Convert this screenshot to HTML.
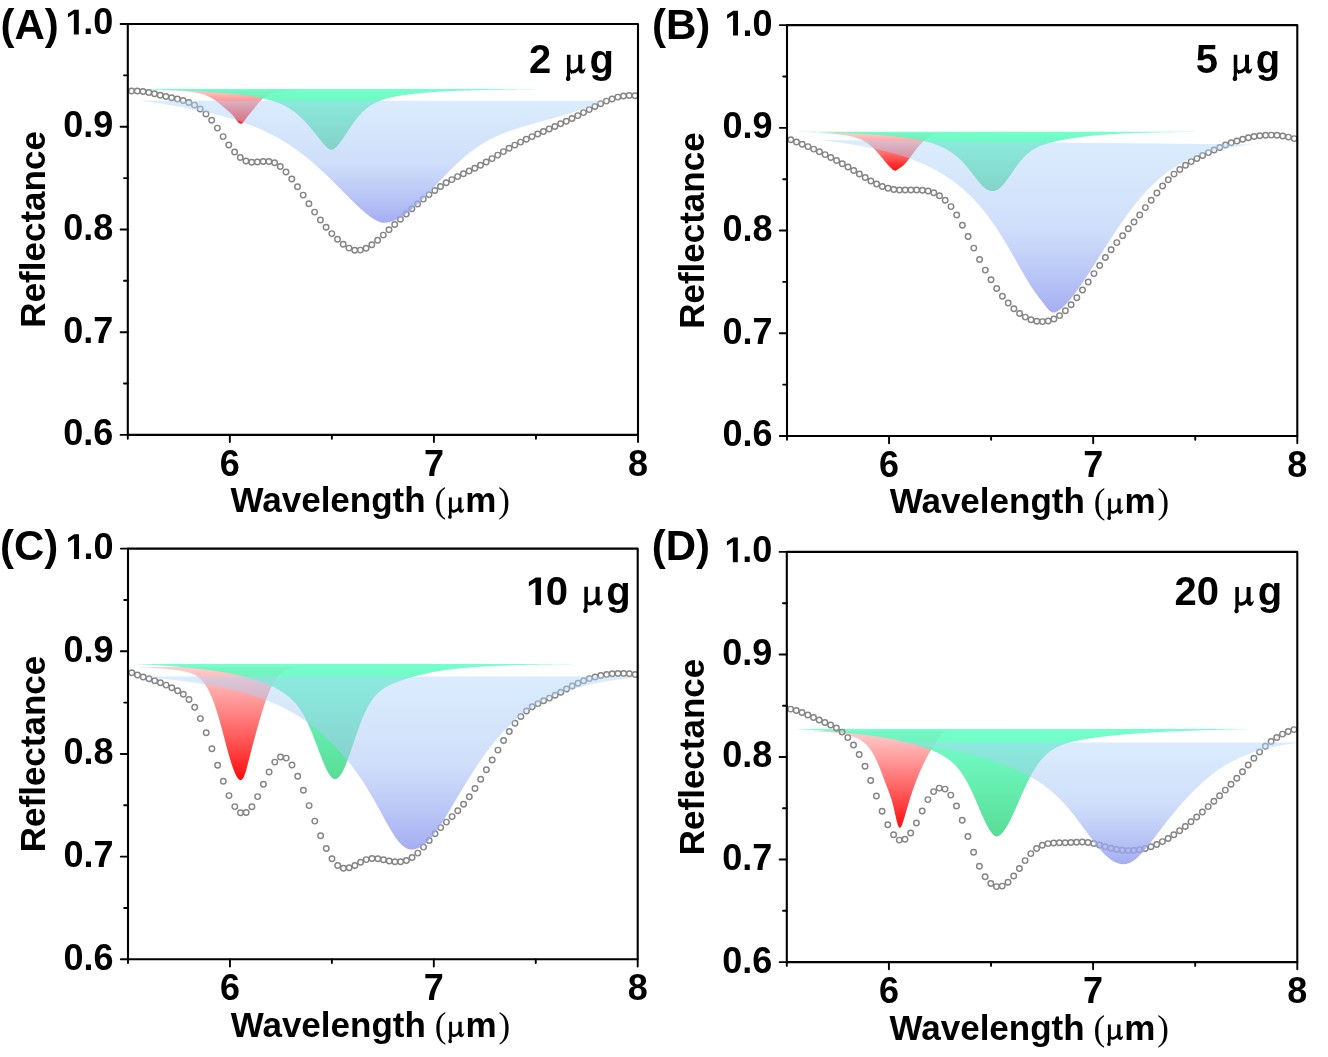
<!DOCTYPE html>
<html><head><meta charset="utf-8"><style>
html,body{margin:0;padding:0;background:#fff;width:1328px;height:1057px;overflow:hidden}
svg{display:block;filter:blur(0.45px)}
text{font-family:"Liberation Sans",sans-serif;font-weight:bold;fill:#000}
.tk{font-size:36px}
.let{font-size:42px}
.conc{font-size:40px}
.mu{font-family:"Liberation Serif",serif;font-weight:normal;font-size:43px}
.ax{font-size:35px}
.rg{font-weight:normal}
.ser{font-family:"Liberation Serif",serif;font-weight:normal}
</style></head><body>
<svg width="1328" height="1057" viewBox="0 0 1328 1057">
<rect width="1328" height="1057" fill="#fff"/>
<clipPath id="clipA"><rect x="127.8" y="24.0" width="510.2" height="410.9"/></clipPath>
<linearGradient id="gAred" gradientUnits="userSpaceOnUse" x1="0" y1="90.0" x2="0" y2="124.0"><stop offset="0" stop-color="#ffc4c4" stop-opacity="0.85"/><stop offset="1" stop-color="#ff0a0a" stop-opacity="1.00"/></linearGradient>
<linearGradient id="gAgreen" gradientUnits="userSpaceOnUse" x1="0" y1="89.0" x2="0" y2="150.0"><stop offset="0" stop-color="#5cffc4" stop-opacity="0.85"/><stop offset="1" stop-color="#46d98a" stop-opacity="0.90"/></linearGradient>
<linearGradient id="gAblue" gradientUnits="userSpaceOnUse" x1="0" y1="100.8" x2="0" y2="222.8"><stop offset="0" stop-color="#add5f9" stop-opacity="0.45"/><stop offset="0.5" stop-color="#a8c4f6" stop-opacity="0.55"/><stop offset="1" stop-color="#959fef" stop-opacity="0.85"/></linearGradient>
<g clip-path="url(#clipA)">
<path d="M150.0,90.00 L150.0,90.01 L150.5,90.01 L151.0,90.02 L151.5,90.02 L152.0,90.03 L152.5,90.04 L153.0,90.04 L153.5,90.05 L154.0,90.06 L154.5,90.07 L155.0,90.08 L155.5,90.09 L156.0,90.09 L156.5,90.10 L157.0,90.11 L157.5,90.12 L158.0,90.13 L158.5,90.14 L159.0,90.15 L159.5,90.16 L160.0,90.17 L160.5,90.18 L161.0,90.20 L161.5,90.21 L162.0,90.22 L162.5,90.23 L163.0,90.24 L163.5,90.26 L164.0,90.27 L164.5,90.28 L165.0,90.29 L165.5,90.31 L166.0,90.32 L166.5,90.34 L167.0,90.35 L167.5,90.37 L168.0,90.38 L168.5,90.40 L169.0,90.42 L169.5,90.43 L170.0,90.45 L170.5,90.47 L171.0,90.49 L171.5,90.51 L172.0,90.53 L172.5,90.55 L173.0,90.57 L173.5,90.59 L174.0,90.61 L174.5,90.63 L175.0,90.66 L175.5,90.68 L176.0,90.71 L176.5,90.73 L177.0,90.76 L177.5,90.78 L178.0,90.81 L178.5,90.84 L179.0,90.87 L179.5,90.90 L180.0,90.93 L180.5,90.96 L181.0,90.99 L181.5,91.03 L182.0,91.06 L182.5,91.10 L183.0,91.14 L183.5,91.17 L184.0,91.21 L184.5,91.26 L185.0,91.30 L185.5,91.34 L186.0,91.39 L186.5,91.43 L187.0,91.48 L187.5,91.53 L188.0,91.58 L188.5,91.63 L189.0,91.69 L189.5,91.75 L190.0,91.81 L190.5,91.87 L191.0,91.93 L191.5,91.99 L192.0,92.06 L192.5,92.13 L193.0,92.20 L193.5,92.28 L194.0,92.35 L194.5,92.43 L195.0,92.52 L195.5,92.60 L196.0,92.69 L196.5,92.79 L197.0,92.88 L197.5,92.98 L198.0,93.08 L198.5,93.19 L199.0,93.30 L199.5,93.42 L200.0,93.54 L200.5,93.66 L201.0,93.79 L201.5,93.92 L202.0,94.06 L202.5,94.21 L203.0,94.36 L203.5,94.51 L204.0,94.67 L204.5,94.84 L205.0,95.01 L205.5,95.19 L206.0,95.38 L206.5,95.57 L207.0,95.77 L207.5,95.98 L208.0,96.20 L208.5,96.42 L209.0,96.66 L209.5,96.90 L210.0,97.15 L210.5,97.40 L211.0,97.67 L211.5,97.95 L212.0,98.23 L212.5,98.53 L213.0,98.83 L213.5,99.15 L214.0,99.47 L214.5,99.80 L215.0,100.15 L215.5,100.50 L216.0,100.86 L216.5,101.23 L217.0,101.61 L217.5,102.00 L218.0,102.39 L218.5,102.79 L219.0,103.20 L219.5,103.62 L220.0,104.04 L220.5,104.47 L221.0,104.90 L221.5,105.33 L222.0,105.77 L222.5,106.20 L223.0,106.64 L223.5,107.08 L224.0,107.51 L224.5,107.94 L225.0,108.37 L225.5,108.80 L226.0,109.22 L226.5,109.64 L227.0,110.06 L227.5,110.48 L228.0,110.89 L228.5,111.31 L229.0,111.74 L229.5,112.17 L230.0,112.61 L230.5,113.06 L231.0,113.54 L231.5,114.03 L232.0,114.55 L232.5,115.09 L233.0,115.66 L233.5,116.25 L234.0,116.87 L234.5,117.52 L235.0,118.17 L235.5,118.84 L236.0,119.51 L236.5,120.17 L237.0,120.81 L237.5,121.41 L238.0,121.97 L238.5,122.46 L239.0,122.89 L239.5,123.23 L240.0,123.47 L240.5,123.61 L241.0,123.64 L241.5,123.55 L242.0,123.33 L242.5,123.00 L243.0,122.57 L243.5,122.04 L244.0,121.43 L244.5,120.77 L245.0,120.08 L245.5,119.36 L246.0,118.65 L246.5,117.94 L247.0,117.24 L247.5,116.57 L248.0,115.92 L248.5,115.28 L249.0,114.67 L249.5,114.07 L250.0,113.47 L250.5,112.88 L251.0,112.29 L251.5,111.70 L252.0,111.10 L252.5,110.49 L253.0,109.88 L253.5,109.26 L254.0,108.63 L254.5,108.00 L255.0,107.37 L255.5,106.74 L256.0,106.12 L256.5,105.50 L257.0,104.88 L257.5,104.28 L258.0,103.69 L258.5,103.12 L259.0,102.56 L259.5,102.01 L260.0,101.48 L260.5,100.97 L261.0,100.48 L261.5,100.01 L262.0,99.55 L262.5,99.12 L263.0,98.70 L263.5,98.30 L264.0,97.91 L264.5,97.55 L265.0,97.20 L265.5,96.86 L266.0,96.55 L266.5,96.24 L267.0,95.96 L267.5,95.68 L268.0,95.42 L268.5,95.17 L269.0,94.94 L269.5,94.71 L270.0,94.50 L270.5,94.29 L271.0,94.10 L271.5,93.92 L272.0,93.74 L272.5,93.57 L273.0,93.41 L273.5,93.26 L274.0,93.12 L274.5,92.98 L275.0,92.85 L275.5,92.73 L276.0,92.61 L276.5,92.49 L277.0,92.39 L277.5,92.28 L278.0,92.19 L278.5,92.09 L279.0,92.00 L279.5,91.92 L280.0,91.83 L280.5,91.76 L281.0,91.68 L281.5,91.61 L282.0,91.54 L282.5,91.47 L283.0,91.41 L283.5,91.35 L284.0,91.29 L284.5,91.24 L285.0,91.18 L285.5,91.13 L286.0,91.08 L286.5,91.04 L287.0,90.99 L287.5,90.95 L288.0,90.91 L288.5,90.87 L289.0,90.83 L289.5,90.79 L290.0,90.76 L290.5,90.72 L291.0,90.69 L291.5,90.66 L292.0,90.63 L292.5,90.60 L293.0,90.57 L293.5,90.54 L294.0,90.51 L294.5,90.49 L295.0,90.46 L295.5,90.44 L296.0,90.42 L296.5,90.39 L297.0,90.37 L297.5,90.35 L298.0,90.33 L298.5,90.31 L299.0,90.29 L299.5,90.28 L300.0,90.26 L300.5,90.24 L301.0,90.22 L301.5,90.21 L302.0,90.19 L302.5,90.18 L303.0,90.16 L303.5,90.15 L304.0,90.14 L304.5,90.12 L305.0,90.11 L305.5,90.10 L306.0,90.09 L306.5,90.07 L307.0,90.06 L307.5,90.05 L308.0,90.04 L308.5,90.03 L309.0,90.02 L309.5,90.02 L310.0,90.01 L310.0,90.00 Z" fill="url(#gAred)"/>
<path d="M130.0,89.00 L130.0,89.01 L130.5,89.02 L131.0,89.02 L131.5,89.03 L132.0,89.04 L132.5,89.05 L133.0,89.06 L133.5,89.08 L134.0,89.09 L134.5,89.10 L135.0,89.11 L135.5,89.12 L136.0,89.13 L136.5,89.14 L137.0,89.15 L137.5,89.17 L138.0,89.18 L138.5,89.19 L139.0,89.20 L139.5,89.21 L140.0,89.23 L140.5,89.24 L141.0,89.25 L141.5,89.26 L142.0,89.27 L142.5,89.29 L143.0,89.30 L143.5,89.31 L144.0,89.32 L144.5,89.34 L145.0,89.35 L145.5,89.36 L146.0,89.37 L146.5,89.39 L147.0,89.40 L147.5,89.41 L148.0,89.43 L148.5,89.44 L149.0,89.45 L149.5,89.47 L150.0,89.48 L150.5,89.49 L151.0,89.51 L151.5,89.52 L152.0,89.53 L152.5,89.55 L153.0,89.56 L153.5,89.58 L154.0,89.59 L154.5,89.60 L155.0,89.62 L155.5,89.63 L156.0,89.65 L156.5,89.66 L157.0,89.68 L157.5,89.69 L158.0,89.71 L158.5,89.72 L159.0,89.74 L159.5,89.75 L160.0,89.77 L160.5,89.78 L161.0,89.80 L161.5,89.81 L162.0,89.83 L162.5,89.85 L163.0,89.86 L163.5,89.88 L164.0,89.89 L164.5,89.91 L165.0,89.93 L165.5,89.94 L166.0,89.96 L166.5,89.98 L167.0,89.99 L167.5,90.01 L168.0,90.03 L168.5,90.04 L169.0,90.06 L169.5,90.08 L170.0,90.10 L170.5,90.11 L171.0,90.13 L171.5,90.15 L172.0,90.17 L172.5,90.19 L173.0,90.20 L173.5,90.22 L174.0,90.24 L174.5,90.26 L175.0,90.28 L175.5,90.30 L176.0,90.32 L176.5,90.34 L177.0,90.36 L177.5,90.38 L178.0,90.40 L178.5,90.42 L179.0,90.44 L179.5,90.46 L180.0,90.48 L180.5,90.50 L181.0,90.52 L181.5,90.54 L182.0,90.56 L182.5,90.58 L183.0,90.60 L183.5,90.62 L184.0,90.64 L184.5,90.67 L185.0,90.69 L185.5,90.71 L186.0,90.73 L186.5,90.75 L187.0,90.78 L187.5,90.80 L188.0,90.82 L188.5,90.85 L189.0,90.87 L189.5,90.89 L190.0,90.92 L190.5,90.94 L191.0,90.96 L191.5,90.99 L192.0,91.01 L192.5,91.04 L193.0,91.06 L193.5,91.09 L194.0,91.11 L194.5,91.14 L195.0,91.16 L195.5,91.19 L196.0,91.22 L196.5,91.24 L197.0,91.27 L197.5,91.29 L198.0,91.32 L198.5,91.35 L199.0,91.38 L199.5,91.40 L200.0,91.43 L200.5,91.46 L201.0,91.49 L201.5,91.52 L202.0,91.55 L202.5,91.57 L203.0,91.60 L203.5,91.63 L204.0,91.66 L204.5,91.69 L205.0,91.72 L205.5,91.75 L206.0,91.78 L206.5,91.82 L207.0,91.85 L207.5,91.88 L208.0,91.91 L208.5,91.94 L209.0,91.97 L209.5,92.01 L210.0,92.04 L210.5,92.07 L211.0,92.11 L211.5,92.14 L212.0,92.18 L212.5,92.21 L213.0,92.24 L213.5,92.28 L214.0,92.32 L214.5,92.35 L215.0,92.39 L215.5,92.42 L216.0,92.46 L216.5,92.50 L217.0,92.54 L217.5,92.57 L218.0,92.61 L218.5,92.65 L219.0,92.69 L219.5,92.73 L220.0,92.77 L220.5,92.81 L221.0,92.85 L221.5,92.89 L222.0,92.93 L222.5,92.97 L223.0,93.01 L223.5,93.06 L224.0,93.10 L224.5,93.14 L225.0,93.19 L225.5,93.23 L226.0,93.28 L226.5,93.32 L227.0,93.37 L227.5,93.41 L228.0,93.46 L228.5,93.51 L229.0,93.55 L229.5,93.60 L230.0,93.65 L230.5,93.70 L231.0,93.75 L231.5,93.80 L232.0,93.85 L232.5,93.90 L233.0,93.95 L233.5,94.00 L234.0,94.05 L234.5,94.11 L235.0,94.16 L235.5,94.21 L236.0,94.27 L236.5,94.32 L237.0,94.38 L237.5,94.44 L238.0,94.49 L238.5,94.55 L239.0,94.61 L239.5,94.67 L240.0,94.73 L240.5,94.79 L241.0,94.85 L241.5,94.91 L242.0,94.98 L242.5,95.04 L243.0,95.10 L243.5,95.17 L244.0,95.23 L244.5,95.30 L245.0,95.37 L245.5,95.44 L246.0,95.50 L246.5,95.57 L247.0,95.64 L247.5,95.72 L248.0,95.79 L248.5,95.86 L249.0,95.93 L249.5,96.01 L250.0,96.09 L250.5,96.16 L251.0,96.24 L251.5,96.32 L252.0,96.40 L252.5,96.48 L253.0,96.56 L253.5,96.65 L254.0,96.73 L254.5,96.82 L255.0,96.90 L255.5,96.99 L256.0,97.08 L256.5,97.17 L257.0,97.26 L257.5,97.35 L258.0,97.45 L258.5,97.54 L259.0,97.64 L259.5,97.74 L260.0,97.84 L260.5,97.94 L261.0,98.04 L261.5,98.15 L262.0,98.26 L262.5,98.36 L263.0,98.47 L263.5,98.58 L264.0,98.70 L264.5,98.81 L265.0,98.93 L265.5,99.05 L266.0,99.17 L266.5,99.30 L267.0,99.42 L267.5,99.55 L268.0,99.68 L268.5,99.81 L269.0,99.95 L269.5,100.08 L270.0,100.22 L270.5,100.37 L271.0,100.51 L271.5,100.66 L272.0,100.81 L272.5,100.96 L273.0,101.12 L273.5,101.28 L274.0,101.44 L274.5,101.61 L275.0,101.78 L275.5,101.95 L276.0,102.13 L276.5,102.31 L277.0,102.49 L277.5,102.68 L278.0,102.87 L278.5,103.06 L279.0,103.26 L279.5,103.46 L280.0,103.67 L280.5,103.88 L281.0,104.10 L281.5,104.32 L282.0,104.54 L282.5,104.77 L283.0,105.01 L283.5,105.25 L284.0,105.49 L284.5,105.74 L285.0,106.00 L285.5,106.26 L286.0,106.52 L286.5,106.80 L287.0,107.07 L287.5,107.36 L288.0,107.64 L288.5,107.94 L289.0,108.24 L289.5,108.55 L290.0,108.86 L290.5,109.18 L291.0,109.50 L291.5,109.84 L292.0,110.18 L292.5,110.52 L293.0,110.87 L293.5,111.23 L294.0,111.60 L294.5,111.97 L295.0,112.35 L295.5,112.74 L296.0,113.13 L296.5,113.54 L297.0,113.94 L297.5,114.36 L298.0,114.78 L298.5,115.21 L299.0,115.65 L299.5,116.10 L300.0,116.55 L300.5,117.01 L301.0,117.48 L301.5,117.95 L302.0,118.43 L302.5,118.92 L303.0,119.42 L303.5,119.92 L304.0,120.43 L304.5,120.95 L305.0,121.48 L305.5,122.01 L306.0,122.55 L306.5,123.09 L307.0,123.64 L307.5,124.20 L308.0,124.77 L308.5,125.34 L309.0,125.92 L309.5,126.50 L310.0,127.09 L310.5,127.68 L311.0,128.28 L311.5,128.88 L312.0,129.49 L312.5,130.10 L313.0,130.72 L313.5,131.34 L314.0,131.97 L314.5,132.59 L315.0,133.22 L315.5,133.86 L316.0,134.49 L316.5,135.13 L317.0,135.76 L317.5,136.40 L318.0,137.04 L318.5,137.67 L319.0,138.30 L319.5,138.94 L320.0,139.56 L320.5,140.19 L321.0,140.81 L321.5,141.42 L322.0,142.03 L322.5,142.63 L323.0,143.22 L323.5,143.80 L324.0,144.37 L324.5,144.93 L325.0,145.47 L325.5,145.99 L326.0,146.50 L326.5,146.98 L327.0,147.45 L327.5,147.88 L328.0,148.29 L328.5,148.66 L329.0,148.99 L329.5,149.27 L330.0,149.49 L330.5,149.65 L331.0,149.72 L331.5,149.73 L332.0,149.66 L332.5,149.52 L333.0,149.32 L333.5,149.07 L334.0,148.77 L334.5,148.44 L335.0,148.06 L335.5,147.65 L336.0,147.20 L336.5,146.72 L337.0,146.21 L337.5,145.68 L338.0,145.11 L338.5,144.53 L339.0,143.92 L339.5,143.29 L340.0,142.64 L340.5,141.97 L341.0,141.29 L341.5,140.60 L342.0,139.89 L342.5,139.17 L343.0,138.44 L343.5,137.70 L344.0,136.96 L344.5,136.21 L345.0,135.45 L345.5,134.69 L346.0,133.93 L346.5,133.17 L347.0,132.41 L347.5,131.65 L348.0,130.89 L348.5,130.13 L349.0,129.37 L349.5,128.62 L350.0,127.87 L350.5,127.13 L351.0,126.40 L351.5,125.67 L352.0,124.95 L352.5,124.24 L353.0,123.53 L353.5,122.84 L354.0,122.15 L354.5,121.47 L355.0,120.80 L355.5,120.15 L356.0,119.50 L356.5,118.86 L357.0,118.24 L357.5,117.62 L358.0,117.02 L358.5,116.43 L359.0,115.85 L359.5,115.28 L360.0,114.72 L360.5,114.17 L361.0,113.64 L361.5,113.12 L362.0,112.61 L362.5,112.11 L363.0,111.62 L363.5,111.14 L364.0,110.68 L364.5,110.22 L365.0,109.78 L365.5,109.35 L366.0,108.93 L366.5,108.52 L367.0,108.12 L367.5,107.73 L368.0,107.35 L368.5,106.98 L369.0,106.62 L369.5,106.27 L370.0,105.93 L370.5,105.60 L371.0,105.28 L371.5,104.96 L372.0,104.66 L372.5,104.36 L373.0,104.07 L373.5,103.79 L374.0,103.52 L374.5,103.25 L375.0,102.99 L375.5,102.74 L376.0,102.49 L376.5,102.26 L377.0,102.02 L377.5,101.80 L378.0,101.58 L378.5,101.36 L379.0,101.16 L379.5,100.95 L380.0,100.76 L380.5,100.56 L381.0,100.38 L381.5,100.19 L382.0,100.01 L382.5,99.84 L383.0,99.67 L383.5,99.51 L384.0,99.34 L384.5,99.19 L385.0,99.03 L385.5,98.88 L386.0,98.74 L386.5,98.59 L387.0,98.45 L387.5,98.32 L388.0,98.18 L388.5,98.05 L389.0,97.92 L389.5,97.80 L390.0,97.68 L390.5,97.55 L391.0,97.44 L391.5,97.32 L392.0,97.21 L392.5,97.10 L393.0,96.99 L393.5,96.88 L394.0,96.78 L394.5,96.68 L395.0,96.58 L395.5,96.48 L396.0,96.38 L396.5,96.28 L397.0,96.19 L397.5,96.10 L398.0,96.01 L398.5,95.92 L399.0,95.83 L399.5,95.75 L400.0,95.66 L400.5,95.58 L401.0,95.50 L401.5,95.42 L402.0,95.34 L402.5,95.26 L403.0,95.18 L403.5,95.11 L404.0,95.04 L404.5,94.96 L405.0,94.89 L405.5,94.82 L406.0,94.75 L406.5,94.68 L407.0,94.61 L407.5,94.55 L408.0,94.48 L408.5,94.42 L409.0,94.35 L409.5,94.29 L410.0,94.23 L410.5,94.17 L411.0,94.11 L411.5,94.05 L412.0,93.99 L412.5,93.93 L413.0,93.88 L413.5,93.82 L414.0,93.76 L414.5,93.71 L415.0,93.66 L415.5,93.60 L416.0,93.55 L416.5,93.50 L417.0,93.45 L417.5,93.40 L418.0,93.35 L418.5,93.30 L419.0,93.25 L419.5,93.20 L420.0,93.16 L420.5,93.11 L421.0,93.06 L421.5,93.02 L422.0,92.97 L422.5,92.93 L423.0,92.89 L423.5,92.84 L424.0,92.80 L424.5,92.76 L425.0,92.72 L425.5,92.68 L426.0,92.64 L426.5,92.60 L427.0,92.56 L427.5,92.52 L428.0,92.48 L428.5,92.44 L429.0,92.40 L429.5,92.37 L430.0,92.33 L430.5,92.29 L431.0,92.26 L431.5,92.22 L432.0,92.19 L432.5,92.15 L433.0,92.12 L433.5,92.09 L434.0,92.05 L434.5,92.02 L435.0,91.99 L435.5,91.95 L436.0,91.92 L436.5,91.89 L437.0,91.86 L437.5,91.83 L438.0,91.80 L438.5,91.77 L439.0,91.74 L439.5,91.71 L440.0,91.68 L440.5,91.65 L441.0,91.62 L441.5,91.60 L442.0,91.57 L442.5,91.54 L443.0,91.51 L443.5,91.49 L444.0,91.46 L444.5,91.43 L445.0,91.41 L445.5,91.38 L446.0,91.36 L446.5,91.33 L447.0,91.31 L447.5,91.28 L448.0,91.26 L448.5,91.23 L449.0,91.21 L449.5,91.18 L450.0,91.16 L450.5,91.14 L451.0,91.12 L451.5,91.09 L452.0,91.07 L452.5,91.05 L453.0,91.03 L453.5,91.00 L454.0,90.98 L454.5,90.96 L455.0,90.94 L455.5,90.92 L456.0,90.90 L456.5,90.88 L457.0,90.86 L457.5,90.84 L458.0,90.82 L458.5,90.80 L459.0,90.78 L459.5,90.76 L460.0,90.74 L460.5,90.72 L461.0,90.70 L461.5,90.68 L462.0,90.66 L462.5,90.65 L463.0,90.63 L463.5,90.61 L464.0,90.59 L464.5,90.58 L465.0,90.56 L465.5,90.54 L466.0,90.52 L466.5,90.51 L467.0,90.49 L467.5,90.47 L468.0,90.46 L468.5,90.44 L469.0,90.42 L469.5,90.41 L470.0,90.39 L470.5,90.38 L471.0,90.36 L471.5,90.35 L472.0,90.33 L472.5,90.32 L473.0,90.30 L473.5,90.29 L474.0,90.27 L474.5,90.26 L475.0,90.24 L475.5,90.23 L476.0,90.21 L476.5,90.20 L477.0,90.18 L477.5,90.17 L478.0,90.16 L478.5,90.14 L479.0,90.13 L479.5,90.12 L480.0,90.10 L480.5,90.09 L481.0,90.08 L481.5,90.06 L482.0,90.05 L482.5,90.04 L483.0,90.03 L483.5,90.01 L484.0,90.00 L484.5,89.99 L485.0,89.98 L485.5,89.96 L486.0,89.95 L486.5,89.94 L487.0,89.93 L487.5,89.92 L488.0,89.90 L488.5,89.89 L489.0,89.88 L489.5,89.87 L490.0,89.86 L490.5,89.85 L491.0,89.84 L491.5,89.83 L492.0,89.81 L492.5,89.80 L493.0,89.79 L493.5,89.78 L494.0,89.77 L494.5,89.76 L495.0,89.75 L495.5,89.74 L496.0,89.73 L496.5,89.72 L497.0,89.71 L497.5,89.70 L498.0,89.69 L498.5,89.68 L499.0,89.67 L499.5,89.66 L500.0,89.65 L500.5,89.64 L501.0,89.63 L501.5,89.62 L502.0,89.61 L502.5,89.60 L503.0,89.60 L503.5,89.59 L504.0,89.58 L504.5,89.57 L505.0,89.56 L505.5,89.55 L506.0,89.54 L506.5,89.53 L507.0,89.52 L507.5,89.52 L508.0,89.51 L508.5,89.50 L509.0,89.49 L509.5,89.48 L510.0,89.47 L510.5,89.47 L511.0,89.46 L511.5,89.45 L512.0,89.44 L512.5,89.43 L513.0,89.42 L513.5,89.42 L514.0,89.41 L514.5,89.40 L515.0,89.39 L515.5,89.39 L516.0,89.38 L516.5,89.37 L517.0,89.36 L517.5,89.36 L518.0,89.35 L518.5,89.34 L519.0,89.33 L519.5,89.33 L520.0,89.32 L520.5,89.31 L521.0,89.31 L521.5,89.30 L522.0,89.29 L522.5,89.28 L523.0,89.28 L523.5,89.27 L524.0,89.26 L524.5,89.26 L525.0,89.25 L525.5,89.24 L526.0,89.24 L526.5,89.23 L527.0,89.22 L527.5,89.22 L528.0,89.21 L528.5,89.20 L529.0,89.20 L529.5,89.19 L530.0,89.19 L530.5,89.18 L531.0,89.17 L531.5,89.17 L532.0,89.16 L532.5,89.15 L533.0,89.15 L533.5,89.14 L534.0,89.14 L534.5,89.13 L535.0,89.12 L535.5,89.12 L536.0,89.11 L536.5,89.11 L537.0,89.10 L537.5,89.10 L538.0,89.09 L538.5,89.08 L539.0,89.08 L539.5,89.07 L540.0,89.07 L540.5,89.06 L541.0,89.06 L541.5,89.05 L542.0,89.05 L542.5,89.04 L543.0,89.04 L543.5,89.03 L544.0,89.03 L544.5,89.02 L545.0,89.02 L545.5,89.01 L546.0,89.01 L546.0,89.00 Z" fill="url(#gAgreen)"/>
<g fill="none" stroke="#858585" stroke-width="1.45"><circle cx="131.6" cy="90.9" r="2.75"/><circle cx="137.3" cy="90.9" r="2.75"/><circle cx="143.0" cy="91.5" r="2.75"/><circle cx="148.8" cy="92.5" r="2.75"/><circle cx="154.5" cy="93.8" r="2.75"/><circle cx="160.2" cy="95.2" r="2.75"/><circle cx="165.9" cy="96.5" r="2.75"/><circle cx="171.6" cy="97.7" r="2.75"/><circle cx="177.4" cy="98.9" r="2.75"/><circle cx="183.1" cy="100.4" r="2.75"/><circle cx="188.8" cy="102.4" r="2.75"/><circle cx="194.5" cy="105.1" r="2.75"/><circle cx="200.2" cy="108.9" r="2.75"/><circle cx="206.0" cy="113.9" r="2.75"/><circle cx="211.7" cy="120.3" r="2.75"/><circle cx="217.4" cy="128.1" r="2.75"/><circle cx="223.1" cy="136.6" r="2.75"/><circle cx="228.8" cy="144.9" r="2.75"/><circle cx="234.6" cy="152.0" r="2.75"/><circle cx="240.3" cy="157.5" r="2.75"/><circle cx="246.0" cy="161.0" r="2.75"/><circle cx="251.7" cy="162.2" r="2.75"/><circle cx="257.4" cy="162.0" r="2.75"/><circle cx="263.2" cy="161.4" r="2.75"/><circle cx="268.9" cy="161.4" r="2.75"/><circle cx="274.6" cy="162.8" r="2.75"/><circle cx="280.3" cy="166.4" r="2.75"/><circle cx="286.0" cy="171.9" r="2.75"/><circle cx="291.8" cy="178.9" r="2.75"/><circle cx="297.5" cy="186.7" r="2.75"/><circle cx="303.2" cy="195.1" r="2.75"/><circle cx="308.9" cy="203.7" r="2.75"/><circle cx="314.6" cy="212.1" r="2.75"/><circle cx="320.4" cy="220.0" r="2.75"/><circle cx="326.1" cy="227.2" r="2.75"/><circle cx="331.8" cy="233.6" r="2.75"/><circle cx="337.5" cy="239.3" r="2.75"/><circle cx="343.2" cy="244.2" r="2.75"/><circle cx="349.0" cy="248.1" r="2.75"/><circle cx="354.7" cy="250.2" r="2.75"/><circle cx="360.4" cy="250.1" r="2.75"/><circle cx="366.1" cy="248.2" r="2.75"/><circle cx="371.8" cy="244.7" r="2.75"/><circle cx="377.6" cy="240.2" r="2.75"/><circle cx="383.3" cy="235.1" r="2.75"/><circle cx="389.0" cy="229.8" r="2.75"/><circle cx="394.7" cy="224.5" r="2.75"/><circle cx="400.4" cy="219.2" r="2.75"/><circle cx="406.2" cy="213.9" r="2.75"/><circle cx="411.9" cy="208.8" r="2.75"/><circle cx="417.6" cy="203.9" r="2.75"/><circle cx="423.3" cy="199.1" r="2.75"/><circle cx="429.0" cy="194.6" r="2.75"/><circle cx="434.8" cy="190.4" r="2.75"/><circle cx="440.5" cy="186.4" r="2.75"/><circle cx="446.2" cy="182.8" r="2.75"/><circle cx="451.9" cy="179.6" r="2.75"/><circle cx="457.6" cy="176.6" r="2.75"/><circle cx="463.4" cy="173.8" r="2.75"/><circle cx="469.1" cy="171.0" r="2.75"/><circle cx="474.8" cy="168.2" r="2.75"/><circle cx="480.5" cy="165.2" r="2.75"/><circle cx="486.2" cy="162.0" r="2.75"/><circle cx="492.0" cy="158.6" r="2.75"/><circle cx="497.7" cy="155.1" r="2.75"/><circle cx="503.4" cy="151.6" r="2.75"/><circle cx="509.1" cy="148.3" r="2.75"/><circle cx="514.8" cy="145.1" r="2.75"/><circle cx="520.6" cy="142.1" r="2.75"/><circle cx="526.3" cy="139.3" r="2.75"/><circle cx="532.0" cy="136.6" r="2.75"/><circle cx="537.7" cy="134.0" r="2.75"/><circle cx="543.4" cy="131.4" r="2.75"/><circle cx="549.2" cy="128.9" r="2.75"/><circle cx="554.9" cy="126.4" r="2.75"/><circle cx="560.6" cy="123.8" r="2.75"/><circle cx="566.3" cy="121.2" r="2.75"/><circle cx="572.0" cy="118.5" r="2.75"/><circle cx="577.8" cy="115.6" r="2.75"/><circle cx="583.5" cy="112.6" r="2.75"/><circle cx="589.2" cy="109.6" r="2.75"/><circle cx="594.9" cy="106.5" r="2.75"/><circle cx="600.6" cy="103.7" r="2.75"/><circle cx="606.4" cy="101.1" r="2.75"/><circle cx="612.1" cy="98.9" r="2.75"/><circle cx="617.8" cy="97.1" r="2.75"/><circle cx="623.5" cy="96.0" r="2.75"/><circle cx="629.2" cy="95.5" r="2.75"/><circle cx="635.0" cy="95.8" r="2.75"/></g>
<path d="M140.0,100.80 L140.0,100.86 L140.5,100.90 L141.0,100.95 L141.5,101.00 L142.0,101.06 L142.5,101.12 L143.0,101.19 L143.5,101.25 L144.0,101.32 L144.5,101.38 L145.0,101.45 L145.5,101.52 L146.0,101.58 L146.5,101.65 L147.0,101.72 L147.5,101.79 L148.0,101.85 L148.5,101.92 L149.0,101.99 L149.5,102.06 L150.0,102.13 L150.5,102.20 L151.0,102.27 L151.5,102.34 L152.0,102.41 L152.5,102.48 L153.0,102.55 L153.5,102.62 L154.0,102.69 L154.5,102.76 L155.0,102.83 L155.5,102.90 L156.0,102.97 L156.5,103.05 L157.0,103.12 L157.5,103.19 L158.0,103.27 L158.5,103.34 L159.0,103.41 L159.5,103.49 L160.0,103.56 L160.5,103.64 L161.0,103.71 L161.5,103.79 L162.0,103.87 L162.5,103.94 L163.0,104.02 L163.5,104.09 L164.0,104.17 L164.5,104.25 L165.0,104.33 L165.5,104.41 L166.0,104.48 L166.5,104.56 L167.0,104.64 L167.5,104.72 L168.0,104.80 L168.5,104.88 L169.0,104.96 L169.5,105.04 L170.0,105.12 L170.5,105.21 L171.0,105.29 L171.5,105.37 L172.0,105.45 L172.5,105.53 L173.0,105.62 L173.5,105.70 L174.0,105.79 L174.5,105.87 L175.0,105.95 L175.5,106.04 L176.0,106.13 L176.5,106.21 L177.0,106.30 L177.5,106.38 L178.0,106.47 L178.5,106.56 L179.0,106.65 L179.5,106.73 L180.0,106.82 L180.5,106.91 L181.0,107.00 L181.5,107.09 L182.0,107.18 L182.5,107.27 L183.0,107.36 L183.5,107.45 L184.0,107.55 L184.5,107.64 L185.0,107.73 L185.5,107.82 L186.0,107.92 L186.5,108.01 L187.0,108.10 L187.5,108.20 L188.0,108.29 L188.5,108.39 L189.0,108.49 L189.5,108.58 L190.0,108.68 L190.5,108.78 L191.0,108.87 L191.5,108.97 L192.0,109.07 L192.5,109.17 L193.0,109.27 L193.5,109.37 L194.0,109.47 L194.5,109.57 L195.0,109.67 L195.5,109.78 L196.0,109.88 L196.5,109.98 L197.0,110.08 L197.5,110.19 L198.0,110.29 L198.5,110.40 L199.0,110.50 L199.5,110.61 L200.0,110.72 L200.5,110.82 L201.0,110.93 L201.5,111.04 L202.0,111.15 L202.5,111.26 L203.0,111.37 L203.5,111.48 L204.0,111.59 L204.5,111.70 L205.0,111.81 L205.5,111.92 L206.0,112.04 L206.5,112.15 L207.0,112.26 L207.5,112.38 L208.0,112.49 L208.5,112.61 L209.0,112.73 L209.5,112.84 L210.0,112.96 L210.5,113.08 L211.0,113.20 L211.5,113.32 L212.0,113.44 L212.5,113.56 L213.0,113.68 L213.5,113.80 L214.0,113.93 L214.5,114.05 L215.0,114.17 L215.5,114.30 L216.0,114.42 L216.5,114.55 L217.0,114.68 L217.5,114.81 L218.0,114.93 L218.5,115.06 L219.0,115.19 L219.5,115.32 L220.0,115.45 L220.5,115.59 L221.0,115.72 L221.5,115.85 L222.0,115.99 L222.5,116.12 L223.0,116.26 L223.5,116.39 L224.0,116.53 L224.5,116.67 L225.0,116.81 L225.5,116.95 L226.0,117.09 L226.5,117.23 L227.0,117.37 L227.5,117.51 L228.0,117.65 L228.5,117.80 L229.0,117.94 L229.5,118.09 L230.0,118.24 L230.5,118.39 L231.0,118.53 L231.5,118.68 L232.0,118.83 L232.5,118.99 L233.0,119.14 L233.5,119.29 L234.0,119.45 L234.5,119.60 L235.0,119.76 L235.5,119.91 L236.0,120.07 L236.5,120.23 L237.0,120.39 L237.5,120.55 L238.0,120.72 L238.5,120.88 L239.0,121.04 L239.5,121.21 L240.0,121.37 L240.5,121.54 L241.0,121.71 L241.5,121.88 L242.0,122.05 L242.5,122.22 L243.0,122.39 L243.5,122.57 L244.0,122.74 L244.5,122.92 L245.0,123.10 L245.5,123.27 L246.0,123.45 L246.5,123.63 L247.0,123.82 L247.5,124.00 L248.0,124.18 L248.5,124.37 L249.0,124.56 L249.5,124.74 L250.0,124.93 L250.5,125.12 L251.0,125.32 L251.5,125.51 L252.0,125.70 L252.5,125.90 L253.0,126.10 L253.5,126.30 L254.0,126.50 L254.5,126.70 L255.0,126.90 L255.5,127.10 L256.0,127.31 L256.5,127.52 L257.0,127.72 L257.5,127.93 L258.0,128.15 L258.5,128.36 L259.0,128.57 L259.5,128.79 L260.0,129.00 L260.5,129.22 L261.0,129.44 L261.5,129.67 L262.0,129.89 L262.5,130.11 L263.0,130.34 L263.5,130.57 L264.0,130.80 L264.5,131.03 L265.0,131.26 L265.5,131.50 L266.0,131.73 L266.5,131.97 L267.0,132.21 L267.5,132.45 L268.0,132.69 L268.5,132.94 L269.0,133.18 L269.5,133.43 L270.0,133.68 L270.5,133.93 L271.0,134.19 L271.5,134.44 L272.0,134.70 L272.5,134.96 L273.0,135.22 L273.5,135.48 L274.0,135.75 L274.5,136.01 L275.0,136.28 L275.5,136.55 L276.0,136.82 L276.5,137.10 L277.0,137.37 L277.5,137.65 L278.0,137.93 L278.5,138.21 L279.0,138.49 L279.5,138.78 L280.0,139.07 L280.5,139.36 L281.0,139.65 L281.5,139.94 L282.0,140.24 L282.5,140.53 L283.0,140.83 L283.5,141.14 L284.0,141.44 L284.5,141.75 L285.0,142.05 L285.5,142.36 L286.0,142.68 L286.5,142.99 L287.0,143.31 L287.5,143.63 L288.0,143.95 L288.5,144.27 L289.0,144.59 L289.5,144.92 L290.0,145.25 L290.5,145.58 L291.0,145.92 L291.5,146.25 L292.0,146.59 L292.5,146.93 L293.0,147.27 L293.5,147.62 L294.0,147.96 L294.5,148.31 L295.0,148.66 L295.5,149.02 L296.0,149.37 L296.5,149.73 L297.0,150.09 L297.5,150.45 L298.0,150.82 L298.5,151.19 L299.0,151.55 L299.5,151.93 L300.0,152.30 L300.5,152.68 L301.0,153.05 L301.5,153.43 L302.0,153.82 L302.5,154.20 L303.0,154.59 L303.5,154.98 L304.0,155.37 L304.5,155.76 L305.0,156.16 L305.5,156.56 L306.0,156.96 L306.5,157.36 L307.0,157.76 L307.5,158.17 L308.0,158.58 L308.5,158.99 L309.0,159.41 L309.5,159.82 L310.0,160.24 L310.5,160.66 L311.0,161.08 L311.5,161.50 L312.0,161.93 L312.5,162.36 L313.0,162.79 L313.5,163.22 L314.0,163.66 L314.5,164.09 L315.0,164.53 L315.5,164.97 L316.0,165.42 L316.5,165.86 L317.0,166.31 L317.5,166.75 L318.0,167.20 L318.5,167.66 L319.0,168.11 L319.5,168.57 L320.0,169.03 L320.5,169.48 L321.0,169.95 L321.5,170.41 L322.0,170.87 L322.5,171.34 L323.0,171.81 L323.5,172.28 L324.0,172.75 L324.5,173.22 L325.0,173.70 L325.5,174.18 L326.0,174.65 L326.5,175.13 L327.0,175.61 L327.5,176.10 L328.0,176.58 L328.5,177.06 L329.0,177.55 L329.5,178.04 L330.0,178.53 L330.5,179.02 L331.0,179.51 L331.5,180.00 L332.0,180.50 L332.5,180.99 L333.0,181.49 L333.5,181.98 L334.0,182.48 L334.5,182.98 L335.0,183.48 L335.5,183.98 L336.0,184.48 L336.5,184.98 L337.0,185.48 L337.5,185.99 L338.0,186.49 L338.5,186.99 L339.0,187.50 L339.5,188.00 L340.0,188.51 L340.5,189.01 L341.0,189.52 L341.5,190.02 L342.0,190.53 L342.5,191.03 L343.0,191.54 L343.5,192.05 L344.0,192.55 L344.5,193.06 L345.0,193.56 L345.5,194.07 L346.0,194.57 L346.5,195.07 L347.0,195.58 L347.5,196.08 L348.0,196.58 L348.5,197.08 L349.0,197.58 L349.5,198.08 L350.0,198.58 L350.5,199.08 L351.0,199.57 L351.5,200.07 L352.0,200.56 L352.5,201.05 L353.0,201.54 L353.5,202.03 L354.0,202.52 L354.5,203.00 L355.0,203.49 L355.5,203.97 L356.0,204.45 L356.5,204.92 L357.0,205.40 L357.5,205.87 L358.0,206.34 L358.5,206.80 L359.0,207.27 L359.5,207.73 L360.0,208.19 L360.5,208.64 L361.0,209.09 L361.5,209.54 L362.0,209.99 L362.5,210.43 L363.0,210.87 L363.5,211.30 L364.0,211.73 L364.5,212.15 L365.0,212.57 L365.5,212.99 L366.0,213.40 L366.5,213.81 L367.0,214.21 L367.5,214.61 L368.0,215.00 L368.5,215.38 L369.0,215.76 L369.5,216.14 L370.0,216.50 L370.5,216.87 L371.0,217.22 L371.5,217.57 L372.0,217.91 L372.5,218.24 L373.0,218.57 L373.5,218.89 L374.0,219.20 L374.5,219.50 L375.0,219.79 L375.5,220.07 L376.0,220.35 L376.5,220.61 L377.0,220.86 L377.5,221.10 L378.0,221.33 L378.5,221.55 L379.0,221.76 L379.5,221.95 L380.0,222.12 L380.5,222.28 L381.0,222.42 L381.5,222.53 L382.0,222.62 L382.5,222.69 L383.0,222.73 L383.5,222.74 L384.0,222.74 L384.5,222.72 L385.0,222.69 L385.5,222.65 L386.0,222.60 L386.5,222.54 L387.0,222.48 L387.5,222.40 L388.0,222.32 L388.5,222.23 L389.0,222.13 L389.5,222.02 L390.0,221.90 L390.5,221.77 L391.0,221.64 L391.5,221.50 L392.0,221.35 L392.5,221.19 L393.0,221.03 L393.5,220.85 L394.0,220.67 L394.5,220.48 L395.0,220.28 L395.5,220.08 L396.0,219.86 L396.5,219.64 L397.0,219.41 L397.5,219.17 L398.0,218.93 L398.5,218.68 L399.0,218.42 L399.5,218.15 L400.0,217.88 L400.5,217.60 L401.0,217.31 L401.5,217.02 L402.0,216.71 L402.5,216.41 L403.0,216.09 L403.5,215.77 L404.0,215.44 L404.5,215.10 L405.0,214.76 L405.5,214.41 L406.0,214.06 L406.5,213.70 L407.0,213.33 L407.5,212.96 L408.0,212.58 L408.5,212.19 L409.0,211.80 L409.5,211.41 L410.0,211.00 L410.5,210.60 L411.0,210.18 L411.5,209.77 L412.0,209.34 L412.5,208.92 L413.0,208.48 L413.5,208.05 L414.0,207.60 L414.5,207.16 L415.0,206.71 L415.5,206.25 L416.0,205.79 L416.5,205.33 L417.0,204.86 L417.5,204.38 L418.0,203.91 L418.5,203.43 L419.0,202.95 L419.5,202.46 L420.0,201.97 L420.5,201.48 L421.0,200.98 L421.5,200.48 L422.0,199.98 L422.5,199.47 L423.0,198.96 L423.5,198.45 L424.0,197.94 L424.5,197.42 L425.0,196.90 L425.5,196.38 L426.0,195.86 L426.5,195.34 L427.0,194.81 L427.5,194.28 L428.0,193.76 L428.5,193.22 L429.0,192.69 L429.5,192.16 L430.0,191.62 L430.5,191.09 L431.0,190.55 L431.5,190.01 L432.0,189.48 L432.5,188.94 L433.0,188.40 L433.5,187.86 L434.0,187.32 L434.5,186.78 L435.0,186.23 L435.5,185.69 L436.0,185.15 L436.5,184.61 L437.0,184.07 L437.5,183.53 L438.0,182.99 L438.5,182.45 L439.0,181.91 L439.5,181.37 L440.0,180.84 L440.5,180.30 L441.0,179.76 L441.5,179.23 L442.0,178.69 L442.5,178.16 L443.0,177.63 L443.5,177.10 L444.0,176.57 L444.5,176.04 L445.0,175.52 L445.5,174.99 L446.0,174.47 L446.5,173.95 L447.0,173.43 L447.5,172.91 L448.0,172.40 L448.5,171.89 L449.0,171.38 L449.5,170.87 L450.0,170.36 L450.5,169.86 L451.0,169.35 L451.5,168.85 L452.0,168.36 L452.5,167.86 L453.0,167.37 L453.5,166.88 L454.0,166.39 L454.5,165.91 L455.0,165.42 L455.5,164.94 L456.0,164.47 L456.5,163.99 L457.0,163.52 L457.5,163.06 L458.0,162.59 L458.5,162.13 L459.0,161.67 L459.5,161.21 L460.0,160.76 L460.5,160.31 L461.0,159.86 L461.5,159.42 L462.0,158.98 L462.5,158.54 L463.0,158.11 L463.5,157.68 L464.0,157.25 L464.5,156.82 L465.0,156.40 L465.5,155.98 L466.0,155.57 L466.5,155.16 L467.0,154.75 L467.5,154.34 L468.0,153.94 L468.5,153.55 L469.0,153.15 L469.5,152.76 L470.0,152.37 L470.5,151.99 L471.0,151.60 L471.5,151.23 L472.0,150.85 L472.5,150.48 L473.0,150.11 L473.5,149.75 L474.0,149.39 L474.5,149.03 L475.0,148.67 L475.5,148.32 L476.0,147.97 L476.5,147.63 L477.0,147.29 L477.5,146.95 L478.0,146.61 L478.5,146.28 L479.0,145.95 L479.5,145.63 L480.0,145.30 L480.5,144.99 L481.0,144.67 L481.5,144.36 L482.0,144.05 L482.5,143.74 L483.0,143.44 L483.5,143.14 L484.0,142.84 L484.5,142.54 L485.0,142.25 L485.5,141.96 L486.0,141.68 L486.5,141.40 L487.0,141.12 L487.5,140.84 L488.0,140.57 L488.5,140.29 L489.0,140.03 L489.5,139.76 L490.0,139.50 L490.5,139.24 L491.0,138.98 L491.5,138.73 L492.0,138.47 L492.5,138.22 L493.0,137.98 L493.5,137.73 L494.0,137.49 L494.5,137.25 L495.0,137.01 L495.5,136.78 L496.0,136.55 L496.5,136.32 L497.0,136.09 L497.5,135.86 L498.0,135.64 L498.5,135.42 L499.0,135.20 L499.5,134.98 L500.0,134.77 L500.5,134.55 L501.0,134.34 L501.5,134.14 L502.0,133.93 L502.5,133.73 L503.0,133.52 L503.5,133.32 L504.0,133.12 L504.5,132.93 L505.0,132.73 L505.5,132.54 L506.0,132.35 L506.5,132.16 L507.0,131.97 L507.5,131.78 L508.0,131.60 L508.5,131.41 L509.0,131.23 L509.5,131.05 L510.0,130.87 L510.5,130.69 L511.0,130.52 L511.5,130.34 L512.0,130.17 L512.5,130.00 L513.0,129.83 L513.5,129.66 L514.0,129.49 L514.5,129.32 L515.0,129.16 L515.5,128.99 L516.0,128.83 L516.5,128.66 L517.0,128.50 L517.5,128.34 L518.0,128.18 L518.5,128.02 L519.0,127.87 L519.5,127.71 L520.0,127.55 L520.5,127.40 L521.0,127.25 L521.5,127.09 L522.0,126.94 L522.5,126.79 L523.0,126.64 L523.5,126.49 L524.0,126.34 L524.5,126.19 L525.0,126.04 L525.5,125.89 L526.0,125.75 L526.5,125.60 L527.0,125.45 L527.5,125.31 L528.0,125.16 L528.5,125.02 L529.0,124.88 L529.5,124.73 L530.0,124.59 L530.5,124.45 L531.0,124.30 L531.5,124.16 L532.0,124.02 L532.5,123.88 L533.0,123.74 L533.5,123.60 L534.0,123.46 L534.5,123.32 L535.0,123.18 L535.5,123.04 L536.0,122.90 L536.5,122.76 L537.0,122.62 L537.5,122.48 L538.0,122.34 L538.5,122.20 L539.0,122.06 L539.5,121.93 L540.0,121.79 L540.5,121.65 L541.0,121.51 L541.5,121.37 L542.0,121.23 L542.5,121.09 L543.0,120.96 L543.5,120.82 L544.0,120.68 L544.5,120.54 L545.0,120.40 L545.5,120.26 L546.0,120.12 L546.5,119.98 L547.0,119.84 L547.5,119.71 L548.0,119.57 L548.5,119.43 L549.0,119.29 L549.5,119.15 L550.0,119.01 L550.5,118.87 L551.0,118.72 L551.5,118.58 L552.0,118.44 L552.5,118.30 L553.0,118.16 L553.5,118.02 L554.0,117.88 L554.5,117.73 L555.0,117.59 L555.5,117.45 L556.0,117.30 L556.5,117.16 L557.0,117.02 L557.5,116.87 L558.0,116.73 L558.5,116.58 L559.0,116.44 L559.5,116.29 L560.0,116.15 L560.5,116.00 L561.0,115.85 L561.5,115.71 L562.0,115.56 L562.5,115.41 L563.0,115.26 L563.5,115.11 L564.0,114.97 L564.5,114.82 L565.0,114.67 L565.5,114.52 L566.0,114.37 L566.5,114.21 L567.0,114.06 L567.5,113.91 L568.0,113.76 L568.5,113.61 L569.0,113.45 L569.5,113.30 L570.0,113.14 L570.5,112.99 L571.0,112.84 L571.5,112.68 L572.0,112.52 L572.5,112.37 L573.0,112.21 L573.5,112.05 L574.0,111.90 L574.5,111.74 L575.0,111.58 L575.5,111.42 L576.0,111.26 L576.5,111.10 L577.0,110.94 L577.5,110.78 L578.0,110.62 L578.5,110.46 L579.0,110.29 L579.5,110.13 L580.0,109.97 L580.5,109.80 L581.0,109.64 L581.5,109.47 L582.0,109.31 L582.5,109.14 L583.0,108.98 L583.5,108.81 L584.0,108.64 L584.5,108.47 L585.0,108.31 L585.5,108.14 L586.0,107.97 L586.5,107.80 L587.0,107.63 L587.5,107.46 L588.0,107.29 L588.5,107.11 L589.0,106.94 L589.5,106.77 L590.0,106.60 L590.5,106.42 L591.0,106.25 L591.5,106.07 L592.0,105.90 L592.5,105.72 L593.0,105.55 L593.5,105.37 L594.0,105.19 L594.5,105.02 L595.0,104.84 L595.5,104.66 L596.0,104.48 L596.5,104.30 L597.0,104.12 L597.5,103.94 L598.0,103.76 L598.5,103.58 L599.0,103.40 L599.5,103.21 L600.0,103.03 L600.5,102.85 L601.0,102.66 L601.5,102.48 L602.0,102.29 L602.5,102.11 L603.0,101.92 L603.5,101.74 L604.0,101.56 L604.5,101.38 L605.0,101.22 L605.5,101.09 L606.0,100.98 L606.0,100.80 Z" fill="url(#gAblue)"/>
</g>
<rect x="127.8" y="24.0" width="510.2" height="410.9" fill="none" stroke="#000" stroke-width="2.1" stroke-linejoin="round"/>
<path d="M120.6,434.90H127.8 M124.0,383.54H127.8 M120.6,332.18H127.8 M124.0,280.81H127.8 M120.6,229.45H127.8 M124.0,178.09H127.8 M120.6,126.73H127.8 M124.0,75.36H127.8 M120.6,24.00H127.8 M127.80,434.9V438.7 M229.84,434.9V442.1 M331.88,434.9V438.7 M433.92,434.9V442.1 M535.96,434.9V438.7 M638.00,434.9V442.1" stroke="#000" stroke-width="1.9" stroke-linecap="round" fill="none"/>
<text x="113.3" y="445.3" text-anchor="end" class="tk">0.6</text>
<text x="113.3" y="342.6" text-anchor="end" class="tk">0.7</text>
<text x="113.3" y="239.8" text-anchor="end" class="tk">0.8</text>
<text x="113.3" y="137.1" text-anchor="end" class="tk">0.9</text>
<text x="113.3" y="34.4" text-anchor="end" class="tk">.0</text>
<path transform="translate(65.46,34.40) scale(0.01758,-0.01758)" d="M478,0 L759,0 L759,1409 L493,1409 L140,1180 L140,959 L478,1170 Z" fill="#000"/>
<text x="229.8" y="475.9" text-anchor="middle" class="tk">6</text>
<text x="433.9" y="475.9" text-anchor="middle" class="tk">7</text>
<text x="638.0" y="475.9" text-anchor="middle" class="tk">8</text>
<text x="0.5" y="39.0" class="let">(A)</text>
<text x="551.2" y="73.0" text-anchor="end" class="conc">2</text>
<path transform="translate(565.40,73.00) scale(1.000)" d="M1.5,-18.2 L5.1,-18.2 L5.1,-5.5 C5.1,-3.0 6.5,-2.6 8.3,-3.0 C10.5,-3.5 12.8,-5.5 12.8,-8 L12.8,-18.2 L16.8,-18.2 L16.8,-5.0 C16.8,-3.2 17.4,-2.8 18.3,-3.4 L20.2,-5.0 C19.6,-1.5 18.6,0.6 16.8,0.6 C14.5,0.6 13.6,-1.0 13.0,-2.6 C11.5,-0.6 9.5,0.4 7.5,0.4 C6.2,0.4 5.3,0 4.9,-0.8 L4.5,3.6 C4.9,4.4 5.0,5.0 5.0,5.8 C5.0,7.2 3.9,8.0 2.8,8.0 C1.6,8.0 0.5,7.2 0.5,5.9 C0.5,4.8 1.2,3.9 1.6,2.6 Z" fill="#000"/>
<text x="613.9" y="73.0" text-anchor="end" class="conc">g</text>
<text x="230.5" y="512.3" class="ax">Wavelength</text>
<text x="434.5" y="512.3" class="ax ser">(</text>
<path transform="translate(447.69,512.30) scale(0.820)" d="M1.5,-18.2 L5.1,-18.2 L5.1,-5.5 C5.1,-3.0 6.5,-2.6 8.3,-3.0 C10.5,-3.5 12.8,-5.5 12.8,-8 L12.8,-18.2 L16.8,-18.2 L16.8,-5.0 C16.8,-3.2 17.4,-2.8 18.3,-3.4 L20.2,-5.0 C19.6,-1.5 18.6,0.6 16.8,0.6 C14.5,0.6 13.6,-1.0 13.0,-2.6 C11.5,-0.6 9.5,0.4 7.5,0.4 C6.2,0.4 5.3,0 4.9,-0.8 L4.5,3.6 C4.9,4.4 5.0,5.0 5.0,5.8 C5.0,7.2 3.9,8.0 2.8,8.0 C1.6,8.0 0.5,7.2 0.5,5.9 C0.5,4.8 1.2,3.9 1.6,2.6 Z" fill="#000"/>
<text x="465.3" y="512.3" class="ax">m</text>
<text x="498.2" y="512.3" class="ax ser">)</text>
<text transform="translate(44.7,229.4) rotate(-90)" text-anchor="middle" class="ax">Reflectance</text>
<clipPath id="clipB"><rect x="787.0" y="25.1" width="510.3" height="410.9"/></clipPath>
<linearGradient id="gBred" gradientUnits="userSpaceOnUse" x1="0" y1="133.0" x2="0" y2="171.2"><stop offset="0" stop-color="#ffc4c4" stop-opacity="0.85"/><stop offset="1" stop-color="#ff0a0a" stop-opacity="1.00"/></linearGradient>
<linearGradient id="gBgreen" gradientUnits="userSpaceOnUse" x1="0" y1="131.8" x2="0" y2="191.2"><stop offset="0" stop-color="#5cffc4" stop-opacity="0.85"/><stop offset="1" stop-color="#46d98a" stop-opacity="0.90"/></linearGradient>
<linearGradient id="gBblue" gradientUnits="userSpaceOnUse" x1="0" y1="142.5" x2="0" y2="312.8"><stop offset="0" stop-color="#add5f9" stop-opacity="0.45"/><stop offset="0.5" stop-color="#a8c4f6" stop-opacity="0.55"/><stop offset="1" stop-color="#959fef" stop-opacity="0.85"/></linearGradient>
<g clip-path="url(#clipB)">
<path d="M820.0,133.00 L820.0,133.03 L820.5,133.05 L821.0,133.07 L821.5,133.09 L822.0,133.12 L822.5,133.15 L823.0,133.18 L823.5,133.22 L824.0,133.25 L824.5,133.28 L825.0,133.31 L825.5,133.35 L826.0,133.38 L826.5,133.42 L827.0,133.45 L827.5,133.49 L828.0,133.53 L828.5,133.56 L829.0,133.60 L829.5,133.64 L830.0,133.68 L830.5,133.72 L831.0,133.76 L831.5,133.80 L832.0,133.84 L832.5,133.89 L833.0,133.93 L833.5,133.97 L834.0,134.02 L834.5,134.06 L835.0,134.11 L835.5,134.16 L836.0,134.21 L836.5,134.26 L837.0,134.31 L837.5,134.36 L838.0,134.41 L838.5,134.46 L839.0,134.52 L839.5,134.57 L840.0,134.63 L840.5,134.69 L841.0,134.75 L841.5,134.81 L842.0,134.87 L842.5,134.94 L843.0,135.01 L843.5,135.07 L844.0,135.14 L844.5,135.21 L845.0,135.29 L845.5,135.36 L846.0,135.44 L846.5,135.52 L847.0,135.60 L847.5,135.69 L848.0,135.78 L848.5,135.87 L849.0,135.96 L849.5,136.06 L850.0,136.16 L850.5,136.26 L851.0,136.37 L851.5,136.48 L852.0,136.59 L852.5,136.71 L853.0,136.84 L853.5,136.96 L854.0,137.09 L854.5,137.23 L855.0,137.37 L855.5,137.52 L856.0,137.67 L856.5,137.83 L857.0,138.00 L857.5,138.17 L858.0,138.35 L858.5,138.53 L859.0,138.72 L859.5,138.92 L860.0,139.12 L860.5,139.34 L861.0,139.56 L861.5,139.79 L862.0,140.03 L862.5,140.27 L863.0,140.53 L863.5,140.79 L864.0,141.07 L864.5,141.35 L865.0,141.65 L865.5,141.95 L866.0,142.26 L866.5,142.59 L867.0,142.92 L867.5,143.27 L868.0,143.63 L868.5,143.99 L869.0,144.37 L869.5,144.76 L870.0,145.16 L870.5,145.57 L871.0,146.00 L871.5,146.43 L872.0,146.87 L872.5,147.33 L873.0,147.80 L873.5,148.27 L874.0,148.76 L874.5,149.26 L875.0,149.77 L875.5,150.29 L876.0,150.81 L876.5,151.35 L877.0,151.90 L877.5,152.45 L878.0,153.01 L878.5,153.58 L879.0,154.16 L879.5,154.74 L880.0,155.33 L880.5,155.93 L881.0,156.53 L881.5,157.13 L882.0,157.74 L882.5,158.35 L883.0,158.96 L883.5,159.57 L884.0,160.18 L884.5,160.79 L885.0,161.40 L885.5,162.00 L886.0,162.60 L886.5,163.20 L887.0,163.79 L887.5,164.37 L888.0,164.94 L888.5,165.51 L889.0,166.05 L889.5,166.59 L890.0,167.11 L890.5,167.61 L891.0,168.09 L891.5,168.55 L892.0,168.98 L892.5,169.39 L893.0,169.76 L893.5,170.08 L894.0,170.36 L894.5,170.56 L895.0,170.66 L895.5,170.64 L896.0,170.49 L896.5,170.22 L897.0,169.87 L897.5,169.48 L898.0,169.11 L898.5,168.76 L899.0,168.44 L899.5,168.14 L900.0,167.85 L900.5,167.54 L901.0,167.21 L901.5,166.85 L902.0,166.47 L902.5,166.07 L903.0,165.64 L903.5,165.19 L904.0,164.71 L904.5,164.21 L905.0,163.69 L905.5,163.15 L906.0,162.60 L906.5,162.02 L907.0,161.43 L907.5,160.83 L908.0,160.21 L908.5,159.58 L909.0,158.94 L909.5,158.29 L910.0,157.63 L910.5,156.97 L911.0,156.30 L911.5,155.62 L912.0,154.95 L912.5,154.27 L913.0,153.60 L913.5,152.93 L914.0,152.25 L914.5,151.59 L915.0,150.92 L915.5,150.27 L916.0,149.62 L916.5,148.97 L917.0,148.34 L917.5,147.72 L918.0,147.10 L918.5,146.50 L919.0,145.90 L919.5,145.32 L920.0,144.76 L920.5,144.20 L921.0,143.66 L921.5,143.13 L922.0,142.62 L922.5,142.12 L923.0,141.63 L923.5,141.16 L924.0,140.71 L924.5,140.27 L925.0,139.84 L925.5,139.43 L926.0,139.04 L926.5,138.66 L927.0,138.29 L927.5,137.94 L928.0,137.60 L928.5,137.28 L929.0,136.97 L929.5,136.67 L930.0,136.39 L930.5,136.12 L931.0,135.87 L931.5,135.62 L932.0,135.39 L932.5,135.17 L933.0,134.96 L933.5,134.76 L934.0,134.57 L934.5,134.40 L935.0,134.23 L935.5,134.07 L936.0,133.92 L936.5,133.78 L937.0,133.65 L937.5,133.53 L938.0,133.42 L938.5,133.31 L939.0,133.22 L939.5,133.15 L940.0,133.09 L940.0,133.00 Z" fill="url(#gBred)"/>
<path d="M795.0,131.80 L795.0,131.81 L795.5,131.82 L796.0,131.82 L796.5,131.83 L797.0,131.84 L797.5,131.85 L798.0,131.86 L798.5,131.87 L799.0,131.88 L799.5,131.89 L800.0,131.90 L800.5,131.91 L801.0,131.92 L801.5,131.94 L802.0,131.95 L802.5,131.96 L803.0,131.97 L803.5,131.98 L804.0,131.99 L804.5,132.00 L805.0,132.01 L805.5,132.02 L806.0,132.04 L806.5,132.05 L807.0,132.06 L807.5,132.07 L808.0,132.08 L808.5,132.10 L809.0,132.11 L809.5,132.12 L810.0,132.13 L810.5,132.14 L811.0,132.16 L811.5,132.17 L812.0,132.18 L812.5,132.19 L813.0,132.21 L813.5,132.22 L814.0,132.23 L814.5,132.25 L815.0,132.26 L815.5,132.27 L816.0,132.28 L816.5,132.30 L817.0,132.31 L817.5,132.33 L818.0,132.34 L818.5,132.35 L819.0,132.37 L819.5,132.38 L820.0,132.39 L820.5,132.41 L821.0,132.42 L821.5,132.44 L822.0,132.45 L822.5,132.47 L823.0,132.48 L823.5,132.50 L824.0,132.51 L824.5,132.52 L825.0,132.54 L825.5,132.56 L826.0,132.57 L826.5,132.59 L827.0,132.60 L827.5,132.62 L828.0,132.63 L828.5,132.65 L829.0,132.66 L829.5,132.68 L830.0,132.70 L830.5,132.71 L831.0,132.73 L831.5,132.75 L832.0,132.76 L832.5,132.78 L833.0,132.80 L833.5,132.81 L834.0,132.83 L834.5,132.85 L835.0,132.86 L835.5,132.88 L836.0,132.90 L836.5,132.92 L837.0,132.94 L837.5,132.95 L838.0,132.97 L838.5,132.99 L839.0,133.01 L839.5,133.03 L840.0,133.05 L840.5,133.06 L841.0,133.08 L841.5,133.10 L842.0,133.12 L842.5,133.14 L843.0,133.16 L843.5,133.18 L844.0,133.20 L844.5,133.22 L845.0,133.24 L845.5,133.26 L846.0,133.28 L846.5,133.30 L847.0,133.32 L847.5,133.34 L848.0,133.36 L848.5,133.39 L849.0,133.41 L849.5,133.43 L850.0,133.45 L850.5,133.47 L851.0,133.49 L851.5,133.52 L852.0,133.54 L852.5,133.56 L853.0,133.58 L853.5,133.61 L854.0,133.63 L854.5,133.65 L855.0,133.68 L855.5,133.70 L856.0,133.72 L856.5,133.75 L857.0,133.77 L857.5,133.80 L858.0,133.82 L858.5,133.85 L859.0,133.87 L859.5,133.90 L860.0,133.92 L860.5,133.95 L861.0,133.98 L861.5,134.00 L862.0,134.03 L862.5,134.05 L863.0,134.08 L863.5,134.11 L864.0,134.14 L864.5,134.16 L865.0,134.19 L865.5,134.22 L866.0,134.25 L866.5,134.28 L867.0,134.31 L867.5,134.33 L868.0,134.36 L868.5,134.39 L869.0,134.42 L869.5,134.45 L870.0,134.48 L870.5,134.51 L871.0,134.55 L871.5,134.58 L872.0,134.61 L872.5,134.64 L873.0,134.67 L873.5,134.70 L874.0,134.74 L874.5,134.77 L875.0,134.80 L875.5,134.84 L876.0,134.87 L876.5,134.91 L877.0,134.94 L877.5,134.98 L878.0,135.01 L878.5,135.05 L879.0,135.08 L879.5,135.12 L880.0,135.16 L880.5,135.19 L881.0,135.23 L881.5,135.27 L882.0,135.31 L882.5,135.35 L883.0,135.39 L883.5,135.43 L884.0,135.47 L884.5,135.51 L885.0,135.55 L885.5,135.59 L886.0,135.63 L886.5,135.67 L887.0,135.72 L887.5,135.76 L888.0,135.80 L888.5,135.85 L889.0,135.89 L889.5,135.94 L890.0,135.98 L890.5,136.03 L891.0,136.08 L891.5,136.12 L892.0,136.17 L892.5,136.22 L893.0,136.27 L893.5,136.32 L894.0,136.37 L894.5,136.42 L895.0,136.47 L895.5,136.52 L896.0,136.57 L896.5,136.63 L897.0,136.68 L897.5,136.74 L898.0,136.79 L898.5,136.85 L899.0,136.90 L899.5,136.96 L900.0,137.02 L900.5,137.08 L901.0,137.14 L901.5,137.20 L902.0,137.26 L902.5,137.32 L903.0,137.38 L903.5,137.45 L904.0,137.51 L904.5,137.58 L905.0,137.64 L905.5,137.71 L906.0,137.78 L906.5,137.85 L907.0,137.92 L907.5,137.99 L908.0,138.06 L908.5,138.13 L909.0,138.21 L909.5,138.28 L910.0,138.36 L910.5,138.44 L911.0,138.52 L911.5,138.60 L912.0,138.68 L912.5,138.76 L913.0,138.84 L913.5,138.93 L914.0,139.01 L914.5,139.10 L915.0,139.19 L915.5,139.28 L916.0,139.37 L916.5,139.46 L917.0,139.55 L917.5,139.65 L918.0,139.75 L918.5,139.85 L919.0,139.95 L919.5,140.05 L920.0,140.15 L920.5,140.26 L921.0,140.36 L921.5,140.47 L922.0,140.58 L922.5,140.70 L923.0,140.81 L923.5,140.93 L924.0,141.04 L924.5,141.16 L925.0,141.29 L925.5,141.41 L926.0,141.54 L926.5,141.67 L927.0,141.80 L927.5,141.93 L928.0,142.07 L928.5,142.21 L929.0,142.35 L929.5,142.49 L930.0,142.64 L930.5,142.78 L931.0,142.94 L931.5,143.09 L932.0,143.25 L932.5,143.41 L933.0,143.57 L933.5,143.73 L934.0,143.90 L934.5,144.08 L935.0,144.25 L935.5,144.43 L936.0,144.61 L936.5,144.80 L937.0,144.99 L937.5,145.18 L938.0,145.38 L938.5,145.58 L939.0,145.78 L939.5,145.99 L940.0,146.21 L940.5,146.42 L941.0,146.64 L941.5,146.87 L942.0,147.10 L942.5,147.34 L943.0,147.58 L943.5,147.82 L944.0,148.07 L944.5,148.33 L945.0,148.59 L945.5,148.85 L946.0,149.12 L946.5,149.40 L947.0,149.68 L947.5,149.97 L948.0,150.26 L948.5,150.56 L949.0,150.87 L949.5,151.18 L950.0,151.50 L950.5,151.82 L951.0,152.15 L951.5,152.49 L952.0,152.84 L952.5,153.19 L953.0,153.55 L953.5,153.91 L954.0,154.29 L954.5,154.67 L955.0,155.06 L955.5,155.46 L956.0,155.86 L956.5,156.27 L957.0,156.69 L957.5,157.12 L958.0,157.56 L958.5,158.01 L959.0,158.46 L959.5,158.92 L960.0,159.39 L960.5,159.87 L961.0,160.36 L961.5,160.86 L962.0,161.36 L962.5,161.87 L963.0,162.40 L963.5,162.93 L964.0,163.47 L964.5,164.01 L965.0,164.57 L965.5,165.13 L966.0,165.71 L966.5,166.28 L967.0,166.87 L967.5,167.47 L968.0,168.07 L968.5,168.68 L969.0,169.29 L969.5,169.91 L970.0,170.54 L970.5,171.17 L971.0,171.80 L971.5,172.44 L972.0,173.08 L972.5,173.73 L973.0,174.38 L973.5,175.03 L974.0,175.68 L974.5,176.33 L975.0,176.97 L975.5,177.62 L976.0,178.26 L976.5,178.90 L977.0,179.54 L977.5,180.17 L978.0,180.79 L978.5,181.41 L979.0,182.01 L979.5,182.61 L980.0,183.19 L980.5,183.76 L981.0,184.32 L981.5,184.86 L982.0,185.38 L982.5,185.89 L983.0,186.38 L983.5,186.85 L984.0,187.30 L984.5,187.73 L985.0,188.13 L985.5,188.51 L986.0,188.87 L986.5,189.20 L987.0,189.51 L987.5,189.79 L988.0,190.04 L988.5,190.27 L989.0,190.47 L989.5,190.64 L990.0,190.79 L990.5,190.91 L991.0,191.00 L991.5,191.07 L992.0,191.11 L992.5,191.12 L993.0,191.11 L993.5,191.07 L994.0,191.00 L994.5,190.91 L995.0,190.78 L995.5,190.62 L996.0,190.43 L996.5,190.20 L997.0,189.95 L997.5,189.67 L998.0,189.37 L998.5,189.03 L999.0,188.66 L999.5,188.27 L1000.0,187.86 L1000.5,187.42 L1001.0,186.95 L1001.5,186.46 L1002.0,185.95 L1002.5,185.42 L1003.0,184.86 L1003.5,184.29 L1004.0,183.70 L1004.5,183.09 L1005.0,182.47 L1005.5,181.83 L1006.0,181.18 L1006.5,180.52 L1007.0,179.84 L1007.5,179.15 L1008.0,178.46 L1008.5,177.76 L1009.0,177.05 L1009.5,176.33 L1010.0,175.62 L1010.5,174.89 L1011.0,174.17 L1011.5,173.44 L1012.0,172.72 L1012.5,171.99 L1013.0,171.27 L1013.5,170.54 L1014.0,169.83 L1014.5,169.11 L1015.0,168.40 L1015.5,167.70 L1016.0,167.00 L1016.5,166.31 L1017.0,165.63 L1017.5,164.96 L1018.0,164.29 L1018.5,163.64 L1019.0,162.99 L1019.5,162.36 L1020.0,161.73 L1020.5,161.12 L1021.0,160.52 L1021.5,159.93 L1022.0,159.35 L1022.5,158.79 L1023.0,158.23 L1023.5,157.69 L1024.0,157.16 L1024.5,156.65 L1025.0,156.14 L1025.5,155.65 L1026.0,155.17 L1026.5,154.71 L1027.0,154.25 L1027.5,153.81 L1028.0,153.38 L1028.5,152.97 L1029.0,152.56 L1029.5,152.17 L1030.0,151.78 L1030.5,151.41 L1031.0,151.05 L1031.5,150.70 L1032.0,150.36 L1032.5,150.03 L1033.0,149.71 L1033.5,149.40 L1034.0,149.10 L1034.5,148.81 L1035.0,148.53 L1035.5,148.25 L1036.0,147.99 L1036.5,147.73 L1037.0,147.48 L1037.5,147.24 L1038.0,147.00 L1038.5,146.77 L1039.0,146.55 L1039.5,146.33 L1040.0,146.12 L1040.5,145.92 L1041.0,145.72 L1041.5,145.52 L1042.0,145.33 L1042.5,145.15 L1043.0,144.97 L1043.5,144.79 L1044.0,144.62 L1044.5,144.46 L1045.0,144.29 L1045.5,144.13 L1046.0,143.98 L1046.5,143.82 L1047.0,143.67 L1047.5,143.53 L1048.0,143.38 L1048.5,143.24 L1049.0,143.10 L1049.5,142.97 L1050.0,142.83 L1050.5,142.70 L1051.0,142.57 L1051.5,142.44 L1052.0,142.32 L1052.5,142.19 L1053.0,142.07 L1053.5,141.95 L1054.0,141.83 L1054.5,141.72 L1055.0,141.60 L1055.5,141.49 L1056.0,141.37 L1056.5,141.26 L1057.0,141.15 L1057.5,141.04 L1058.0,140.93 L1058.5,140.83 L1059.0,140.72 L1059.5,140.62 L1060.0,140.51 L1060.5,140.41 L1061.0,140.31 L1061.5,140.21 L1062.0,140.11 L1062.5,140.01 L1063.0,139.92 L1063.5,139.82 L1064.0,139.73 L1064.5,139.63 L1065.0,139.54 L1065.5,139.45 L1066.0,139.36 L1066.5,139.26 L1067.0,139.18 L1067.5,139.09 L1068.0,139.00 L1068.5,138.91 L1069.0,138.83 L1069.5,138.74 L1070.0,138.66 L1070.5,138.57 L1071.0,138.49 L1071.5,138.41 L1072.0,138.33 L1072.5,138.25 L1073.0,138.17 L1073.5,138.09 L1074.0,138.01 L1074.5,137.94 L1075.0,137.86 L1075.5,137.78 L1076.0,137.71 L1076.5,137.64 L1077.0,137.56 L1077.5,137.49 L1078.0,137.42 L1078.5,137.35 L1079.0,137.28 L1079.5,137.21 L1080.0,137.15 L1080.5,137.08 L1081.0,137.01 L1081.5,136.95 L1082.0,136.88 L1082.5,136.82 L1083.0,136.75 L1083.5,136.69 L1084.0,136.63 L1084.5,136.57 L1085.0,136.51 L1085.5,136.45 L1086.0,136.39 L1086.5,136.33 L1087.0,136.27 L1087.5,136.22 L1088.0,136.16 L1088.5,136.10 L1089.0,136.05 L1089.5,135.99 L1090.0,135.94 L1090.5,135.89 L1091.0,135.84 L1091.5,135.78 L1092.0,135.73 L1092.5,135.68 L1093.0,135.63 L1093.5,135.58 L1094.0,135.53 L1094.5,135.49 L1095.0,135.44 L1095.5,135.39 L1096.0,135.35 L1096.5,135.30 L1097.0,135.26 L1097.5,135.21 L1098.0,135.17 L1098.5,135.12 L1099.0,135.08 L1099.5,135.04 L1100.0,135.00 L1100.5,134.96 L1101.0,134.91 L1101.5,134.87 L1102.0,134.83 L1102.5,134.79 L1103.0,134.76 L1103.5,134.72 L1104.0,134.68 L1104.5,134.64 L1105.0,134.61 L1105.5,134.57 L1106.0,134.53 L1106.5,134.50 L1107.0,134.46 L1107.5,134.43 L1108.0,134.39 L1108.5,134.36 L1109.0,134.33 L1109.5,134.29 L1110.0,134.26 L1110.5,134.23 L1111.0,134.20 L1111.5,134.17 L1112.0,134.13 L1112.5,134.10 L1113.0,134.07 L1113.5,134.04 L1114.0,134.01 L1114.5,133.99 L1115.0,133.96 L1115.5,133.93 L1116.0,133.90 L1116.5,133.87 L1117.0,133.85 L1117.5,133.82 L1118.0,133.79 L1118.5,133.77 L1119.0,133.74 L1119.5,133.71 L1120.0,133.69 L1120.5,133.66 L1121.0,133.64 L1121.5,133.61 L1122.0,133.59 L1122.5,133.57 L1123.0,133.54 L1123.5,133.52 L1124.0,133.50 L1124.5,133.47 L1125.0,133.45 L1125.5,133.43 L1126.0,133.41 L1126.5,133.38 L1127.0,133.36 L1127.5,133.34 L1128.0,133.32 L1128.5,133.30 L1129.0,133.28 L1129.5,133.26 L1130.0,133.24 L1130.5,133.22 L1131.0,133.20 L1131.5,133.18 L1132.0,133.16 L1132.5,133.14 L1133.0,133.13 L1133.5,133.11 L1134.0,133.09 L1134.5,133.07 L1135.0,133.05 L1135.5,133.04 L1136.0,133.02 L1136.5,133.00 L1137.0,132.98 L1137.5,132.97 L1138.0,132.95 L1138.5,132.93 L1139.0,132.92 L1139.5,132.90 L1140.0,132.89 L1140.5,132.87 L1141.0,132.86 L1141.5,132.84 L1142.0,132.83 L1142.5,132.81 L1143.0,132.80 L1143.5,132.78 L1144.0,132.77 L1144.5,132.75 L1145.0,132.74 L1145.5,132.73 L1146.0,132.71 L1146.5,132.70 L1147.0,132.68 L1147.5,132.67 L1148.0,132.66 L1148.5,132.65 L1149.0,132.63 L1149.5,132.62 L1150.0,132.61 L1150.5,132.59 L1151.0,132.58 L1151.5,132.57 L1152.0,132.56 L1152.5,132.55 L1153.0,132.53 L1153.5,132.52 L1154.0,132.51 L1154.5,132.50 L1155.0,132.49 L1155.5,132.48 L1156.0,132.47 L1156.5,132.46 L1157.0,132.44 L1157.5,132.43 L1158.0,132.42 L1158.5,132.41 L1159.0,132.40 L1159.5,132.39 L1160.0,132.38 L1160.5,132.37 L1161.0,132.36 L1161.5,132.35 L1162.0,132.34 L1162.5,132.33 L1163.0,132.32 L1163.5,132.31 L1164.0,132.31 L1164.5,132.30 L1165.0,132.29 L1165.5,132.28 L1166.0,132.27 L1166.5,132.26 L1167.0,132.25 L1167.5,132.24 L1168.0,132.23 L1168.5,132.23 L1169.0,132.22 L1169.5,132.21 L1170.0,132.20 L1170.5,132.19 L1171.0,132.18 L1171.5,132.18 L1172.0,132.17 L1172.5,132.16 L1173.0,132.15 L1173.5,132.15 L1174.0,132.14 L1174.5,132.13 L1175.0,132.12 L1175.5,132.12 L1176.0,132.11 L1176.5,132.10 L1177.0,132.09 L1177.5,132.09 L1178.0,132.08 L1178.5,132.07 L1179.0,132.07 L1179.5,132.06 L1180.0,132.05 L1180.5,132.05 L1181.0,132.04 L1181.5,132.03 L1182.0,132.03 L1182.5,132.02 L1183.0,132.01 L1183.5,132.01 L1184.0,132.00 L1184.5,132.00 L1185.0,131.99 L1185.5,131.98 L1186.0,131.98 L1186.5,131.97 L1187.0,131.97 L1187.5,131.96 L1188.0,131.95 L1188.5,131.95 L1189.0,131.94 L1189.5,131.94 L1190.0,131.93 L1190.5,131.93 L1191.0,131.92 L1191.5,131.92 L1192.0,131.91 L1192.5,131.90 L1193.0,131.90 L1193.5,131.89 L1194.0,131.89 L1194.5,131.88 L1195.0,131.88 L1195.5,131.87 L1196.0,131.87 L1196.5,131.86 L1197.0,131.86 L1197.5,131.85 L1198.0,131.85 L1198.5,131.85 L1199.0,131.84 L1199.5,131.84 L1200.0,131.83 L1200.5,131.83 L1201.0,131.82 L1201.5,131.82 L1202.0,131.81 L1202.5,131.81 L1203.0,131.81 L1203.5,131.80 L1203.5,131.80 Z" fill="url(#gBgreen)"/>
<g fill="none" stroke="#858585" stroke-width="1.45"><circle cx="790.8" cy="139.8" r="2.75"/><circle cx="796.5" cy="141.9" r="2.75"/><circle cx="802.2" cy="144.2" r="2.75"/><circle cx="808.0" cy="146.6" r="2.75"/><circle cx="813.7" cy="149.1" r="2.75"/><circle cx="819.4" cy="151.8" r="2.75"/><circle cx="825.1" cy="154.6" r="2.75"/><circle cx="830.8" cy="157.5" r="2.75"/><circle cx="836.6" cy="160.5" r="2.75"/><circle cx="842.3" cy="163.7" r="2.75"/><circle cx="848.0" cy="167.0" r="2.75"/><circle cx="853.7" cy="170.4" r="2.75"/><circle cx="859.4" cy="174.0" r="2.75"/><circle cx="865.2" cy="177.5" r="2.75"/><circle cx="870.9" cy="180.9" r="2.75"/><circle cx="876.6" cy="183.9" r="2.75"/><circle cx="882.3" cy="186.4" r="2.75"/><circle cx="888.0" cy="188.3" r="2.75"/><circle cx="893.8" cy="189.4" r="2.75"/><circle cx="899.5" cy="189.9" r="2.75"/><circle cx="905.2" cy="190.0" r="2.75"/><circle cx="910.9" cy="190.0" r="2.75"/><circle cx="916.6" cy="189.9" r="2.75"/><circle cx="922.4" cy="190.2" r="2.75"/><circle cx="928.1" cy="191.0" r="2.75"/><circle cx="933.8" cy="192.7" r="2.75"/><circle cx="939.5" cy="195.7" r="2.75"/><circle cx="945.2" cy="200.2" r="2.75"/><circle cx="951.0" cy="206.6" r="2.75"/><circle cx="956.7" cy="215.0" r="2.75"/><circle cx="962.4" cy="225.2" r="2.75"/><circle cx="968.1" cy="236.4" r="2.75"/><circle cx="973.8" cy="248.1" r="2.75"/><circle cx="979.6" cy="259.5" r="2.75"/><circle cx="985.3" cy="270.1" r="2.75"/><circle cx="991.0" cy="279.8" r="2.75"/><circle cx="996.7" cy="288.5" r="2.75"/><circle cx="1002.4" cy="296.2" r="2.75"/><circle cx="1008.2" cy="303.0" r="2.75"/><circle cx="1013.9" cy="308.7" r="2.75"/><circle cx="1019.6" cy="313.4" r="2.75"/><circle cx="1025.3" cy="317.1" r="2.75"/><circle cx="1031.0" cy="319.7" r="2.75"/><circle cx="1036.8" cy="321.2" r="2.75"/><circle cx="1042.5" cy="321.6" r="2.75"/><circle cx="1048.2" cy="320.9" r="2.75"/><circle cx="1053.9" cy="318.9" r="2.75"/><circle cx="1059.6" cy="315.6" r="2.75"/><circle cx="1065.4" cy="310.8" r="2.75"/><circle cx="1071.1" cy="304.7" r="2.75"/><circle cx="1076.8" cy="297.7" r="2.75"/><circle cx="1082.5" cy="290.0" r="2.75"/><circle cx="1088.2" cy="281.9" r="2.75"/><circle cx="1094.0" cy="273.6" r="2.75"/><circle cx="1099.7" cy="265.4" r="2.75"/><circle cx="1105.4" cy="257.4" r="2.75"/><circle cx="1111.1" cy="249.8" r="2.75"/><circle cx="1116.8" cy="242.6" r="2.75"/><circle cx="1122.6" cy="235.7" r="2.75"/><circle cx="1128.3" cy="228.8" r="2.75"/><circle cx="1134.0" cy="221.9" r="2.75"/><circle cx="1139.7" cy="214.9" r="2.75"/><circle cx="1145.4" cy="207.6" r="2.75"/><circle cx="1151.2" cy="200.2" r="2.75"/><circle cx="1156.9" cy="193.0" r="2.75"/><circle cx="1162.6" cy="186.0" r="2.75"/><circle cx="1168.3" cy="179.7" r="2.75"/><circle cx="1174.0" cy="174.1" r="2.75"/><circle cx="1179.8" cy="169.4" r="2.75"/><circle cx="1185.5" cy="165.2" r="2.75"/><circle cx="1191.2" cy="161.6" r="2.75"/><circle cx="1196.9" cy="158.4" r="2.75"/><circle cx="1202.6" cy="155.5" r="2.75"/><circle cx="1208.4" cy="152.6" r="2.75"/><circle cx="1214.1" cy="149.9" r="2.75"/><circle cx="1219.8" cy="147.4" r="2.75"/><circle cx="1225.5" cy="145.0" r="2.75"/><circle cx="1231.2" cy="142.8" r="2.75"/><circle cx="1237.0" cy="140.9" r="2.75"/><circle cx="1242.7" cy="139.2" r="2.75"/><circle cx="1248.4" cy="137.7" r="2.75"/><circle cx="1254.1" cy="136.5" r="2.75"/><circle cx="1259.8" cy="135.7" r="2.75"/><circle cx="1265.6" cy="135.2" r="2.75"/><circle cx="1271.3" cy="135.1" r="2.75"/><circle cx="1277.0" cy="135.3" r="2.75"/><circle cx="1282.7" cy="136.0" r="2.75"/><circle cx="1288.4" cy="137.1" r="2.75"/><circle cx="1294.2" cy="138.6" r="2.75"/></g>
<path d="M820.0,140.08 L820.0,140.13 L820.5,140.17 L821.0,140.21 L821.5,140.26 L822.0,140.32 L822.5,140.37 L823.0,140.43 L823.5,140.49 L824.0,140.55 L824.5,140.61 L825.0,140.67 L825.5,140.73 L826.0,140.79 L826.5,140.86 L827.0,140.92 L827.5,140.98 L828.0,141.04 L828.5,141.11 L829.0,141.17 L829.5,141.23 L830.0,141.30 L830.5,141.36 L831.0,141.42 L831.5,141.49 L832.0,141.55 L832.5,141.62 L833.0,141.69 L833.5,141.75 L834.0,141.82 L834.5,141.89 L835.0,141.95 L835.5,142.02 L836.0,142.09 L836.5,142.16 L837.0,142.23 L837.5,142.30 L838.0,142.36 L838.5,142.43 L839.0,142.51 L839.5,142.58 L840.0,142.65 L840.5,142.72 L841.0,142.79 L841.5,142.86 L842.0,142.94 L842.5,143.01 L843.0,143.08 L843.5,143.16 L844.0,143.23 L844.5,143.31 L845.0,143.38 L845.5,143.46 L846.0,143.53 L846.5,143.61 L847.0,143.69 L847.5,143.77 L848.0,143.84 L848.5,143.92 L849.0,144.00 L849.5,144.08 L850.0,144.16 L850.5,144.24 L851.0,144.32 L851.5,144.40 L852.0,144.48 L852.5,144.57 L853.0,144.65 L853.5,144.73 L854.0,144.82 L854.5,144.90 L855.0,144.99 L855.5,145.07 L856.0,145.16 L856.5,145.24 L857.0,145.33 L857.5,145.42 L858.0,145.51 L858.5,145.59 L859.0,145.68 L859.5,145.77 L860.0,145.86 L860.5,145.95 L861.0,146.04 L861.5,146.14 L862.0,146.23 L862.5,146.32 L863.0,146.42 L863.5,146.51 L864.0,146.60 L864.5,146.70 L865.0,146.80 L865.5,146.89 L866.0,146.99 L866.5,147.09 L867.0,147.18 L867.5,147.28 L868.0,147.38 L868.5,147.48 L869.0,147.58 L869.5,147.69 L870.0,147.79 L870.5,147.89 L871.0,147.99 L871.5,148.10 L872.0,148.20 L872.5,148.31 L873.0,148.42 L873.5,148.52 L874.0,148.63 L874.5,148.74 L875.0,148.85 L875.5,148.96 L876.0,149.07 L876.5,149.18 L877.0,149.29 L877.5,149.40 L878.0,149.52 L878.5,149.63 L879.0,149.75 L879.5,149.86 L880.0,149.98 L880.5,150.10 L881.0,150.21 L881.5,150.33 L882.0,150.45 L882.5,150.57 L883.0,150.69 L883.5,150.82 L884.0,150.94 L884.5,151.06 L885.0,151.19 L885.5,151.31 L886.0,151.44 L886.5,151.57 L887.0,151.70 L887.5,151.83 L888.0,151.96 L888.5,152.09 L889.0,152.22 L889.5,152.35 L890.0,152.48 L890.5,152.62 L891.0,152.75 L891.5,152.89 L892.0,153.03 L892.5,153.17 L893.0,153.31 L893.5,153.45 L894.0,153.59 L894.5,153.73 L895.0,153.88 L895.5,154.02 L896.0,154.17 L896.5,154.31 L897.0,154.46 L897.5,154.61 L898.0,154.76 L898.5,154.91 L899.0,155.06 L899.5,155.21 L900.0,155.37 L900.5,155.52 L901.0,155.68 L901.5,155.84 L902.0,156.00 L902.5,156.16 L903.0,156.32 L903.5,156.48 L904.0,156.65 L904.5,156.81 L905.0,156.98 L905.5,157.14 L906.0,157.31 L906.5,157.48 L907.0,157.65 L907.5,157.83 L908.0,158.00 L908.5,158.18 L909.0,158.35 L909.5,158.53 L910.0,158.71 L910.5,158.89 L911.0,159.07 L911.5,159.26 L912.0,159.44 L912.5,159.63 L913.0,159.81 L913.5,160.00 L914.0,160.19 L914.5,160.39 L915.0,160.58 L915.5,160.78 L916.0,160.97 L916.5,161.17 L917.0,161.37 L917.5,161.57 L918.0,161.77 L918.5,161.98 L919.0,162.19 L919.5,162.39 L920.0,162.60 L920.5,162.81 L921.0,163.03 L921.5,163.24 L922.0,163.46 L922.5,163.68 L923.0,163.90 L923.5,164.12 L924.0,164.34 L924.5,164.57 L925.0,164.79 L925.5,165.02 L926.0,165.25 L926.5,165.48 L927.0,165.72 L927.5,165.96 L928.0,166.19 L928.5,166.43 L929.0,166.68 L929.5,166.92 L930.0,167.17 L930.5,167.42 L931.0,167.67 L931.5,167.92 L932.0,168.17 L932.5,168.43 L933.0,168.69 L933.5,168.95 L934.0,169.21 L934.5,169.48 L935.0,169.75 L935.5,170.01 L936.0,170.29 L936.5,170.56 L937.0,170.84 L937.5,171.12 L938.0,171.40 L938.5,171.68 L939.0,171.97 L939.5,172.26 L940.0,172.55 L940.5,172.84 L941.0,173.14 L941.5,173.44 L942.0,173.74 L942.5,174.04 L943.0,174.35 L943.5,174.66 L944.0,174.97 L944.5,175.28 L945.0,175.60 L945.5,175.92 L946.0,176.24 L946.5,176.57 L947.0,176.90 L947.5,177.23 L948.0,177.56 L948.5,177.90 L949.0,178.24 L949.5,178.58 L950.0,178.93 L950.5,179.28 L951.0,179.63 L951.5,179.98 L952.0,180.34 L952.5,180.70 L953.0,181.07 L953.5,181.43 L954.0,181.80 L954.5,182.18 L955.0,182.55 L955.5,182.94 L956.0,183.32 L956.5,183.71 L957.0,184.10 L957.5,184.49 L958.0,184.89 L958.5,185.29 L959.0,185.69 L959.5,186.10 L960.0,186.51 L960.5,186.93 L961.0,187.35 L961.5,187.77 L962.0,188.20 L962.5,188.63 L963.0,189.06 L963.5,189.50 L964.0,189.94 L964.5,190.39 L965.0,190.84 L965.5,191.29 L966.0,191.75 L966.5,192.21 L967.0,192.68 L967.5,193.15 L968.0,193.62 L968.5,194.10 L969.0,194.58 L969.5,195.07 L970.0,195.56 L970.5,196.05 L971.0,196.55 L971.5,197.05 L972.0,197.56 L972.5,198.07 L973.0,198.59 L973.5,199.11 L974.0,199.64 L974.5,200.17 L975.0,200.70 L975.5,201.24 L976.0,201.79 L976.5,202.33 L977.0,202.89 L977.5,203.45 L978.0,204.01 L978.5,204.58 L979.0,205.15 L979.5,205.73 L980.0,206.31 L980.5,206.89 L981.0,207.49 L981.5,208.08 L982.0,208.68 L982.5,209.29 L983.0,209.90 L983.5,210.52 L984.0,211.14 L984.5,211.77 L985.0,212.40 L985.5,213.03 L986.0,213.68 L986.5,214.32 L987.0,214.97 L987.5,215.63 L988.0,216.29 L988.5,216.96 L989.0,217.63 L989.5,218.31 L990.0,218.99 L990.5,219.68 L991.0,220.37 L991.5,221.07 L992.0,221.77 L992.5,222.48 L993.0,223.19 L993.5,223.91 L994.0,224.63 L994.5,225.36 L995.0,226.10 L995.5,226.83 L996.0,227.58 L996.5,228.33 L997.0,229.08 L997.5,229.84 L998.0,230.60 L998.5,231.37 L999.0,232.14 L999.5,232.92 L1000.0,233.70 L1000.5,234.49 L1001.0,235.28 L1001.5,236.07 L1002.0,236.87 L1002.5,237.68 L1003.0,238.49 L1003.5,239.30 L1004.0,240.12 L1004.5,240.94 L1005.0,241.77 L1005.5,242.59 L1006.0,243.43 L1006.5,244.26 L1007.0,245.10 L1007.5,245.95 L1008.0,246.80 L1008.5,247.65 L1009.0,248.50 L1009.5,249.36 L1010.0,250.22 L1010.5,251.08 L1011.0,251.94 L1011.5,252.81 L1012.0,253.68 L1012.5,254.55 L1013.0,255.42 L1013.5,256.30 L1014.0,257.18 L1014.5,258.05 L1015.0,258.93 L1015.5,259.81 L1016.0,260.70 L1016.5,261.58 L1017.0,262.46 L1017.5,263.34 L1018.0,264.22 L1018.5,265.10 L1019.0,265.98 L1019.5,266.86 L1020.0,267.74 L1020.5,268.62 L1021.0,269.50 L1021.5,270.37 L1022.0,271.24 L1022.5,272.11 L1023.0,272.98 L1023.5,273.84 L1024.0,274.70 L1024.5,275.56 L1025.0,276.41 L1025.5,277.26 L1026.0,278.10 L1026.5,278.94 L1027.0,279.77 L1027.5,280.59 L1028.0,281.41 L1028.5,282.23 L1029.0,283.04 L1029.5,283.84 L1030.0,284.63 L1030.5,285.41 L1031.0,286.19 L1031.5,286.96 L1032.0,287.72 L1032.5,288.47 L1033.0,289.22 L1033.5,289.95 L1034.0,290.67 L1034.5,291.39 L1035.0,292.10 L1035.5,292.80 L1036.0,293.49 L1036.5,294.17 L1037.0,294.84 L1037.5,295.51 L1038.0,296.17 L1038.5,296.83 L1039.0,297.48 L1039.5,298.13 L1040.0,298.78 L1040.5,299.43 L1041.0,300.07 L1041.5,300.72 L1042.0,301.37 L1042.5,302.02 L1043.0,302.67 L1043.5,303.33 L1044.0,303.98 L1044.5,304.64 L1045.0,305.30 L1045.5,305.96 L1046.0,306.60 L1046.5,307.24 L1047.0,307.87 L1047.5,308.48 L1048.0,309.07 L1048.5,309.63 L1049.0,310.16 L1049.5,310.65 L1050.0,311.10 L1050.5,311.49 L1051.0,311.84 L1051.5,312.12 L1052.0,312.34 L1052.5,312.49 L1053.0,312.58 L1053.5,312.60 L1054.0,312.56 L1054.5,312.47 L1055.0,312.34 L1055.5,312.17 L1056.0,311.96 L1056.5,311.74 L1057.0,311.49 L1057.5,311.21 L1058.0,310.92 L1058.5,310.61 L1059.0,310.28 L1059.5,309.93 L1060.0,309.57 L1060.5,309.19 L1061.0,308.80 L1061.5,308.39 L1062.0,307.97 L1062.5,307.53 L1063.0,307.08 L1063.5,306.62 L1064.0,306.15 L1064.5,305.66 L1065.0,305.17 L1065.5,304.66 L1066.0,304.14 L1066.5,303.61 L1067.0,303.07 L1067.5,302.53 L1068.0,301.97 L1068.5,301.40 L1069.0,300.83 L1069.5,300.24 L1070.0,299.65 L1070.5,299.05 L1071.0,298.44 L1071.5,297.83 L1072.0,297.20 L1072.5,296.57 L1073.0,295.94 L1073.5,295.29 L1074.0,294.64 L1074.5,293.98 L1075.0,293.32 L1075.5,292.65 L1076.0,291.98 L1076.5,291.30 L1077.0,290.61 L1077.5,289.92 L1078.0,289.22 L1078.5,288.52 L1079.0,287.82 L1079.5,287.11 L1080.0,286.39 L1080.5,285.67 L1081.0,284.95 L1081.5,284.22 L1082.0,283.49 L1082.5,282.76 L1083.0,282.02 L1083.5,281.28 L1084.0,280.53 L1084.5,279.78 L1085.0,279.03 L1085.5,278.28 L1086.0,277.52 L1086.5,276.76 L1087.0,276.00 L1087.5,275.24 L1088.0,274.47 L1088.5,273.70 L1089.0,272.93 L1089.5,272.16 L1090.0,271.38 L1090.5,270.60 L1091.0,269.83 L1091.5,269.05 L1092.0,268.27 L1092.5,267.48 L1093.0,266.70 L1093.5,265.91 L1094.0,265.13 L1094.5,264.34 L1095.0,263.55 L1095.5,262.77 L1096.0,261.98 L1096.5,261.19 L1097.0,260.40 L1097.5,259.61 L1098.0,258.82 L1098.5,258.02 L1099.0,257.23 L1099.5,256.44 L1100.0,255.65 L1100.5,254.86 L1101.0,254.07 L1101.5,253.28 L1102.0,252.49 L1102.5,251.70 L1103.0,250.91 L1103.5,250.12 L1104.0,249.33 L1104.5,248.55 L1105.0,247.76 L1105.5,246.97 L1106.0,246.19 L1106.5,245.41 L1107.0,244.62 L1107.5,243.84 L1108.0,243.06 L1108.5,242.29 L1109.0,241.51 L1109.5,240.73 L1110.0,239.96 L1110.5,239.19 L1111.0,238.42 L1111.5,237.65 L1112.0,236.88 L1112.5,236.12 L1113.0,235.35 L1113.5,234.59 L1114.0,233.83 L1114.5,233.08 L1115.0,232.32 L1115.5,231.57 L1116.0,230.82 L1116.5,230.07 L1117.0,229.32 L1117.5,228.58 L1118.0,227.84 L1118.5,227.10 L1119.0,226.37 L1119.5,225.63 L1120.0,224.90 L1120.5,224.17 L1121.0,223.45 L1121.5,222.73 L1122.0,222.01 L1122.5,221.29 L1123.0,220.58 L1123.5,219.87 L1124.0,219.16 L1124.5,218.46 L1125.0,217.76 L1125.5,217.06 L1126.0,216.37 L1126.5,215.67 L1127.0,214.99 L1127.5,214.30 L1128.0,213.62 L1128.5,212.94 L1129.0,212.27 L1129.5,211.60 L1130.0,210.93 L1130.5,210.27 L1131.0,209.61 L1131.5,208.95 L1132.0,208.30 L1132.5,207.65 L1133.0,207.00 L1133.5,206.36 L1134.0,205.72 L1134.5,205.09 L1135.0,204.46 L1135.5,203.83 L1136.0,203.21 L1136.5,202.59 L1137.0,201.97 L1137.5,201.36 L1138.0,200.75 L1138.5,200.15 L1139.0,199.55 L1139.5,198.96 L1140.0,198.36 L1140.5,197.78 L1141.0,197.19 L1141.5,196.61 L1142.0,196.04 L1142.5,195.47 L1143.0,194.90 L1143.5,194.33 L1144.0,193.77 L1144.5,193.22 L1145.0,192.67 L1145.5,192.12 L1146.0,191.58 L1146.5,191.04 L1147.0,190.50 L1147.5,189.97 L1148.0,189.45 L1148.5,188.92 L1149.0,188.41 L1149.5,187.89 L1150.0,187.38 L1150.5,186.87 L1151.0,186.37 L1151.5,185.87 L1152.0,185.38 L1152.5,184.89 L1153.0,184.41 L1153.5,183.92 L1154.0,183.45 L1154.5,182.97 L1155.0,182.50 L1155.5,182.04 L1156.0,181.58 L1156.5,181.12 L1157.0,180.67 L1157.5,180.22 L1158.0,179.77 L1158.5,179.33 L1159.0,178.90 L1159.5,178.46 L1160.0,178.04 L1160.5,177.61 L1161.0,177.19 L1161.5,176.77 L1162.0,176.36 L1162.5,175.95 L1163.0,175.55 L1163.5,175.14 L1164.0,174.75 L1164.5,174.35 L1165.0,173.96 L1165.5,173.58 L1166.0,173.20 L1166.5,172.82 L1167.0,172.44 L1167.5,172.07 L1168.0,171.71 L1168.5,171.34 L1169.0,170.98 L1169.5,170.63 L1170.0,170.28 L1170.5,169.93 L1171.0,169.58 L1171.5,169.24 L1172.0,168.90 L1172.5,168.57 L1173.0,168.24 L1173.5,167.91 L1174.0,167.59 L1174.5,167.27 L1175.0,166.95 L1175.5,166.64 L1176.0,166.33 L1176.5,166.02 L1177.0,165.72 L1177.5,165.42 L1178.0,165.12 L1178.5,164.83 L1179.0,164.54 L1179.5,164.25 L1180.0,163.97 L1180.5,163.69 L1181.0,163.41 L1181.5,163.14 L1182.0,162.87 L1182.5,162.60 L1183.0,162.33 L1183.5,162.07 L1184.0,161.81 L1184.5,161.56 L1185.0,161.30 L1185.5,161.05 L1186.0,160.81 L1186.5,160.56 L1187.0,160.32 L1187.5,160.08 L1188.0,159.85 L1188.5,159.61 L1189.0,159.38 L1189.5,159.16 L1190.0,158.93 L1190.5,158.71 L1191.0,158.49 L1191.5,158.27 L1192.0,158.06 L1192.5,157.85 L1193.0,157.64 L1193.5,157.43 L1194.0,157.23 L1194.5,157.02 L1195.0,156.82 L1195.5,156.63 L1196.0,156.43 L1196.5,156.24 L1197.0,156.05 L1197.5,155.86 L1198.0,155.68 L1198.5,155.50 L1199.0,155.31 L1199.5,155.14 L1200.0,154.96 L1200.5,154.79 L1201.0,154.61 L1201.5,154.44 L1202.0,154.28 L1202.5,154.11 L1203.0,153.95 L1203.5,153.78 L1204.0,153.62 L1204.5,153.47 L1205.0,153.31 L1205.5,153.16 L1206.0,153.00 L1206.5,152.85 L1207.0,152.71 L1207.5,152.56 L1208.0,152.41 L1208.5,152.27 L1209.0,152.13 L1209.5,151.99 L1210.0,151.85 L1210.5,151.72 L1211.0,151.58 L1211.5,151.45 L1212.0,151.32 L1212.5,151.19 L1213.0,151.06 L1213.5,150.94 L1214.0,150.81 L1214.5,150.69 L1215.0,150.57 L1215.5,150.45 L1216.0,150.33 L1216.5,150.21 L1217.0,150.09 L1217.5,149.98 L1218.0,149.87 L1218.5,149.75 L1219.0,149.64 L1219.5,149.53 L1220.0,149.43 L1220.5,149.32 L1221.0,149.21 L1221.5,149.11 L1222.0,149.01 L1222.5,148.91 L1223.0,148.81 L1223.5,148.71 L1224.0,148.61 L1224.5,148.51 L1225.0,148.42 L1225.5,148.32 L1226.0,148.23 L1226.5,148.14 L1227.0,148.05 L1227.5,147.95 L1228.0,147.87 L1228.5,147.78 L1229.0,147.69 L1229.5,147.60 L1230.0,147.52 L1230.5,147.44 L1231.0,147.35 L1231.5,147.27 L1232.0,147.19 L1232.5,147.11 L1233.0,147.03 L1233.5,146.95 L1234.0,146.87 L1234.5,146.80 L1235.0,146.72 L1235.5,146.64 L1236.0,146.57 L1236.5,146.50 L1237.0,146.42 L1237.5,146.35 L1238.0,146.28 L1238.5,146.21 L1239.0,146.14 L1239.5,146.07 L1240.0,146.00 L1240.5,145.94 L1241.0,145.87 L1241.5,145.80 L1242.0,145.74 L1242.5,145.67 L1243.0,145.61 L1243.5,145.55 L1244.0,145.48 L1244.5,145.42 L1245.0,145.36 L1245.5,145.30 L1246.0,145.24 L1246.5,145.18 L1247.0,145.12 L1247.5,145.06 L1248.0,145.00 L1248.5,144.95 L1249.0,144.89 L1249.5,144.84 L1250.0,144.78 L1250.5,144.73 L1251.0,144.68 L1251.5,144.65 L1252.0,144.62 L1252.0,144.56 Z" fill="url(#gBblue)"/>
</g>
<rect x="787.0" y="25.1" width="510.3" height="410.9" fill="none" stroke="#000" stroke-width="2.1" stroke-linejoin="round"/>
<path d="M779.8,436.00H787.0 M783.2,384.64H787.0 M779.8,333.28H787.0 M783.2,281.91H787.0 M779.8,230.55H787.0 M783.2,179.19H787.0 M779.8,127.83H787.0 M783.2,76.46H787.0 M779.8,25.10H787.0 M787.00,436.0V439.8 M889.06,436.0V443.2 M991.12,436.0V439.8 M1093.18,436.0V443.2 M1195.24,436.0V439.8 M1297.30,436.0V443.2" stroke="#000" stroke-width="1.9" stroke-linecap="round" fill="none"/>
<text x="772.5" y="446.4" text-anchor="end" class="tk">0.6</text>
<text x="772.5" y="343.7" text-anchor="end" class="tk">0.7</text>
<text x="772.5" y="240.9" text-anchor="end" class="tk">0.8</text>
<text x="772.5" y="138.2" text-anchor="end" class="tk">0.9</text>
<text x="772.5" y="35.5" text-anchor="end" class="tk">.0</text>
<path transform="translate(724.66,35.50) scale(0.01758,-0.01758)" d="M478,0 L759,0 L759,1409 L493,1409 L140,1180 L140,959 L478,1170 Z" fill="#000"/>
<text x="889.1" y="477.0" text-anchor="middle" class="tk">6</text>
<text x="1093.2" y="477.0" text-anchor="middle" class="tk">7</text>
<text x="1297.3" y="477.0" text-anchor="middle" class="tk">8</text>
<text x="651.9" y="38.5" class="let">(B)</text>
<text x="1218.1" y="73.0" text-anchor="end" class="conc">5</text>
<path transform="translate(1232.20,73.00) scale(1.000)" d="M1.5,-18.2 L5.1,-18.2 L5.1,-5.5 C5.1,-3.0 6.5,-2.6 8.3,-3.0 C10.5,-3.5 12.8,-5.5 12.8,-8 L12.8,-18.2 L16.8,-18.2 L16.8,-5.0 C16.8,-3.2 17.4,-2.8 18.3,-3.4 L20.2,-5.0 C19.6,-1.5 18.6,0.6 16.8,0.6 C14.5,0.6 13.6,-1.0 13.0,-2.6 C11.5,-0.6 9.5,0.4 7.5,0.4 C6.2,0.4 5.3,0 4.9,-0.8 L4.5,3.6 C4.9,4.4 5.0,5.0 5.0,5.8 C5.0,7.2 3.9,8.0 2.8,8.0 C1.6,8.0 0.5,7.2 0.5,5.9 C0.5,4.8 1.2,3.9 1.6,2.6 Z" fill="#000"/>
<text x="1280.2" y="73.0" text-anchor="end" class="conc">g</text>
<text x="889.7" y="513.4" class="ax">Wavelength</text>
<text x="1093.7" y="513.4" class="ax ser">(</text>
<path transform="translate(1106.89,513.40) scale(0.820)" d="M1.5,-18.2 L5.1,-18.2 L5.1,-5.5 C5.1,-3.0 6.5,-2.6 8.3,-3.0 C10.5,-3.5 12.8,-5.5 12.8,-8 L12.8,-18.2 L16.8,-18.2 L16.8,-5.0 C16.8,-3.2 17.4,-2.8 18.3,-3.4 L20.2,-5.0 C19.6,-1.5 18.6,0.6 16.8,0.6 C14.5,0.6 13.6,-1.0 13.0,-2.6 C11.5,-0.6 9.5,0.4 7.5,0.4 C6.2,0.4 5.3,0 4.9,-0.8 L4.5,3.6 C4.9,4.4 5.0,5.0 5.0,5.8 C5.0,7.2 3.9,8.0 2.8,8.0 C1.6,8.0 0.5,7.2 0.5,5.9 C0.5,4.8 1.2,3.9 1.6,2.6 Z" fill="#000"/>
<text x="1124.5" y="513.4" class="ax">m</text>
<text x="1157.4" y="513.4" class="ax ser">)</text>
<text transform="translate(703.9,230.6) rotate(-90)" text-anchor="middle" class="ax">Reflectance</text>
<clipPath id="clipC"><rect x="128.0" y="548.6" width="509.7" height="410.7"/></clipPath>
<linearGradient id="gCred" gradientUnits="userSpaceOnUse" x1="0" y1="667.0" x2="0" y2="780.4"><stop offset="0" stop-color="#ffc4c4" stop-opacity="0.85"/><stop offset="1" stop-color="#ff0a0a" stop-opacity="1.00"/></linearGradient>
<linearGradient id="gCgreen" gradientUnits="userSpaceOnUse" x1="0" y1="664.0" x2="0" y2="779.3"><stop offset="0" stop-color="#5cffc4" stop-opacity="0.85"/><stop offset="1" stop-color="#46d98a" stop-opacity="0.90"/></linearGradient>
<linearGradient id="gCblue" gradientUnits="userSpaceOnUse" x1="0" y1="676.5" x2="0" y2="849.5"><stop offset="0" stop-color="#add5f9" stop-opacity="0.45"/><stop offset="0.5" stop-color="#a8c4f6" stop-opacity="0.55"/><stop offset="1" stop-color="#959fef" stop-opacity="0.85"/></linearGradient>
<g clip-path="url(#clipC)">
<path d="M137.0,667.00 L137.0,667.02 L137.5,667.04 L138.0,667.05 L138.5,667.08 L139.0,667.10 L139.5,667.12 L140.0,667.15 L140.5,667.17 L141.0,667.20 L141.5,667.22 L142.0,667.25 L142.5,667.28 L143.0,667.30 L143.5,667.33 L144.0,667.36 L144.5,667.39 L145.0,667.41 L145.5,667.44 L146.0,667.47 L146.5,667.50 L147.0,667.53 L147.5,667.56 L148.0,667.59 L148.5,667.62 L149.0,667.65 L149.5,667.68 L150.0,667.71 L150.5,667.74 L151.0,667.77 L151.5,667.81 L152.0,667.84 L152.5,667.87 L153.0,667.91 L153.5,667.94 L154.0,667.97 L154.5,668.01 L155.0,668.04 L155.5,668.08 L156.0,668.12 L156.5,668.15 L157.0,668.19 L157.5,668.23 L158.0,668.26 L158.5,668.30 L159.0,668.34 L159.5,668.38 L160.0,668.42 L160.5,668.46 L161.0,668.50 L161.5,668.54 L162.0,668.58 L162.5,668.63 L163.0,668.67 L163.5,668.71 L164.0,668.76 L164.5,668.80 L165.0,668.85 L165.5,668.89 L166.0,668.94 L166.5,668.99 L167.0,669.03 L167.5,669.08 L168.0,669.13 L168.5,669.18 L169.0,669.23 L169.5,669.28 L170.0,669.34 L170.5,669.39 L171.0,669.44 L171.5,669.50 L172.0,669.56 L172.5,669.61 L173.0,669.67 L173.5,669.73 L174.0,669.79 L174.5,669.85 L175.0,669.91 L175.5,669.98 L176.0,670.04 L176.5,670.11 L177.0,670.18 L177.5,670.25 L178.0,670.32 L178.5,670.39 L179.0,670.47 L179.5,670.54 L180.0,670.62 L180.5,670.71 L181.0,670.79 L181.5,670.88 L182.0,670.96 L182.5,671.06 L183.0,671.15 L183.5,671.25 L184.0,671.35 L184.5,671.46 L185.0,671.56 L185.5,671.68 L186.0,671.80 L186.5,671.92 L187.0,672.04 L187.5,672.18 L188.0,672.32 L188.5,672.46 L189.0,672.61 L189.5,672.77 L190.0,672.93 L190.5,673.10 L191.0,673.29 L191.5,673.48 L192.0,673.67 L192.5,673.88 L193.0,674.10 L193.5,674.33 L194.0,674.57 L194.5,674.83 L195.0,675.09 L195.5,675.37 L196.0,675.67 L196.5,675.98 L197.0,676.30 L197.5,676.65 L198.0,677.01 L198.5,677.39 L199.0,677.78 L199.5,678.20 L200.0,678.64 L200.5,679.10 L201.0,679.59 L201.5,680.10 L202.0,680.63 L202.5,681.19 L203.0,681.78 L203.5,682.39 L204.0,683.03 L204.5,683.71 L205.0,684.41 L205.5,685.14 L206.0,685.91 L206.5,686.71 L207.0,687.54 L207.5,688.41 L208.0,689.31 L208.5,690.25 L209.0,691.23 L209.5,692.25 L210.0,693.30 L210.5,694.39 L211.0,695.52 L211.5,696.68 L212.0,697.89 L212.5,699.13 L213.0,700.42 L213.5,701.74 L214.0,703.10 L214.5,704.51 L215.0,705.94 L215.5,707.42 L216.0,708.93 L216.5,710.48 L217.0,712.06 L217.5,713.68 L218.0,715.32 L218.5,717.00 L219.0,718.71 L219.5,720.45 L220.0,722.21 L220.5,723.99 L221.0,725.80 L221.5,727.63 L222.0,729.47 L222.5,731.33 L223.0,733.20 L223.5,735.08 L224.0,736.97 L224.5,738.86 L225.0,740.74 L225.5,742.63 L226.0,744.51 L226.5,746.38 L227.0,748.24 L227.5,750.08 L228.0,751.90 L228.5,753.70 L229.0,755.47 L229.5,757.21 L230.0,758.92 L230.5,760.58 L231.0,762.21 L231.5,763.78 L232.0,765.31 L232.5,766.79 L233.0,768.21 L233.5,769.56 L234.0,770.86 L234.5,772.08 L235.0,773.23 L235.5,774.31 L236.0,775.31 L236.5,776.23 L237.0,777.06 L237.5,777.80 L238.0,778.44 L238.5,778.98 L239.0,779.42 L239.5,779.74 L240.0,779.94 L240.5,780.02 L241.0,779.96 L241.5,779.76 L242.0,779.41 L242.5,778.91 L243.0,778.24 L243.5,777.39 L244.0,776.38 L244.5,775.19 L245.0,773.83 L245.5,772.33 L246.0,770.70 L246.5,768.96 L247.0,767.14 L247.5,765.26 L248.0,763.33 L248.5,761.37 L249.0,759.41 L249.5,757.44 L250.0,755.48 L250.5,753.53 L251.0,751.59 L251.5,749.66 L252.0,747.75 L252.5,745.86 L253.0,743.97 L253.5,742.10 L254.0,740.24 L254.5,738.39 L255.0,736.55 L255.5,734.72 L256.0,732.90 L256.5,731.09 L257.0,729.29 L257.5,727.50 L258.0,725.72 L258.5,723.96 L259.0,722.21 L259.5,720.48 L260.0,718.77 L260.5,717.07 L261.0,715.39 L261.5,713.74 L262.0,712.11 L262.5,710.50 L263.0,708.91 L263.5,707.36 L264.0,705.83 L264.5,704.33 L265.0,702.86 L265.5,701.42 L266.0,700.01 L266.5,698.63 L267.0,697.29 L267.5,695.98 L268.0,694.71 L268.5,693.47 L269.0,692.26 L269.5,691.09 L270.0,689.95 L270.5,688.85 L271.0,687.79 L271.5,686.76 L272.0,685.77 L272.5,684.81 L273.0,683.88 L273.5,682.99 L274.0,682.13 L274.5,681.31 L275.0,680.52 L275.5,679.76 L276.0,679.04 L276.5,678.34 L277.0,677.68 L277.5,677.04 L278.0,676.44 L278.5,675.86 L279.0,675.31 L279.5,674.79 L280.0,674.29 L280.5,673.82 L281.0,673.37 L281.5,672.94 L282.0,672.54 L282.5,672.16 L283.0,671.80 L283.5,671.46 L284.0,671.14 L284.5,670.83 L285.0,670.55 L285.5,670.28 L286.0,670.03 L286.5,669.79 L287.0,669.57 L287.5,669.36 L288.0,669.16 L288.5,668.98 L289.0,668.81 L289.5,668.65 L290.0,668.50 L290.5,668.36 L291.0,668.23 L291.5,668.11 L292.0,668.00 L292.5,667.90 L293.0,667.80 L293.5,667.71 L294.0,667.63 L294.5,667.55 L295.0,667.48 L295.5,667.41 L296.0,667.35 L296.5,667.30 L297.0,667.24 L297.5,667.20 L298.0,667.15 L298.5,667.11 L299.0,667.08 L299.5,667.05 L300.0,667.03 L300.0,667.00 Z" fill="url(#gCred)"/>
<path d="M135.0,664.00 L135.0,664.02 L135.5,664.04 L136.0,664.05 L136.5,664.08 L137.0,664.10 L137.5,664.12 L138.0,664.15 L138.5,664.17 L139.0,664.20 L139.5,664.22 L140.0,664.25 L140.5,664.27 L141.0,664.30 L141.5,664.32 L142.0,664.35 L142.5,664.38 L143.0,664.40 L143.5,664.43 L144.0,664.46 L144.5,664.48 L145.0,664.51 L145.5,664.54 L146.0,664.56 L146.5,664.59 L147.0,664.62 L147.5,664.65 L148.0,664.67 L148.5,664.70 L149.0,664.73 L149.5,664.76 L150.0,664.79 L150.5,664.82 L151.0,664.85 L151.5,664.87 L152.0,664.90 L152.5,664.93 L153.0,664.96 L153.5,664.99 L154.0,665.02 L154.5,665.05 L155.0,665.08 L155.5,665.11 L156.0,665.15 L156.5,665.18 L157.0,665.21 L157.5,665.24 L158.0,665.27 L158.5,665.30 L159.0,665.34 L159.5,665.37 L160.0,665.40 L160.5,665.43 L161.0,665.47 L161.5,665.50 L162.0,665.53 L162.5,665.57 L163.0,665.60 L163.5,665.63 L164.0,665.67 L164.5,665.70 L165.0,665.74 L165.5,665.77 L166.0,665.81 L166.5,665.84 L167.0,665.88 L167.5,665.92 L168.0,665.95 L168.5,665.99 L169.0,666.03 L169.5,666.06 L170.0,666.10 L170.5,666.14 L171.0,666.18 L171.5,666.21 L172.0,666.25 L172.5,666.29 L173.0,666.33 L173.5,666.37 L174.0,666.41 L174.5,666.45 L175.0,666.49 L175.5,666.53 L176.0,666.57 L176.5,666.61 L177.0,666.65 L177.5,666.69 L178.0,666.73 L178.5,666.78 L179.0,666.82 L179.5,666.86 L180.0,666.90 L180.5,666.95 L181.0,666.99 L181.5,667.03 L182.0,667.08 L182.5,667.12 L183.0,667.17 L183.5,667.21 L184.0,667.26 L184.5,667.30 L185.0,667.35 L185.5,667.40 L186.0,667.44 L186.5,667.49 L187.0,667.54 L187.5,667.59 L188.0,667.64 L188.5,667.68 L189.0,667.73 L189.5,667.78 L190.0,667.83 L190.5,667.88 L191.0,667.93 L191.5,667.98 L192.0,668.04 L192.5,668.09 L193.0,668.14 L193.5,668.19 L194.0,668.25 L194.5,668.30 L195.0,668.35 L195.5,668.41 L196.0,668.46 L196.5,668.52 L197.0,668.57 L197.5,668.63 L198.0,668.68 L198.5,668.74 L199.0,668.80 L199.5,668.86 L200.0,668.91 L200.5,668.97 L201.0,669.03 L201.5,669.09 L202.0,669.15 L202.5,669.21 L203.0,669.27 L203.5,669.33 L204.0,669.40 L204.5,669.46 L205.0,669.52 L205.5,669.59 L206.0,669.65 L206.5,669.71 L207.0,669.78 L207.5,669.85 L208.0,669.91 L208.5,669.98 L209.0,670.05 L209.5,670.11 L210.0,670.18 L210.5,670.25 L211.0,670.32 L211.5,670.39 L212.0,670.46 L212.5,670.53 L213.0,670.61 L213.5,670.68 L214.0,670.75 L214.5,670.83 L215.0,670.90 L215.5,670.98 L216.0,671.05 L216.5,671.13 L217.0,671.21 L217.5,671.28 L218.0,671.36 L218.5,671.44 L219.0,671.52 L219.5,671.60 L220.0,671.68 L220.5,671.76 L221.0,671.85 L221.5,671.93 L222.0,672.02 L222.5,672.10 L223.0,672.19 L223.5,672.27 L224.0,672.36 L224.5,672.45 L225.0,672.54 L225.5,672.63 L226.0,672.72 L226.5,672.81 L227.0,672.90 L227.5,672.99 L228.0,673.09 L228.5,673.18 L229.0,673.28 L229.5,673.38 L230.0,673.47 L230.5,673.57 L231.0,673.67 L231.5,673.77 L232.0,673.87 L232.5,673.97 L233.0,674.08 L233.5,674.18 L234.0,674.29 L234.5,674.39 L235.0,674.50 L235.5,674.61 L236.0,674.72 L236.5,674.83 L237.0,674.94 L237.5,675.05 L238.0,675.16 L238.5,675.28 L239.0,675.40 L239.5,675.51 L240.0,675.63 L240.5,675.75 L241.0,675.87 L241.5,675.99 L242.0,676.11 L242.5,676.24 L243.0,676.36 L243.5,676.49 L244.0,676.62 L244.5,676.75 L245.0,676.88 L245.5,677.01 L246.0,677.14 L246.5,677.27 L247.0,677.41 L247.5,677.55 L248.0,677.68 L248.5,677.82 L249.0,677.97 L249.5,678.11 L250.0,678.25 L250.5,678.40 L251.0,678.55 L251.5,678.69 L252.0,678.84 L252.5,679.00 L253.0,679.15 L253.5,679.30 L254.0,679.46 L254.5,679.62 L255.0,679.78 L255.5,679.94 L256.0,680.10 L256.5,680.27 L257.0,680.43 L257.5,680.60 L258.0,680.77 L258.5,680.95 L259.0,681.12 L259.5,681.29 L260.0,681.47 L260.5,681.65 L261.0,681.83 L261.5,682.02 L262.0,682.20 L262.5,682.39 L263.0,682.58 L263.5,682.77 L264.0,682.97 L264.5,683.16 L265.0,683.36 L265.5,683.56 L266.0,683.76 L266.5,683.97 L267.0,684.18 L267.5,684.39 L268.0,684.60 L268.5,684.82 L269.0,685.03 L269.5,685.25 L270.0,685.48 L270.5,685.70 L271.0,685.93 L271.5,686.16 L272.0,686.40 L272.5,686.63 L273.0,686.87 L273.5,687.12 L274.0,687.36 L274.5,687.61 L275.0,687.86 L275.5,688.12 L276.0,688.38 L276.5,688.65 L277.0,688.91 L277.5,689.18 L278.0,689.46 L278.5,689.74 L279.0,690.02 L279.5,690.31 L280.0,690.61 L280.5,690.90 L281.0,691.21 L281.5,691.52 L282.0,691.83 L282.5,692.15 L283.0,692.47 L283.5,692.81 L284.0,693.14 L284.5,693.49 L285.0,693.84 L285.5,694.19 L286.0,694.56 L286.5,694.93 L287.0,695.31 L287.5,695.70 L288.0,696.10 L288.5,696.51 L289.0,696.92 L289.5,697.35 L290.0,697.78 L290.5,698.23 L291.0,698.69 L291.5,699.15 L292.0,699.63 L292.5,700.13 L293.0,700.63 L293.5,701.15 L294.0,701.68 L294.5,702.23 L295.0,702.79 L295.5,703.36 L296.0,703.95 L296.5,704.56 L297.0,705.18 L297.5,705.82 L298.0,706.48 L298.5,707.15 L299.0,707.85 L299.5,708.56 L300.0,709.29 L300.5,710.04 L301.0,710.81 L301.5,711.60 L302.0,712.41 L302.5,713.24 L303.0,714.10 L303.5,714.97 L304.0,715.87 L304.5,716.79 L305.0,717.72 L305.5,718.69 L306.0,719.67 L306.5,720.67 L307.0,721.70 L307.5,722.75 L308.0,723.82 L308.5,724.91 L309.0,726.02 L309.5,727.15 L310.0,728.30 L310.5,729.48 L311.0,730.66 L311.5,731.87 L312.0,733.09 L312.5,734.33 L313.0,735.59 L313.5,736.86 L314.0,738.14 L314.5,739.43 L315.0,740.73 L315.5,742.04 L316.0,743.36 L316.5,744.69 L317.0,746.02 L317.5,747.35 L318.0,748.68 L318.5,750.01 L319.0,751.34 L319.5,752.66 L320.0,753.98 L320.5,755.29 L321.0,756.58 L321.5,757.86 L322.0,759.13 L322.5,760.38 L323.0,761.61 L323.5,762.81 L324.0,763.99 L324.5,765.15 L325.0,766.27 L325.5,767.37 L326.0,768.43 L326.5,769.45 L327.0,770.43 L327.5,771.38 L328.0,772.28 L328.5,773.13 L329.0,773.94 L329.5,774.70 L330.0,775.41 L330.5,776.06 L331.0,776.65 L331.5,777.19 L332.0,777.67 L332.5,778.08 L333.0,778.42 L333.5,778.70 L334.0,778.90 L334.5,779.02 L335.0,779.07 L335.5,779.04 L336.0,778.94 L336.5,778.77 L337.0,778.53 L337.5,778.22 L338.0,777.85 L338.5,777.41 L339.0,776.91 L339.5,776.35 L340.0,775.73 L340.5,775.06 L341.0,774.32 L341.5,773.53 L342.0,772.68 L342.5,771.78 L343.0,770.83 L343.5,769.84 L344.0,768.79 L344.5,767.70 L345.0,766.57 L345.5,765.40 L346.0,764.19 L346.5,762.95 L347.0,761.67 L347.5,760.36 L348.0,759.03 L348.5,757.67 L349.0,756.29 L349.5,754.88 L350.0,753.46 L350.5,752.02 L351.0,750.57 L351.5,749.11 L352.0,747.64 L352.5,746.16 L353.0,744.68 L353.5,743.20 L354.0,741.72 L354.5,740.24 L355.0,738.76 L355.5,737.29 L356.0,735.83 L356.5,734.38 L357.0,732.94 L357.5,731.52 L358.0,730.11 L358.5,728.71 L359.0,727.33 L359.5,725.98 L360.0,724.64 L360.5,723.32 L361.0,722.03 L361.5,720.75 L362.0,719.51 L362.5,718.28 L363.0,717.08 L363.5,715.91 L364.0,714.76 L364.5,713.64 L365.0,712.55 L365.5,711.48 L366.0,710.44 L366.5,709.43 L367.0,708.44 L367.5,707.48 L368.0,706.55 L368.5,705.64 L369.0,704.76 L369.5,703.91 L370.0,703.08 L370.5,702.28 L371.0,701.50 L371.5,700.75 L372.0,700.02 L372.5,699.32 L373.0,698.64 L373.5,697.98 L374.0,697.35 L374.5,696.73 L375.0,696.14 L375.5,695.56 L376.0,695.01 L376.5,694.47 L377.0,693.96 L377.5,693.46 L378.0,692.98 L378.5,692.51 L379.0,692.06 L379.5,691.62 L380.0,691.20 L380.5,690.80 L381.0,690.40 L381.5,690.02 L382.0,689.65 L382.5,689.30 L383.0,688.95 L383.5,688.62 L384.0,688.29 L384.5,687.97 L385.0,687.67 L385.5,687.37 L386.0,687.08 L386.5,686.80 L387.0,686.52 L387.5,686.25 L388.0,685.99 L388.5,685.74 L389.0,685.49 L389.5,685.24 L390.0,685.00 L390.5,684.77 L391.0,684.54 L391.5,684.31 L392.0,684.09 L392.5,683.87 L393.0,683.66 L393.5,683.45 L394.0,683.24 L394.5,683.04 L395.0,682.84 L395.5,682.64 L396.0,682.45 L396.5,682.25 L397.0,682.06 L397.5,681.88 L398.0,681.69 L398.5,681.51 L399.0,681.32 L399.5,681.14 L400.0,680.96 L400.5,680.79 L401.0,680.61 L401.5,680.44 L402.0,680.27 L402.5,680.10 L403.0,679.93 L403.5,679.76 L404.0,679.60 L404.5,679.43 L405.0,679.27 L405.5,679.11 L406.0,678.95 L406.5,678.79 L407.0,678.63 L407.5,678.48 L408.0,678.32 L408.5,678.17 L409.0,678.01 L409.5,677.86 L410.0,677.71 L410.5,677.56 L411.0,677.42 L411.5,677.27 L412.0,677.13 L412.5,676.98 L413.0,676.84 L413.5,676.70 L414.0,676.56 L414.5,676.42 L415.0,676.28 L415.5,676.14 L416.0,676.01 L416.5,675.88 L417.0,675.74 L417.5,675.61 L418.0,675.48 L418.5,675.35 L419.0,675.22 L419.5,675.10 L420.0,674.97 L420.5,674.85 L421.0,674.72 L421.5,674.60 L422.0,674.48 L422.5,674.36 L423.0,674.24 L423.5,674.13 L424.0,674.01 L424.5,673.90 L425.0,673.78 L425.5,673.67 L426.0,673.56 L426.5,673.45 L427.0,673.34 L427.5,673.23 L428.0,673.13 L428.5,673.02 L429.0,672.92 L429.5,672.81 L430.0,672.71 L430.5,672.61 L431.0,672.51 L431.5,672.41 L432.0,672.31 L432.5,672.22 L433.0,672.12 L433.5,672.03 L434.0,671.93 L434.5,671.84 L435.0,671.75 L435.5,671.66 L436.0,671.57 L436.5,671.48 L437.0,671.39 L437.5,671.31 L438.0,671.22 L438.5,671.14 L439.0,671.06 L439.5,670.97 L440.0,670.89 L440.5,670.81 L441.0,670.73 L441.5,670.65 L442.0,670.58 L442.5,670.50 L443.0,670.42 L443.5,670.35 L444.0,670.27 L444.5,670.20 L445.0,670.13 L445.5,670.06 L446.0,669.99 L446.5,669.92 L447.0,669.85 L447.5,669.78 L448.0,669.71 L448.5,669.65 L449.0,669.58 L449.5,669.51 L450.0,669.45 L450.5,669.39 L451.0,669.32 L451.5,669.26 L452.0,669.20 L452.5,669.14 L453.0,669.08 L453.5,669.02 L454.0,668.96 L454.5,668.91 L455.0,668.85 L455.5,668.79 L456.0,668.74 L456.5,668.68 L457.0,668.63 L457.5,668.57 L458.0,668.52 L458.5,668.47 L459.0,668.42 L459.5,668.36 L460.0,668.31 L460.5,668.26 L461.0,668.21 L461.5,668.17 L462.0,668.12 L462.5,668.07 L463.0,668.02 L463.5,667.98 L464.0,667.93 L464.5,667.88 L465.0,667.84 L465.5,667.79 L466.0,667.75 L466.5,667.71 L467.0,667.66 L467.5,667.62 L468.0,667.58 L468.5,667.54 L469.0,667.50 L469.5,667.46 L470.0,667.42 L470.5,667.38 L471.0,667.34 L471.5,667.30 L472.0,667.26 L472.5,667.22 L473.0,667.19 L473.5,667.15 L474.0,667.11 L474.5,667.08 L475.0,667.04 L475.5,667.01 L476.0,666.97 L476.5,666.94 L477.0,666.90 L477.5,666.87 L478.0,666.84 L478.5,666.80 L479.0,666.77 L479.5,666.74 L480.0,666.71 L480.5,666.68 L481.0,666.64 L481.5,666.61 L482.0,666.58 L482.5,666.55 L483.0,666.52 L483.5,666.49 L484.0,666.47 L484.5,666.44 L485.0,666.41 L485.5,666.38 L486.0,666.35 L486.5,666.33 L487.0,666.30 L487.5,666.27 L488.0,666.25 L488.5,666.22 L489.0,666.19 L489.5,666.17 L490.0,666.14 L490.5,666.12 L491.0,666.09 L491.5,666.07 L492.0,666.04 L492.5,666.02 L493.0,666.00 L493.5,665.97 L494.0,665.95 L494.5,665.93 L495.0,665.90 L495.5,665.88 L496.0,665.86 L496.5,665.84 L497.0,665.81 L497.5,665.79 L498.0,665.77 L498.5,665.75 L499.0,665.73 L499.5,665.71 L500.0,665.69 L500.5,665.67 L501.0,665.65 L501.5,665.63 L502.0,665.61 L502.5,665.59 L503.0,665.57 L503.5,665.55 L504.0,665.53 L504.5,665.51 L505.0,665.50 L505.5,665.48 L506.0,665.46 L506.5,665.44 L507.0,665.42 L507.5,665.41 L508.0,665.39 L508.5,665.37 L509.0,665.35 L509.5,665.34 L510.0,665.32 L510.5,665.31 L511.0,665.29 L511.5,665.27 L512.0,665.26 L512.5,665.24 L513.0,665.23 L513.5,665.21 L514.0,665.19 L514.5,665.18 L515.0,665.16 L515.5,665.15 L516.0,665.13 L516.5,665.12 L517.0,665.11 L517.5,665.09 L518.0,665.08 L518.5,665.06 L519.0,665.05 L519.5,665.04 L520.0,665.02 L520.5,665.01 L521.0,665.00 L521.5,664.98 L522.0,664.97 L522.5,664.96 L523.0,664.94 L523.5,664.93 L524.0,664.92 L524.5,664.91 L525.0,664.89 L525.5,664.88 L526.0,664.87 L526.5,664.86 L527.0,664.85 L527.5,664.83 L528.0,664.82 L528.5,664.81 L529.0,664.80 L529.5,664.79 L530.0,664.78 L530.5,664.77 L531.0,664.75 L531.5,664.74 L532.0,664.73 L532.5,664.72 L533.0,664.71 L533.5,664.70 L534.0,664.69 L534.5,664.68 L535.0,664.67 L535.5,664.66 L536.0,664.65 L536.5,664.64 L537.0,664.63 L537.5,664.62 L538.0,664.61 L538.5,664.60 L539.0,664.59 L539.5,664.58 L540.0,664.57 L540.5,664.56 L541.0,664.56 L541.5,664.55 L542.0,664.54 L542.5,664.53 L543.0,664.52 L543.5,664.51 L544.0,664.50 L544.5,664.49 L545.0,664.49 L545.5,664.48 L546.0,664.47 L546.5,664.46 L547.0,664.45 L547.5,664.44 L548.0,664.44 L548.5,664.43 L549.0,664.42 L549.5,664.41 L550.0,664.40 L550.5,664.40 L551.0,664.39 L551.5,664.38 L552.0,664.37 L552.5,664.37 L553.0,664.36 L553.5,664.35 L554.0,664.34 L554.5,664.34 L555.0,664.33 L555.5,664.32 L556.0,664.32 L556.5,664.31 L557.0,664.30 L557.5,664.30 L558.0,664.29 L558.5,664.28 L559.0,664.28 L559.5,664.27 L560.0,664.26 L560.5,664.26 L561.0,664.25 L561.5,664.24 L562.0,664.24 L562.5,664.23 L563.0,664.22 L563.5,664.22 L564.0,664.21 L564.5,664.21 L565.0,664.20 L565.5,664.19 L566.0,664.19 L566.5,664.18 L567.0,664.18 L567.5,664.17 L568.0,664.16 L568.5,664.16 L569.0,664.15 L569.5,664.15 L570.0,664.14 L570.5,664.14 L571.0,664.13 L571.5,664.13 L572.0,664.12 L572.5,664.12 L573.0,664.11 L573.5,664.10 L574.0,664.10 L574.5,664.09 L575.0,664.09 L575.5,664.08 L576.0,664.08 L576.5,664.07 L577.0,664.07 L577.5,664.06 L578.0,664.06 L578.5,664.05 L579.0,664.05 L579.5,664.04 L580.0,664.04 L580.5,664.04 L581.0,664.03 L581.5,664.03 L582.0,664.02 L582.5,664.02 L583.0,664.01 L583.5,664.01 L584.0,664.01 L584.0,664.00 Z" fill="url(#gCgreen)"/>
<g fill="none" stroke="#858585" stroke-width="1.45"><circle cx="131.8" cy="672.8" r="2.75"/><circle cx="137.5" cy="674.9" r="2.75"/><circle cx="143.2" cy="676.9" r="2.75"/><circle cx="149.0" cy="678.8" r="2.75"/><circle cx="154.7" cy="680.8" r="2.75"/><circle cx="160.4" cy="682.8" r="2.75"/><circle cx="166.1" cy="685.1" r="2.75"/><circle cx="171.8" cy="687.7" r="2.75"/><circle cx="177.6" cy="690.7" r="2.75"/><circle cx="183.3" cy="694.2" r="2.75"/><circle cx="189.0" cy="699.4" r="2.75"/><circle cx="194.7" cy="707.2" r="2.75"/><circle cx="200.4" cy="718.6" r="2.75"/><circle cx="206.2" cy="732.8" r="2.75"/><circle cx="211.9" cy="748.7" r="2.75"/><circle cx="217.6" cy="765.2" r="2.75"/><circle cx="223.3" cy="781.2" r="2.75"/><circle cx="229.0" cy="795.6" r="2.75"/><circle cx="234.8" cy="806.6" r="2.75"/><circle cx="240.5" cy="812.7" r="2.75"/><circle cx="246.2" cy="812.5" r="2.75"/><circle cx="251.9" cy="806.7" r="2.75"/><circle cx="257.6" cy="796.6" r="2.75"/><circle cx="263.4" cy="784.3" r="2.75"/><circle cx="269.1" cy="772.0" r="2.75"/><circle cx="274.8" cy="762.1" r="2.75"/><circle cx="280.5" cy="756.9" r="2.75"/><circle cx="286.2" cy="758.1" r="2.75"/><circle cx="292.0" cy="765.0" r="2.75"/><circle cx="297.7" cy="776.2" r="2.75"/><circle cx="303.4" cy="790.2" r="2.75"/><circle cx="309.1" cy="805.6" r="2.75"/><circle cx="314.8" cy="821.1" r="2.75"/><circle cx="320.6" cy="835.7" r="2.75"/><circle cx="326.3" cy="848.5" r="2.75"/><circle cx="332.0" cy="858.7" r="2.75"/><circle cx="337.7" cy="865.5" r="2.75"/><circle cx="343.4" cy="868.2" r="2.75"/><circle cx="349.2" cy="867.8" r="2.75"/><circle cx="354.9" cy="865.4" r="2.75"/><circle cx="360.6" cy="862.3" r="2.75"/><circle cx="366.3" cy="859.6" r="2.75"/><circle cx="372.0" cy="858.5" r="2.75"/><circle cx="377.8" cy="858.7" r="2.75"/><circle cx="383.5" cy="859.7" r="2.75"/><circle cx="389.2" cy="860.9" r="2.75"/><circle cx="394.9" cy="861.7" r="2.75"/><circle cx="400.6" cy="861.7" r="2.75"/><circle cx="406.4" cy="860.4" r="2.75"/><circle cx="412.1" cy="857.5" r="2.75"/><circle cx="417.8" cy="853.1" r="2.75"/><circle cx="423.5" cy="847.1" r="2.75"/><circle cx="429.2" cy="840.4" r="2.75"/><circle cx="435.0" cy="833.7" r="2.75"/><circle cx="440.7" cy="827.6" r="2.75"/><circle cx="446.4" cy="822.1" r="2.75"/><circle cx="452.1" cy="816.6" r="2.75"/><circle cx="457.8" cy="810.8" r="2.75"/><circle cx="463.6" cy="804.3" r="2.75"/><circle cx="469.3" cy="796.8" r="2.75"/><circle cx="475.0" cy="788.4" r="2.75"/><circle cx="480.7" cy="779.3" r="2.75"/><circle cx="486.4" cy="769.8" r="2.75"/><circle cx="492.2" cy="759.9" r="2.75"/><circle cx="497.9" cy="750.1" r="2.75"/><circle cx="503.6" cy="740.4" r="2.75"/><circle cx="509.3" cy="731.4" r="2.75"/><circle cx="515.0" cy="723.3" r="2.75"/><circle cx="520.8" cy="716.4" r="2.75"/><circle cx="526.5" cy="711.0" r="2.75"/><circle cx="532.2" cy="706.8" r="2.75"/><circle cx="537.9" cy="703.6" r="2.75"/><circle cx="543.6" cy="700.8" r="2.75"/><circle cx="549.4" cy="698.1" r="2.75"/><circle cx="555.1" cy="695.2" r="2.75"/><circle cx="560.8" cy="692.2" r="2.75"/><circle cx="566.5" cy="689.0" r="2.75"/><circle cx="572.2" cy="686.0" r="2.75"/><circle cx="578.0" cy="683.2" r="2.75"/><circle cx="583.7" cy="680.7" r="2.75"/><circle cx="589.4" cy="678.6" r="2.75"/><circle cx="595.1" cy="676.9" r="2.75"/><circle cx="600.8" cy="675.5" r="2.75"/><circle cx="606.6" cy="674.5" r="2.75"/><circle cx="612.3" cy="673.8" r="2.75"/><circle cx="618.0" cy="673.5" r="2.75"/><circle cx="623.7" cy="673.5" r="2.75"/><circle cx="629.4" cy="673.8" r="2.75"/><circle cx="635.2" cy="674.5" r="2.75"/></g>
<path d="M136.0,676.50 L136.0,676.54 L136.5,676.56 L137.0,676.59 L137.5,676.62 L138.0,676.65 L138.5,676.69 L139.0,676.73 L139.5,676.77 L140.0,676.81 L140.5,676.85 L141.0,676.89 L141.5,676.93 L142.0,676.97 L142.5,677.01 L143.0,677.05 L143.5,677.09 L144.0,677.13 L144.5,677.17 L145.0,677.21 L145.5,677.25 L146.0,677.29 L146.5,677.34 L147.0,677.38 L147.5,677.42 L148.0,677.46 L148.5,677.51 L149.0,677.55 L149.5,677.59 L150.0,677.64 L150.5,677.68 L151.0,677.72 L151.5,677.77 L152.0,677.81 L152.5,677.86 L153.0,677.90 L153.5,677.95 L154.0,677.99 L154.5,678.04 L155.0,678.09 L155.5,678.13 L156.0,678.18 L156.5,678.23 L157.0,678.27 L157.5,678.32 L158.0,678.37 L158.5,678.41 L159.0,678.46 L159.5,678.51 L160.0,678.56 L160.5,678.61 L161.0,678.66 L161.5,678.71 L162.0,678.76 L162.5,678.81 L163.0,678.86 L163.5,678.91 L164.0,678.96 L164.5,679.01 L165.0,679.06 L165.5,679.11 L166.0,679.16 L166.5,679.22 L167.0,679.27 L167.5,679.32 L168.0,679.38 L168.5,679.43 L169.0,679.48 L169.5,679.54 L170.0,679.59 L170.5,679.65 L171.0,679.70 L171.5,679.76 L172.0,679.81 L172.5,679.87 L173.0,679.92 L173.5,679.98 L174.0,680.04 L174.5,680.09 L175.0,680.15 L175.5,680.21 L176.0,680.27 L176.5,680.33 L177.0,680.39 L177.5,680.45 L178.0,680.50 L178.5,680.56 L179.0,680.63 L179.5,680.69 L180.0,680.75 L180.5,680.81 L181.0,680.87 L181.5,680.93 L182.0,680.99 L182.5,681.06 L183.0,681.12 L183.5,681.18 L184.0,681.25 L184.5,681.31 L185.0,681.38 L185.5,681.44 L186.0,681.51 L186.5,681.57 L187.0,681.64 L187.5,681.71 L188.0,681.77 L188.5,681.84 L189.0,681.91 L189.5,681.98 L190.0,682.05 L190.5,682.12 L191.0,682.19 L191.5,682.26 L192.0,682.33 L192.5,682.40 L193.0,682.47 L193.5,682.54 L194.0,682.61 L194.5,682.69 L195.0,682.76 L195.5,682.83 L196.0,682.91 L196.5,682.98 L197.0,683.06 L197.5,683.13 L198.0,683.21 L198.5,683.28 L199.0,683.36 L199.5,683.44 L200.0,683.52 L200.5,683.59 L201.0,683.67 L201.5,683.75 L202.0,683.83 L202.5,683.91 L203.0,683.99 L203.5,684.07 L204.0,684.16 L204.5,684.24 L205.0,684.32 L205.5,684.40 L206.0,684.49 L206.5,684.57 L207.0,684.66 L207.5,684.74 L208.0,684.83 L208.5,684.92 L209.0,685.00 L209.5,685.09 L210.0,685.18 L210.5,685.27 L211.0,685.36 L211.5,685.45 L212.0,685.54 L212.5,685.63 L213.0,685.72 L213.5,685.81 L214.0,685.91 L214.5,686.00 L215.0,686.09 L215.5,686.19 L216.0,686.28 L216.5,686.38 L217.0,686.48 L217.5,686.57 L218.0,686.67 L218.5,686.77 L219.0,686.87 L219.5,686.97 L220.0,687.07 L220.5,687.17 L221.0,687.27 L221.5,687.38 L222.0,687.48 L222.5,687.58 L223.0,687.69 L223.5,687.80 L224.0,687.90 L224.5,688.01 L225.0,688.12 L225.5,688.22 L226.0,688.33 L226.5,688.44 L227.0,688.55 L227.5,688.66 L228.0,688.78 L228.5,688.89 L229.0,689.00 L229.5,689.12 L230.0,689.23 L230.5,689.35 L231.0,689.47 L231.5,689.58 L232.0,689.70 L232.5,689.82 L233.0,689.94 L233.5,690.06 L234.0,690.18 L234.5,690.31 L235.0,690.43 L235.5,690.55 L236.0,690.68 L236.5,690.80 L237.0,690.93 L237.5,691.06 L238.0,691.19 L238.5,691.32 L239.0,691.45 L239.5,691.58 L240.0,691.71 L240.5,691.84 L241.0,691.98 L241.5,692.11 L242.0,692.25 L242.5,692.39 L243.0,692.52 L243.5,692.66 L244.0,692.80 L244.5,692.94 L245.0,693.08 L245.5,693.23 L246.0,693.37 L246.5,693.52 L247.0,693.66 L247.5,693.81 L248.0,693.96 L248.5,694.11 L249.0,694.26 L249.5,694.41 L250.0,694.56 L250.5,694.71 L251.0,694.87 L251.5,695.02 L252.0,695.18 L252.5,695.34 L253.0,695.50 L253.5,695.66 L254.0,695.82 L254.5,695.98 L255.0,696.15 L255.5,696.31 L256.0,696.48 L256.5,696.64 L257.0,696.81 L257.5,696.98 L258.0,697.15 L258.5,697.33 L259.0,697.50 L259.5,697.68 L260.0,697.85 L260.5,698.03 L261.0,698.21 L261.5,698.39 L262.0,698.57 L262.5,698.75 L263.0,698.94 L263.5,699.12 L264.0,699.31 L264.5,699.50 L265.0,699.69 L265.5,699.88 L266.0,700.07 L266.5,700.26 L267.0,700.46 L267.5,700.66 L268.0,700.85 L268.5,701.05 L269.0,701.26 L269.5,701.46 L270.0,701.66 L270.5,701.87 L271.0,702.08 L271.5,702.29 L272.0,702.50 L272.5,702.71 L273.0,702.92 L273.5,703.14 L274.0,703.35 L274.5,703.57 L275.0,703.79 L275.5,704.02 L276.0,704.24 L276.5,704.46 L277.0,704.69 L277.5,704.92 L278.0,705.15 L278.5,705.38 L279.0,705.62 L279.5,705.85 L280.0,706.09 L280.5,706.33 L281.0,706.57 L281.5,706.81 L282.0,707.06 L282.5,707.30 L283.0,707.55 L283.5,707.80 L284.0,708.06 L284.5,708.31 L285.0,708.57 L285.5,708.82 L286.0,709.08 L286.5,709.35 L287.0,709.61 L287.5,709.88 L288.0,710.14 L288.5,710.41 L289.0,710.69 L289.5,710.96 L290.0,711.24 L290.5,711.51 L291.0,711.80 L291.5,712.08 L292.0,712.36 L292.5,712.65 L293.0,712.94 L293.5,713.23 L294.0,713.52 L294.5,713.82 L295.0,714.12 L295.5,714.42 L296.0,714.72 L296.5,715.02 L297.0,715.33 L297.5,715.64 L298.0,715.95 L298.5,716.27 L299.0,716.58 L299.5,716.90 L300.0,717.22 L300.5,717.55 L301.0,717.87 L301.5,718.20 L302.0,718.53 L302.5,718.86 L303.0,719.20 L303.5,719.54 L304.0,719.88 L304.5,720.22 L305.0,720.57 L305.5,720.92 L306.0,721.27 L306.5,721.62 L307.0,721.98 L307.5,722.33 L308.0,722.70 L308.5,723.06 L309.0,723.43 L309.5,723.80 L310.0,724.17 L310.5,724.54 L311.0,724.92 L311.5,725.30 L312.0,725.68 L312.5,726.07 L313.0,726.46 L313.5,726.85 L314.0,727.24 L314.5,727.64 L315.0,728.04 L315.5,728.44 L316.0,728.84 L316.5,729.25 L317.0,729.66 L317.5,730.08 L318.0,730.49 L318.5,730.91 L319.0,731.34 L319.5,731.76 L320.0,732.19 L320.5,732.62 L321.0,733.05 L321.5,733.49 L322.0,733.93 L322.5,734.37 L323.0,734.82 L323.5,735.27 L324.0,735.72 L324.5,736.18 L325.0,736.63 L325.5,737.09 L326.0,737.56 L326.5,738.03 L327.0,738.50 L327.5,738.97 L328.0,739.44 L328.5,739.92 L329.0,740.41 L329.5,740.89 L330.0,741.38 L330.5,741.87 L331.0,742.37 L331.5,742.87 L332.0,743.37 L332.5,743.87 L333.0,744.38 L333.5,744.89 L334.0,745.41 L334.5,745.92 L335.0,746.44 L335.5,746.97 L336.0,747.50 L336.5,748.03 L337.0,748.56 L337.5,749.10 L338.0,749.64 L338.5,750.18 L339.0,750.73 L339.5,751.28 L340.0,751.84 L340.5,752.39 L341.0,752.95 L341.5,753.52 L342.0,754.09 L342.5,754.66 L343.0,755.24 L343.5,755.81 L344.0,756.40 L344.5,756.98 L345.0,757.58 L345.5,758.17 L346.0,758.77 L346.5,759.37 L347.0,759.98 L347.5,760.59 L348.0,761.20 L348.5,761.82 L349.0,762.44 L349.5,763.07 L350.0,763.70 L350.5,764.33 L351.0,764.97 L351.5,765.61 L352.0,766.26 L352.5,766.91 L353.0,767.57 L353.5,768.23 L354.0,768.90 L354.5,769.57 L355.0,770.24 L355.5,770.93 L356.0,771.61 L356.5,772.30 L357.0,773.00 L357.5,773.70 L358.0,774.40 L358.5,775.11 L359.0,775.83 L359.5,776.55 L360.0,777.28 L360.5,778.01 L361.0,778.74 L361.5,779.49 L362.0,780.24 L362.5,780.99 L363.0,781.75 L363.5,782.51 L364.0,783.28 L364.5,784.06 L365.0,784.84 L365.5,785.63 L366.0,786.42 L366.5,787.22 L367.0,788.03 L367.5,788.84 L368.0,789.65 L368.5,790.48 L369.0,791.30 L369.5,792.14 L370.0,792.98 L370.5,793.82 L371.0,794.67 L371.5,795.52 L372.0,796.38 L372.5,797.25 L373.0,798.12 L373.5,798.99 L374.0,799.87 L374.5,800.75 L375.0,801.64 L375.5,802.53 L376.0,803.43 L376.5,804.32 L377.0,805.23 L377.5,806.13 L378.0,807.04 L378.5,807.95 L379.0,808.86 L379.5,809.78 L380.0,810.69 L380.5,811.61 L381.0,812.53 L381.5,813.45 L382.0,814.37 L382.5,815.29 L383.0,816.20 L383.5,817.12 L384.0,818.03 L384.5,818.95 L385.0,819.86 L385.5,820.76 L386.0,821.67 L386.5,822.57 L387.0,823.46 L387.5,824.35 L388.0,825.23 L388.5,826.11 L389.0,826.98 L389.5,827.84 L390.0,828.69 L390.5,829.54 L391.0,830.37 L391.5,831.20 L392.0,832.01 L392.5,832.82 L393.0,833.61 L393.5,834.39 L394.0,835.15 L394.5,835.90 L395.0,836.64 L395.5,837.36 L396.0,838.07 L396.5,838.76 L397.0,839.43 L397.5,840.08 L398.0,840.72 L398.5,841.34 L399.0,841.94 L399.5,842.52 L400.0,843.07 L400.5,843.61 L401.0,844.13 L401.5,844.62 L402.0,845.09 L402.5,845.54 L403.0,845.97 L403.5,846.37 L404.0,846.75 L404.5,847.11 L405.0,847.44 L405.5,847.74 L406.0,848.02 L406.5,848.28 L407.0,848.51 L407.5,848.71 L408.0,848.89 L408.5,849.04 L409.0,849.17 L409.5,849.27 L410.0,849.35 L410.5,849.40 L411.0,849.44 L411.5,849.45 L412.0,849.44 L412.5,849.42 L413.0,849.38 L413.5,849.33 L414.0,849.26 L414.5,849.17 L415.0,849.07 L415.5,848.96 L416.0,848.83 L416.5,848.69 L417.0,848.52 L417.5,848.35 L418.0,848.16 L418.5,847.95 L419.0,847.73 L419.5,847.49 L420.0,847.23 L420.5,846.96 L421.0,846.67 L421.5,846.37 L422.0,846.05 L422.5,845.72 L423.0,845.37 L423.5,845.01 L424.0,844.63 L424.5,844.23 L425.0,843.82 L425.5,843.40 L426.0,842.96 L426.5,842.51 L427.0,842.04 L427.5,841.56 L428.0,841.07 L428.5,840.56 L429.0,840.04 L429.5,839.50 L430.0,838.96 L430.5,838.40 L431.0,837.82 L431.5,837.24 L432.0,836.64 L432.5,836.04 L433.0,835.42 L433.5,834.79 L434.0,834.15 L434.5,833.50 L435.0,832.84 L435.5,832.17 L436.0,831.49 L436.5,830.80 L437.0,830.10 L437.5,829.40 L438.0,828.68 L438.5,827.96 L439.0,827.23 L439.5,826.49 L440.0,825.74 L440.5,824.99 L441.0,824.23 L441.5,823.47 L442.0,822.70 L442.5,821.92 L443.0,821.14 L443.5,820.35 L444.0,819.56 L444.5,818.76 L445.0,817.96 L445.5,817.15 L446.0,816.34 L446.5,815.52 L447.0,814.71 L447.5,813.89 L448.0,813.06 L448.5,812.23 L449.0,811.40 L449.5,810.57 L450.0,809.74 L450.5,808.90 L451.0,808.06 L451.5,807.23 L452.0,806.38 L452.5,805.54 L453.0,804.70 L453.5,803.86 L454.0,803.01 L454.5,802.17 L455.0,801.32 L455.5,800.48 L456.0,799.63 L456.5,798.79 L457.0,797.94 L457.5,797.10 L458.0,796.25 L458.5,795.41 L459.0,794.57 L459.5,793.73 L460.0,792.89 L460.5,792.05 L461.0,791.21 L461.5,790.37 L462.0,789.54 L462.5,788.70 L463.0,787.87 L463.5,787.04 L464.0,786.22 L464.5,785.39 L465.0,784.57 L465.5,783.75 L466.0,782.93 L466.5,782.11 L467.0,781.30 L467.5,780.49 L468.0,779.68 L468.5,778.87 L469.0,778.07 L469.5,777.27 L470.0,776.47 L470.5,775.68 L471.0,774.89 L471.5,774.10 L472.0,773.31 L472.5,772.53 L473.0,771.75 L473.5,770.98 L474.0,770.20 L474.5,769.44 L475.0,768.67 L475.5,767.91 L476.0,767.15 L476.5,766.39 L477.0,765.64 L477.5,764.89 L478.0,764.15 L478.5,763.41 L479.0,762.67 L479.5,761.94 L480.0,761.21 L480.5,760.48 L481.0,759.76 L481.5,759.05 L482.0,758.33 L482.5,757.62 L483.0,756.92 L483.5,756.21 L484.0,755.52 L484.5,754.82 L485.0,754.13 L485.5,753.45 L486.0,752.76 L486.5,752.09 L487.0,751.41 L487.5,750.74 L488.0,750.08 L488.5,749.42 L489.0,748.76 L489.5,748.10 L490.0,747.46 L490.5,746.81 L491.0,746.17 L491.5,745.53 L492.0,744.90 L492.5,744.28 L493.0,743.65 L493.5,743.03 L494.0,742.42 L494.5,741.81 L495.0,741.20 L495.5,740.60 L496.0,740.00 L496.5,739.41 L497.0,738.82 L497.5,738.23 L498.0,737.65 L498.5,737.07 L499.0,736.50 L499.5,735.93 L500.0,735.37 L500.5,734.81 L501.0,734.25 L501.5,733.70 L502.0,733.16 L502.5,732.61 L503.0,732.07 L503.5,731.54 L504.0,731.01 L504.5,730.48 L505.0,729.96 L505.5,729.45 L506.0,728.93 L506.5,728.42 L507.0,727.92 L507.5,727.42 L508.0,726.92 L508.5,726.43 L509.0,725.94 L509.5,725.45 L510.0,724.97 L510.5,724.49 L511.0,724.02 L511.5,723.55 L512.0,723.09 L512.5,722.63 L513.0,722.17 L513.5,721.72 L514.0,721.27 L514.5,720.82 L515.0,720.38 L515.5,719.94 L516.0,719.51 L516.5,719.08 L517.0,718.65 L517.5,718.23 L518.0,717.81 L518.5,717.40 L519.0,716.99 L519.5,716.58 L520.0,716.17 L520.5,715.77 L521.0,715.38 L521.5,714.98 L522.0,714.59 L522.5,714.21 L523.0,713.82 L523.5,713.45 L524.0,713.07 L524.5,712.70 L525.0,712.33 L525.5,711.96 L526.0,711.60 L526.5,711.24 L527.0,710.88 L527.5,710.53 L528.0,710.18 L528.5,709.84 L529.0,709.49 L529.5,709.15 L530.0,708.82 L530.5,708.48 L531.0,708.15 L531.5,707.83 L532.0,707.50 L532.5,707.18 L533.0,706.86 L533.5,706.55 L534.0,706.23 L534.5,705.92 L535.0,705.62 L535.5,705.31 L536.0,705.01 L536.5,704.72 L537.0,704.42 L537.5,704.13 L538.0,703.84 L538.5,703.55 L539.0,703.27 L539.5,702.98 L540.0,702.70 L540.5,702.43 L541.0,702.15 L541.5,701.88 L542.0,701.61 L542.5,701.35 L543.0,701.08 L543.5,700.82 L544.0,700.56 L544.5,700.31 L545.0,700.05 L545.5,699.80 L546.0,699.55 L546.5,699.31 L547.0,699.06 L547.5,698.82 L548.0,698.58 L548.5,698.34 L549.0,698.10 L549.5,697.87 L550.0,697.64 L550.5,697.41 L551.0,697.18 L551.5,696.96 L552.0,696.74 L552.5,696.52 L553.0,696.30 L553.5,696.08 L554.0,695.87 L554.5,695.65 L555.0,695.44 L555.5,695.23 L556.0,695.03 L556.5,694.82 L557.0,694.62 L557.5,694.42 L558.0,694.22 L558.5,694.02 L559.0,693.83 L559.5,693.63 L560.0,693.44 L560.5,693.25 L561.0,693.06 L561.5,692.88 L562.0,692.69 L562.5,692.51 L563.0,692.33 L563.5,692.15 L564.0,691.97 L564.5,691.79 L565.0,691.62 L565.5,691.44 L566.0,691.27 L566.5,691.10 L567.0,690.93 L567.5,690.77 L568.0,690.60 L568.5,690.44 L569.0,690.27 L569.5,690.11 L570.0,689.95 L570.5,689.79 L571.0,689.64 L571.5,689.48 L572.0,689.33 L572.5,689.18 L573.0,689.02 L573.5,688.87 L574.0,688.73 L574.5,688.58 L575.0,688.43 L575.5,688.29 L576.0,688.14 L576.5,688.00 L577.0,687.86 L577.5,687.72 L578.0,687.58 L578.5,687.45 L579.0,687.31 L579.5,687.18 L580.0,687.04 L580.5,686.91 L581.0,686.78 L581.5,686.65 L582.0,686.52 L582.5,686.39 L583.0,686.27 L583.5,686.14 L584.0,686.02 L584.5,685.89 L585.0,685.77 L585.5,685.65 L586.0,685.53 L586.5,685.41 L587.0,685.29 L587.5,685.18 L588.0,685.06 L588.5,684.94 L589.0,684.83 L589.5,684.72 L590.0,684.61 L590.5,684.49 L591.0,684.38 L591.5,684.27 L592.0,684.17 L592.5,684.06 L593.0,683.95 L593.5,683.85 L594.0,683.74 L594.5,683.64 L595.0,683.54 L595.5,683.43 L596.0,683.33 L596.5,683.23 L597.0,683.13 L597.5,683.03 L598.0,682.94 L598.5,682.84 L599.0,682.74 L599.5,682.65 L600.0,682.55 L600.5,682.46 L601.0,682.37 L601.5,682.27 L602.0,682.18 L602.5,682.09 L603.0,682.00 L603.5,681.91 L604.0,681.82 L604.5,681.74 L605.0,681.65 L605.5,681.56 L606.0,681.48 L606.5,681.39 L607.0,681.31 L607.5,681.22 L608.0,681.14 L608.5,681.06 L609.0,680.98 L609.5,680.90 L610.0,680.82 L610.5,680.74 L611.0,680.66 L611.5,680.58 L612.0,680.50 L612.5,680.42 L613.0,680.35 L613.5,680.27 L614.0,680.20 L614.5,680.12 L615.0,680.05 L615.5,679.97 L616.0,679.90 L616.5,679.83 L617.0,679.76 L617.5,679.69 L618.0,679.61 L618.5,679.54 L619.0,679.48 L619.5,679.41 L620.0,679.34 L620.5,679.27 L621.0,679.20 L621.5,679.14 L622.0,679.07 L622.5,679.00 L623.0,678.94 L623.5,678.87 L624.0,678.81 L624.5,678.74 L625.0,678.68 L625.5,678.62 L626.0,678.56 L626.5,678.49 L627.0,678.43 L627.5,678.37 L628.0,678.31 L628.5,678.25 L629.0,678.19 L629.5,678.13 L630.0,678.07 L630.5,678.02 L631.0,677.96 L631.5,677.90 L632.0,677.84 L632.5,677.79 L633.0,677.73 L633.5,677.67 L634.0,677.62 L634.5,677.56 L635.0,677.51 L635.5,677.46 L636.0,677.40 L636.5,677.35 L637.0,677.30 L637.5,677.24 L638.0,677.19 L638.5,677.14 L639.0,677.09 L639.5,677.04 L639.5,676.50 Z" fill="url(#gCblue)"/>
</g>
<rect x="128.0" y="548.6" width="509.7" height="410.7" fill="none" stroke="#000" stroke-width="2.1" stroke-linejoin="round"/>
<path d="M120.8,959.30H128.0 M124.2,907.96H128.0 M120.8,856.62H128.0 M124.2,805.29H128.0 M120.8,753.95H128.0 M124.2,702.61H128.0 M120.8,651.27H128.0 M124.2,599.94H128.0 M120.8,548.60H128.0 M128.00,959.3V963.1 M229.94,959.3V966.5 M331.88,959.3V963.1 M433.82,959.3V966.5 M535.76,959.3V963.1 M637.70,959.3V966.5" stroke="#000" stroke-width="1.9" stroke-linecap="round" fill="none"/>
<text x="113.5" y="969.7" text-anchor="end" class="tk">0.6</text>
<text x="113.5" y="867.0" text-anchor="end" class="tk">0.7</text>
<text x="113.5" y="764.3" text-anchor="end" class="tk">0.8</text>
<text x="113.5" y="661.7" text-anchor="end" class="tk">0.9</text>
<text x="113.5" y="559.0" text-anchor="end" class="tk">.0</text>
<path transform="translate(65.66,559.00) scale(0.01758,-0.01758)" d="M478,0 L759,0 L759,1409 L493,1409 L140,1180 L140,959 L478,1170 Z" fill="#000"/>
<text x="229.9" y="1000.3" text-anchor="middle" class="tk">6</text>
<text x="433.8" y="1000.3" text-anchor="middle" class="tk">7</text>
<text x="637.7" y="1000.3" text-anchor="middle" class="tk">8</text>
<text x="0.0" y="559.8" class="let">(C)</text>
<text x="568.1" y="605.0" text-anchor="end" class="conc">0</text>
<path transform="translate(526.12,605.00) scale(0.01953,-0.01953)" d="M478,0 L759,0 L759,1409 L493,1409 L140,1180 L140,959 L478,1170 Z" fill="#000"/>
<path transform="translate(582.80,605.00) scale(1.000)" d="M1.5,-18.2 L5.1,-18.2 L5.1,-5.5 C5.1,-3.0 6.5,-2.6 8.3,-3.0 C10.5,-3.5 12.8,-5.5 12.8,-8 L12.8,-18.2 L16.8,-18.2 L16.8,-5.0 C16.8,-3.2 17.4,-2.8 18.3,-3.4 L20.2,-5.0 C19.6,-1.5 18.6,0.6 16.8,0.6 C14.5,0.6 13.6,-1.0 13.0,-2.6 C11.5,-0.6 9.5,0.4 7.5,0.4 C6.2,0.4 5.3,0 4.9,-0.8 L4.5,3.6 C4.9,4.4 5.0,5.0 5.0,5.8 C5.0,7.2 3.9,8.0 2.8,8.0 C1.6,8.0 0.5,7.2 0.5,5.9 C0.5,4.8 1.2,3.9 1.6,2.6 Z" fill="#000"/>
<text x="630.7" y="605.0" text-anchor="end" class="conc">g</text>
<text x="230.7" y="1036.7" class="ax">Wavelength</text>
<text x="434.7" y="1036.7" class="ax ser">(</text>
<path transform="translate(447.89,1036.70) scale(0.820)" d="M1.5,-18.2 L5.1,-18.2 L5.1,-5.5 C5.1,-3.0 6.5,-2.6 8.3,-3.0 C10.5,-3.5 12.8,-5.5 12.8,-8 L12.8,-18.2 L16.8,-18.2 L16.8,-5.0 C16.8,-3.2 17.4,-2.8 18.3,-3.4 L20.2,-5.0 C19.6,-1.5 18.6,0.6 16.8,0.6 C14.5,0.6 13.6,-1.0 13.0,-2.6 C11.5,-0.6 9.5,0.4 7.5,0.4 C6.2,0.4 5.3,0 4.9,-0.8 L4.5,3.6 C4.9,4.4 5.0,5.0 5.0,5.8 C5.0,7.2 3.9,8.0 2.8,8.0 C1.6,8.0 0.5,7.2 0.5,5.9 C0.5,4.8 1.2,3.9 1.6,2.6 Z" fill="#000"/>
<text x="465.5" y="1036.7" class="ax">m</text>
<text x="498.4" y="1036.7" class="ax ser">)</text>
<text transform="translate(44.9,754.0) rotate(-90)" text-anchor="middle" class="ax">Reflectance</text>
<clipPath id="clipD"><rect x="786.8" y="551.9" width="510.5" height="410.2"/></clipPath>
<linearGradient id="gDred" gradientUnits="userSpaceOnUse" x1="0" y1="731.0" x2="0" y2="829.2"><stop offset="0" stop-color="#ffc4c4" stop-opacity="0.85"/><stop offset="1" stop-color="#ff0a0a" stop-opacity="1.00"/></linearGradient>
<linearGradient id="gDgreen" gradientUnits="userSpaceOnUse" x1="0" y1="729.0" x2="0" y2="836.7"><stop offset="0" stop-color="#5cffc4" stop-opacity="0.85"/><stop offset="1" stop-color="#46d98a" stop-opacity="0.90"/></linearGradient>
<linearGradient id="gDblue" gradientUnits="userSpaceOnUse" x1="0" y1="742.5" x2="0" y2="864.2"><stop offset="0" stop-color="#add5f9" stop-opacity="0.45"/><stop offset="0.5" stop-color="#a8c4f6" stop-opacity="0.55"/><stop offset="1" stop-color="#959fef" stop-opacity="0.85"/></linearGradient>
<g clip-path="url(#clipD)">
<path d="M800.0,731.00 L800.0,731.01 L800.5,731.02 L801.0,731.02 L801.5,731.03 L802.0,731.04 L802.5,731.05 L803.0,731.07 L803.5,731.08 L804.0,731.09 L804.5,731.10 L805.0,731.11 L805.5,731.13 L806.0,731.14 L806.5,731.15 L807.0,731.16 L807.5,731.18 L808.0,731.19 L808.5,731.21 L809.0,731.22 L809.5,731.24 L810.0,731.25 L810.5,731.27 L811.0,731.28 L811.5,731.30 L812.0,731.31 L812.5,731.33 L813.0,731.35 L813.5,731.37 L814.0,731.38 L814.5,731.40 L815.0,731.42 L815.5,731.44 L816.0,731.46 L816.5,731.48 L817.0,731.50 L817.5,731.52 L818.0,731.55 L818.5,731.57 L819.0,731.59 L819.5,731.61 L820.0,731.64 L820.5,731.66 L821.0,731.69 L821.5,731.71 L822.0,731.74 L822.5,731.77 L823.0,731.80 L823.5,731.82 L824.0,731.85 L824.5,731.88 L825.0,731.91 L825.5,731.95 L826.0,731.98 L826.5,732.01 L827.0,732.05 L827.5,732.08 L828.0,732.12 L828.5,732.15 L829.0,732.19 L829.5,732.23 L830.0,732.27 L830.5,732.31 L831.0,732.35 L831.5,732.40 L832.0,732.44 L832.5,732.49 L833.0,732.54 L833.5,732.59 L834.0,732.64 L834.5,732.69 L835.0,732.74 L835.5,732.80 L836.0,732.85 L836.5,732.91 L837.0,732.97 L837.5,733.03 L838.0,733.10 L838.5,733.16 L839.0,733.23 L839.5,733.30 L840.0,733.37 L840.5,733.44 L841.0,733.52 L841.5,733.60 L842.0,733.68 L842.5,733.77 L843.0,733.85 L843.5,733.94 L844.0,734.04 L844.5,734.13 L845.0,734.23 L845.5,734.33 L846.0,734.44 L846.5,734.55 L847.0,734.66 L847.5,734.78 L848.0,734.90 L848.5,735.03 L849.0,735.16 L849.5,735.29 L850.0,735.43 L850.5,735.58 L851.0,735.73 L851.5,735.89 L852.0,736.05 L852.5,736.22 L853.0,736.39 L853.5,736.57 L854.0,736.76 L854.5,736.95 L855.0,737.15 L855.5,737.36 L856.0,737.58 L856.5,737.81 L857.0,738.04 L857.5,738.29 L858.0,738.54 L858.5,738.81 L859.0,739.08 L859.5,739.37 L860.0,739.67 L860.5,739.98 L861.0,740.30 L861.5,740.64 L862.0,740.99 L862.5,741.35 L863.0,741.73 L863.5,742.13 L864.0,742.54 L864.5,742.97 L865.0,743.42 L865.5,743.88 L866.0,744.37 L866.5,744.87 L867.0,745.40 L867.5,745.95 L868.0,746.52 L868.5,747.11 L869.0,747.73 L869.5,748.38 L870.0,749.05 L870.5,749.74 L871.0,750.47 L871.5,751.22 L872.0,752.01 L872.5,752.82 L873.0,753.66 L873.5,754.54 L874.0,755.44 L874.5,756.38 L875.0,757.35 L875.5,758.35 L876.0,759.39 L876.5,760.45 L877.0,761.55 L877.5,762.67 L878.0,763.83 L878.5,765.01 L879.0,766.22 L879.5,767.46 L880.0,768.72 L880.5,769.99 L881.0,771.29 L881.5,772.60 L882.0,773.92 L882.5,775.25 L883.0,776.58 L883.5,777.91 L884.0,779.24 L884.5,780.57 L885.0,781.89 L885.5,783.19 L886.0,784.49 L886.5,785.78 L887.0,787.06 L887.5,788.34 L888.0,789.63 L888.5,790.92 L889.0,792.24 L889.5,793.59 L890.0,794.99 L890.5,796.44 L891.0,797.98 L891.5,799.60 L892.0,801.32 L892.5,803.14 L893.0,805.07 L893.5,807.10 L894.0,809.22 L894.5,811.41 L895.0,813.64 L895.5,815.87 L896.0,818.06 L896.5,820.15 L897.0,822.10 L897.5,823.85 L898.0,825.34 L898.5,826.52 L899.0,827.34 L899.5,827.79 L900.0,827.84 L900.5,827.52 L901.0,826.86 L901.5,825.92 L902.0,824.76 L902.5,823.43 L903.0,821.98 L903.5,820.43 L904.0,818.82 L904.5,817.17 L905.0,815.48 L905.5,813.77 L906.0,812.06 L906.5,810.34 L907.0,808.63 L907.5,806.93 L908.0,805.24 L908.5,803.57 L909.0,801.91 L909.5,800.29 L910.0,798.68 L910.5,797.10 L911.0,795.54 L911.5,794.01 L912.0,792.51 L912.5,791.03 L913.0,789.57 L913.5,788.14 L914.0,786.74 L914.5,785.36 L915.0,784.00 L915.5,782.67 L916.0,781.35 L916.5,780.06 L917.0,778.79 L917.5,777.55 L918.0,776.32 L918.5,775.11 L919.0,773.92 L919.5,772.74 L920.0,771.59 L920.5,770.45 L921.0,769.33 L921.5,768.22 L922.0,767.13 L922.5,766.06 L923.0,765.00 L923.5,763.96 L924.0,762.93 L924.5,761.92 L925.0,760.91 L925.5,759.93 L926.0,758.95 L926.5,757.99 L927.0,757.05 L927.5,756.11 L928.0,755.19 L928.5,754.29 L929.0,753.39 L929.5,752.51 L930.0,751.64 L930.5,750.78 L931.0,749.94 L931.5,749.10 L932.0,748.28 L932.5,747.47 L933.0,746.67 L933.5,745.89 L934.0,745.12 L934.5,744.35 L935.0,743.61 L935.5,742.87 L936.0,742.14 L936.5,741.43 L937.0,740.72 L937.5,740.03 L938.0,739.35 L938.5,738.69 L939.0,738.03 L939.5,737.39 L940.0,736.75 L940.5,736.13 L941.0,735.52 L941.5,734.92 L942.0,734.33 L942.5,733.76 L943.0,733.21 L943.5,732.69 L944.0,732.22 L944.5,731.82 L945.0,731.50 L945.0,731.00 Z" fill="url(#gDred)"/>
<path d="M795.0,729.00 L795.0,729.03 L795.5,729.04 L796.0,729.06 L796.5,729.09 L797.0,729.11 L797.5,729.14 L798.0,729.16 L798.5,729.19 L799.0,729.22 L799.5,729.25 L800.0,729.28 L800.5,729.31 L801.0,729.33 L801.5,729.36 L802.0,729.39 L802.5,729.42 L803.0,729.45 L803.5,729.48 L804.0,729.51 L804.5,729.54 L805.0,729.57 L805.5,729.60 L806.0,729.63 L806.5,729.66 L807.0,729.69 L807.5,729.72 L808.0,729.75 L808.5,729.78 L809.0,729.82 L809.5,729.85 L810.0,729.88 L810.5,729.91 L811.0,729.94 L811.5,729.97 L812.0,730.01 L812.5,730.04 L813.0,730.07 L813.5,730.11 L814.0,730.14 L814.5,730.17 L815.0,730.21 L815.5,730.24 L816.0,730.27 L816.5,730.31 L817.0,730.34 L817.5,730.38 L818.0,730.41 L818.5,730.45 L819.0,730.48 L819.5,730.52 L820.0,730.55 L820.5,730.59 L821.0,730.62 L821.5,730.66 L822.0,730.70 L822.5,730.73 L823.0,730.77 L823.5,730.81 L824.0,730.84 L824.5,730.88 L825.0,730.92 L825.5,730.96 L826.0,731.00 L826.5,731.03 L827.0,731.07 L827.5,731.11 L828.0,731.15 L828.5,731.19 L829.0,731.23 L829.5,731.27 L830.0,731.31 L830.5,731.35 L831.0,731.39 L831.5,731.43 L832.0,731.47 L832.5,731.51 L833.0,731.55 L833.5,731.60 L834.0,731.64 L834.5,731.68 L835.0,731.72 L835.5,731.77 L836.0,731.81 L836.5,731.85 L837.0,731.90 L837.5,731.94 L838.0,731.99 L838.5,732.03 L839.0,732.07 L839.5,732.12 L840.0,732.17 L840.5,732.21 L841.0,732.26 L841.5,732.30 L842.0,732.35 L842.5,732.40 L843.0,732.44 L843.5,732.49 L844.0,732.54 L844.5,732.59 L845.0,732.64 L845.5,732.68 L846.0,732.73 L846.5,732.78 L847.0,732.83 L847.5,732.88 L848.0,732.93 L848.5,732.98 L849.0,733.04 L849.5,733.09 L850.0,733.14 L850.5,733.19 L851.0,733.24 L851.5,733.30 L852.0,733.35 L852.5,733.40 L853.0,733.46 L853.5,733.51 L854.0,733.57 L854.5,733.62 L855.0,733.68 L855.5,733.73 L856.0,733.79 L856.5,733.84 L857.0,733.90 L857.5,733.96 L858.0,734.02 L858.5,734.07 L859.0,734.13 L859.5,734.19 L860.0,734.25 L860.5,734.31 L861.0,734.37 L861.5,734.43 L862.0,734.49 L862.5,734.55 L863.0,734.62 L863.5,734.68 L864.0,734.74 L864.5,734.81 L865.0,734.87 L865.5,734.93 L866.0,735.00 L866.5,735.06 L867.0,735.13 L867.5,735.19 L868.0,735.26 L868.5,735.33 L869.0,735.40 L869.5,735.46 L870.0,735.53 L870.5,735.60 L871.0,735.67 L871.5,735.74 L872.0,735.81 L872.5,735.88 L873.0,735.95 L873.5,736.03 L874.0,736.10 L874.5,736.17 L875.0,736.25 L875.5,736.32 L876.0,736.40 L876.5,736.47 L877.0,736.55 L877.5,736.62 L878.0,736.70 L878.5,736.78 L879.0,736.86 L879.5,736.94 L880.0,737.02 L880.5,737.10 L881.0,737.18 L881.5,737.26 L882.0,737.34 L882.5,737.42 L883.0,737.51 L883.5,737.59 L884.0,737.68 L884.5,737.76 L885.0,737.85 L885.5,737.94 L886.0,738.02 L886.5,738.11 L887.0,738.20 L887.5,738.29 L888.0,738.38 L888.5,738.47 L889.0,738.56 L889.5,738.66 L890.0,738.75 L890.5,738.84 L891.0,738.94 L891.5,739.03 L892.0,739.13 L892.5,739.23 L893.0,739.32 L893.5,739.42 L894.0,739.52 L894.5,739.62 L895.0,739.72 L895.5,739.83 L896.0,739.93 L896.5,740.03 L897.0,740.14 L897.5,740.24 L898.0,740.35 L898.5,740.46 L899.0,740.57 L899.5,740.67 L900.0,740.78 L900.5,740.90 L901.0,741.01 L901.5,741.12 L902.0,741.23 L902.5,741.35 L903.0,741.46 L903.5,741.58 L904.0,741.70 L904.5,741.82 L905.0,741.94 L905.5,742.06 L906.0,742.18 L906.5,742.30 L907.0,742.43 L907.5,742.55 L908.0,742.68 L908.5,742.81 L909.0,742.94 L909.5,743.06 L910.0,743.20 L910.5,743.33 L911.0,743.46 L911.5,743.60 L912.0,743.73 L912.5,743.87 L913.0,744.01 L913.5,744.15 L914.0,744.29 L914.5,744.43 L915.0,744.57 L915.5,744.72 L916.0,744.86 L916.5,745.01 L917.0,745.16 L917.5,745.31 L918.0,745.46 L918.5,745.61 L919.0,745.77 L919.5,745.92 L920.0,746.08 L920.5,746.24 L921.0,746.40 L921.5,746.56 L922.0,746.72 L922.5,746.89 L923.0,747.06 L923.5,747.22 L924.0,747.39 L924.5,747.57 L925.0,747.74 L925.5,747.92 L926.0,748.09 L926.5,748.27 L927.0,748.45 L927.5,748.64 L928.0,748.82 L928.5,749.01 L929.0,749.20 L929.5,749.39 L930.0,749.58 L930.5,749.78 L931.0,749.98 L931.5,750.18 L932.0,750.38 L932.5,750.59 L933.0,750.80 L933.5,751.01 L934.0,751.22 L934.5,751.44 L935.0,751.66 L935.5,751.88 L936.0,752.11 L936.5,752.34 L937.0,752.58 L937.5,752.81 L938.0,753.05 L938.5,753.30 L939.0,753.55 L939.5,753.80 L940.0,754.06 L940.5,754.32 L941.0,754.59 L941.5,754.86 L942.0,755.13 L942.5,755.42 L943.0,755.70 L943.5,756.00 L944.0,756.30 L944.5,756.60 L945.0,756.91 L945.5,757.23 L946.0,757.56 L946.5,757.89 L947.0,758.23 L947.5,758.58 L948.0,758.94 L948.5,759.30 L949.0,759.68 L949.5,760.06 L950.0,760.45 L950.5,760.85 L951.0,761.27 L951.5,761.69 L952.0,762.12 L952.5,762.57 L953.0,763.03 L953.5,763.50 L954.0,763.98 L954.5,764.47 L955.0,764.98 L955.5,765.50 L956.0,766.03 L956.5,766.58 L957.0,767.15 L957.5,767.72 L958.0,768.32 L958.5,768.93 L959.0,769.55 L959.5,770.19 L960.0,770.85 L960.5,771.53 L961.0,772.22 L961.5,772.93 L962.0,773.66 L962.5,774.40 L963.0,775.16 L963.5,775.94 L964.0,776.74 L964.5,777.56 L965.0,778.40 L965.5,779.25 L966.0,780.12 L966.5,781.01 L967.0,781.92 L967.5,782.85 L968.0,783.79 L968.5,784.75 L969.0,785.73 L969.5,786.73 L970.0,787.74 L970.5,788.77 L971.0,789.81 L971.5,790.87 L972.0,791.94 L972.5,793.02 L973.0,794.12 L973.5,795.23 L974.0,796.35 L974.5,797.49 L975.0,798.63 L975.5,799.78 L976.0,800.94 L976.5,802.10 L977.0,803.27 L977.5,804.44 L978.0,805.61 L978.5,806.79 L979.0,807.97 L979.5,809.14 L980.0,810.31 L980.5,811.48 L981.0,812.64 L981.5,813.80 L982.0,814.94 L982.5,816.07 L983.0,817.20 L983.5,818.30 L984.0,819.40 L984.5,820.47 L985.0,821.53 L985.5,822.56 L986.0,823.58 L986.5,824.56 L987.0,825.53 L987.5,826.46 L988.0,827.37 L988.5,828.24 L989.0,829.09 L989.5,829.89 L990.0,830.67 L990.5,831.40 L991.0,832.09 L991.5,832.75 L992.0,833.36 L992.5,833.92 L993.0,834.44 L993.5,834.90 L994.0,835.32 L994.5,835.67 L995.0,835.97 L995.5,836.20 L996.0,836.35 L996.5,836.43 L997.0,836.42 L997.5,836.35 L998.0,836.20 L998.5,835.99 L999.0,835.73 L999.5,835.42 L1000.0,835.06 L1000.5,834.66 L1001.0,834.22 L1001.5,833.74 L1002.0,833.22 L1002.5,832.67 L1003.0,832.07 L1003.5,831.45 L1004.0,830.79 L1004.5,830.09 L1005.0,829.37 L1005.5,828.62 L1006.0,827.83 L1006.5,827.02 L1007.0,826.18 L1007.5,825.32 L1008.0,824.43 L1008.5,823.52 L1009.0,822.58 L1009.5,821.63 L1010.0,820.65 L1010.5,819.65 L1011.0,818.64 L1011.5,817.61 L1012.0,816.57 L1012.5,815.51 L1013.0,814.44 L1013.5,813.35 L1014.0,812.26 L1014.5,811.15 L1015.0,810.04 L1015.5,808.92 L1016.0,807.79 L1016.5,806.66 L1017.0,805.52 L1017.5,804.38 L1018.0,803.23 L1018.5,802.09 L1019.0,800.94 L1019.5,799.80 L1020.0,798.66 L1020.5,797.52 L1021.0,796.38 L1021.5,795.25 L1022.0,794.12 L1022.5,793.00 L1023.0,791.88 L1023.5,790.77 L1024.0,789.67 L1024.5,788.58 L1025.0,787.50 L1025.5,786.42 L1026.0,785.36 L1026.5,784.31 L1027.0,783.27 L1027.5,782.24 L1028.0,781.23 L1028.5,780.23 L1029.0,779.24 L1029.5,778.26 L1030.0,777.30 L1030.5,776.36 L1031.0,775.43 L1031.5,774.51 L1032.0,773.61 L1032.5,772.73 L1033.0,771.86 L1033.5,771.00 L1034.0,770.16 L1034.5,769.34 L1035.0,768.54 L1035.5,767.75 L1036.0,766.97 L1036.5,766.22 L1037.0,765.47 L1037.5,764.75 L1038.0,764.04 L1038.5,763.35 L1039.0,762.67 L1039.5,762.01 L1040.0,761.36 L1040.5,760.73 L1041.0,760.11 L1041.5,759.51 L1042.0,758.93 L1042.5,758.36 L1043.0,757.80 L1043.5,757.26 L1044.0,756.73 L1044.5,756.22 L1045.0,755.72 L1045.5,755.23 L1046.0,754.76 L1046.5,754.30 L1047.0,753.85 L1047.5,753.41 L1048.0,752.99 L1048.5,752.58 L1049.0,752.17 L1049.5,751.78 L1050.0,751.41 L1050.5,751.04 L1051.0,750.68 L1051.5,750.33 L1052.0,749.99 L1052.5,749.67 L1053.0,749.35 L1053.5,749.04 L1054.0,748.74 L1054.5,748.44 L1055.0,748.16 L1055.5,747.88 L1056.0,747.61 L1056.5,747.35 L1057.0,747.10 L1057.5,746.85 L1058.0,746.61 L1058.5,746.38 L1059.0,746.15 L1059.5,745.93 L1060.0,745.71 L1060.5,745.50 L1061.0,745.30 L1061.5,745.10 L1062.0,744.90 L1062.5,744.71 L1063.0,744.53 L1063.5,744.35 L1064.0,744.17 L1064.5,744.00 L1065.0,743.83 L1065.5,743.67 L1066.0,743.51 L1066.5,743.35 L1067.0,743.20 L1067.5,743.05 L1068.0,742.90 L1068.5,742.76 L1069.0,742.62 L1069.5,742.48 L1070.0,742.35 L1070.5,742.22 L1071.0,742.09 L1071.5,741.96 L1072.0,741.83 L1072.5,741.71 L1073.0,741.59 L1073.5,741.47 L1074.0,741.36 L1074.5,741.24 L1075.0,741.13 L1075.5,741.02 L1076.0,740.91 L1076.5,740.81 L1077.0,740.70 L1077.5,740.60 L1078.0,740.49 L1078.5,740.39 L1079.0,740.29 L1079.5,740.20 L1080.0,740.10 L1080.5,740.00 L1081.0,739.91 L1081.5,739.82 L1082.0,739.72 L1082.5,739.63 L1083.0,739.54 L1083.5,739.46 L1084.0,739.37 L1084.5,739.28 L1085.0,739.20 L1085.5,739.11 L1086.0,739.03 L1086.5,738.95 L1087.0,738.86 L1087.5,738.78 L1088.0,738.70 L1088.5,738.62 L1089.0,738.55 L1089.5,738.47 L1090.0,738.39 L1090.5,738.32 L1091.0,738.24 L1091.5,738.17 L1092.0,738.09 L1092.5,738.02 L1093.0,737.95 L1093.5,737.88 L1094.0,737.80 L1094.5,737.73 L1095.0,737.66 L1095.5,737.60 L1096.0,737.53 L1096.5,737.46 L1097.0,737.39 L1097.5,737.33 L1098.0,737.26 L1098.5,737.19 L1099.0,737.13 L1099.5,737.06 L1100.0,737.00 L1100.5,736.94 L1101.0,736.88 L1101.5,736.81 L1102.0,736.75 L1102.5,736.69 L1103.0,736.63 L1103.5,736.57 L1104.0,736.51 L1104.5,736.45 L1105.0,736.39 L1105.5,736.33 L1106.0,736.28 L1106.5,736.22 L1107.0,736.16 L1107.5,736.11 L1108.0,736.05 L1108.5,736.00 L1109.0,735.94 L1109.5,735.89 L1110.0,735.83 L1110.5,735.78 L1111.0,735.73 L1111.5,735.67 L1112.0,735.62 L1112.5,735.57 L1113.0,735.52 L1113.5,735.47 L1114.0,735.42 L1114.5,735.37 L1115.0,735.32 L1115.5,735.27 L1116.0,735.22 L1116.5,735.17 L1117.0,735.12 L1117.5,735.07 L1118.0,735.02 L1118.5,734.98 L1119.0,734.93 L1119.5,734.88 L1120.0,734.84 L1120.5,734.79 L1121.0,734.75 L1121.5,734.70 L1122.0,734.66 L1122.5,734.61 L1123.0,734.57 L1123.5,734.52 L1124.0,734.48 L1124.5,734.44 L1125.0,734.39 L1125.5,734.35 L1126.0,734.31 L1126.5,734.27 L1127.0,734.23 L1127.5,734.18 L1128.0,734.14 L1128.5,734.10 L1129.0,734.06 L1129.5,734.02 L1130.0,733.98 L1130.5,733.94 L1131.0,733.90 L1131.5,733.87 L1132.0,733.83 L1132.5,733.79 L1133.0,733.75 L1133.5,733.71 L1134.0,733.67 L1134.5,733.64 L1135.0,733.60 L1135.5,733.56 L1136.0,733.53 L1136.5,733.49 L1137.0,733.45 L1137.5,733.42 L1138.0,733.38 L1138.5,733.35 L1139.0,733.31 L1139.5,733.28 L1140.0,733.24 L1140.5,733.21 L1141.0,733.18 L1141.5,733.14 L1142.0,733.11 L1142.5,733.07 L1143.0,733.04 L1143.5,733.01 L1144.0,732.98 L1144.5,732.94 L1145.0,732.91 L1145.5,732.88 L1146.0,732.85 L1146.5,732.82 L1147.0,732.78 L1147.5,732.75 L1148.0,732.72 L1148.5,732.69 L1149.0,732.66 L1149.5,732.63 L1150.0,732.60 L1150.5,732.57 L1151.0,732.54 L1151.5,732.51 L1152.0,732.48 L1152.5,732.45 L1153.0,732.42 L1153.5,732.39 L1154.0,732.36 L1154.5,732.34 L1155.0,732.31 L1155.5,732.28 L1156.0,732.25 L1156.5,732.22 L1157.0,732.20 L1157.5,732.17 L1158.0,732.14 L1158.5,732.11 L1159.0,732.09 L1159.5,732.06 L1160.0,732.03 L1160.5,732.01 L1161.0,731.98 L1161.5,731.96 L1162.0,731.93 L1162.5,731.90 L1163.0,731.88 L1163.5,731.85 L1164.0,731.83 L1164.5,731.80 L1165.0,731.78 L1165.5,731.75 L1166.0,731.73 L1166.5,731.70 L1167.0,731.68 L1167.5,731.66 L1168.0,731.63 L1168.5,731.61 L1169.0,731.58 L1169.5,731.56 L1170.0,731.54 L1170.5,731.51 L1171.0,731.49 L1171.5,731.47 L1172.0,731.44 L1172.5,731.42 L1173.0,731.40 L1173.5,731.38 L1174.0,731.35 L1174.5,731.33 L1175.0,731.31 L1175.5,731.29 L1176.0,731.27 L1176.5,731.24 L1177.0,731.22 L1177.5,731.20 L1178.0,731.18 L1178.5,731.16 L1179.0,731.14 L1179.5,731.12 L1180.0,731.10 L1180.5,731.07 L1181.0,731.05 L1181.5,731.03 L1182.0,731.01 L1182.5,730.99 L1183.0,730.97 L1183.5,730.95 L1184.0,730.93 L1184.5,730.91 L1185.0,730.89 L1185.5,730.87 L1186.0,730.85 L1186.5,730.84 L1187.0,730.82 L1187.5,730.80 L1188.0,730.78 L1188.5,730.76 L1189.0,730.74 L1189.5,730.72 L1190.0,730.70 L1190.5,730.68 L1191.0,730.67 L1191.5,730.65 L1192.0,730.63 L1192.5,730.61 L1193.0,730.59 L1193.5,730.57 L1194.0,730.56 L1194.5,730.54 L1195.0,730.52 L1195.5,730.50 L1196.0,730.49 L1196.5,730.47 L1197.0,730.45 L1197.5,730.44 L1198.0,730.42 L1198.5,730.40 L1199.0,730.38 L1199.5,730.37 L1200.0,730.35 L1200.5,730.33 L1201.0,730.32 L1201.5,730.30 L1202.0,730.28 L1202.5,730.27 L1203.0,730.25 L1203.5,730.24 L1204.0,730.22 L1204.5,730.20 L1205.0,730.19 L1205.5,730.17 L1206.0,730.16 L1206.5,730.14 L1207.0,730.13 L1207.5,730.11 L1208.0,730.10 L1208.5,730.08 L1209.0,730.06 L1209.5,730.05 L1210.0,730.03 L1210.5,730.02 L1211.0,730.00 L1211.5,729.99 L1212.0,729.97 L1212.5,729.96 L1213.0,729.95 L1213.5,729.93 L1214.0,729.92 L1214.5,729.90 L1215.0,729.89 L1215.5,729.87 L1216.0,729.86 L1216.5,729.85 L1217.0,729.83 L1217.5,729.82 L1218.0,729.80 L1218.5,729.79 L1219.0,729.78 L1219.5,729.76 L1220.0,729.75 L1220.5,729.74 L1221.0,729.72 L1221.5,729.71 L1222.0,729.70 L1222.5,729.68 L1223.0,729.67 L1223.5,729.66 L1224.0,729.64 L1224.5,729.63 L1225.0,729.62 L1225.5,729.60 L1226.0,729.59 L1226.5,729.58 L1227.0,729.57 L1227.5,729.55 L1228.0,729.54 L1228.5,729.53 L1229.0,729.52 L1229.5,729.50 L1230.0,729.49 L1230.5,729.48 L1231.0,729.47 L1231.5,729.45 L1232.0,729.44 L1232.5,729.43 L1233.0,729.42 L1233.5,729.41 L1234.0,729.39 L1234.5,729.38 L1235.0,729.37 L1235.5,729.36 L1236.0,729.35 L1236.5,729.33 L1237.0,729.32 L1237.5,729.31 L1238.0,729.30 L1238.5,729.29 L1239.0,729.28 L1239.5,729.27 L1240.0,729.26 L1240.5,729.24 L1241.0,729.23 L1241.5,729.22 L1242.0,729.21 L1242.5,729.20 L1243.0,729.19 L1243.5,729.18 L1244.0,729.17 L1244.5,729.16 L1245.0,729.15 L1245.5,729.13 L1246.0,729.12 L1246.5,729.11 L1247.0,729.10 L1247.5,729.09 L1248.0,729.08 L1248.5,729.07 L1249.0,729.06 L1249.5,729.05 L1250.0,729.04 L1250.5,729.03 L1251.0,729.02 L1251.5,729.02 L1252.0,729.01 L1252.0,729.00 Z" fill="url(#gDgreen)"/>
<g fill="none" stroke="#858585" stroke-width="1.45"><circle cx="790.6" cy="709.1" r="2.75"/><circle cx="796.3" cy="710.5" r="2.75"/><circle cx="802.0" cy="712.5" r="2.75"/><circle cx="807.8" cy="714.9" r="2.75"/><circle cx="813.5" cy="717.5" r="2.75"/><circle cx="819.2" cy="720.0" r="2.75"/><circle cx="824.9" cy="722.4" r="2.75"/><circle cx="830.6" cy="725.0" r="2.75"/><circle cx="836.4" cy="728.0" r="2.75"/><circle cx="842.1" cy="732.1" r="2.75"/><circle cx="847.8" cy="737.6" r="2.75"/><circle cx="853.5" cy="745.0" r="2.75"/><circle cx="859.2" cy="754.5" r="2.75"/><circle cx="865.0" cy="766.3" r="2.75"/><circle cx="870.7" cy="780.5" r="2.75"/><circle cx="876.4" cy="796.0" r="2.75"/><circle cx="882.1" cy="811.2" r="2.75"/><circle cx="887.8" cy="824.7" r="2.75"/><circle cx="893.6" cy="834.8" r="2.75"/><circle cx="899.3" cy="840.1" r="2.75"/><circle cx="905.0" cy="839.2" r="2.75"/><circle cx="910.7" cy="833.0" r="2.75"/><circle cx="916.4" cy="823.0" r="2.75"/><circle cx="922.2" cy="811.0" r="2.75"/><circle cx="927.9" cy="799.6" r="2.75"/><circle cx="933.6" cy="791.6" r="2.75"/><circle cx="939.3" cy="788.1" r="2.75"/><circle cx="945.0" cy="789.1" r="2.75"/><circle cx="950.8" cy="795.1" r="2.75"/><circle cx="956.5" cy="805.9" r="2.75"/><circle cx="962.2" cy="820.3" r="2.75"/><circle cx="967.9" cy="836.4" r="2.75"/><circle cx="973.6" cy="852.3" r="2.75"/><circle cx="979.4" cy="866.3" r="2.75"/><circle cx="985.1" cy="876.8" r="2.75"/><circle cx="990.8" cy="883.5" r="2.75"/><circle cx="996.5" cy="886.6" r="2.75"/><circle cx="1002.2" cy="886.1" r="2.75"/><circle cx="1008.0" cy="882.3" r="2.75"/><circle cx="1013.7" cy="876.0" r="2.75"/><circle cx="1019.4" cy="868.4" r="2.75"/><circle cx="1025.1" cy="860.6" r="2.75"/><circle cx="1030.8" cy="853.6" r="2.75"/><circle cx="1036.6" cy="848.4" r="2.75"/><circle cx="1042.3" cy="845.2" r="2.75"/><circle cx="1048.0" cy="843.6" r="2.75"/><circle cx="1053.7" cy="842.9" r="2.75"/><circle cx="1059.4" cy="842.8" r="2.75"/><circle cx="1065.2" cy="842.8" r="2.75"/><circle cx="1070.9" cy="842.5" r="2.75"/><circle cx="1076.6" cy="842.2" r="2.75"/><circle cx="1082.3" cy="842.0" r="2.75"/><circle cx="1088.0" cy="842.4" r="2.75"/><circle cx="1093.8" cy="843.4" r="2.75"/><circle cx="1099.5" cy="845.0" r="2.75"/><circle cx="1105.2" cy="846.7" r="2.75"/><circle cx="1110.9" cy="848.3" r="2.75"/><circle cx="1116.6" cy="849.4" r="2.75"/><circle cx="1122.4" cy="850.2" r="2.75"/><circle cx="1128.1" cy="850.6" r="2.75"/><circle cx="1133.8" cy="850.4" r="2.75"/><circle cx="1139.5" cy="849.8" r="2.75"/><circle cx="1145.2" cy="848.5" r="2.75"/><circle cx="1151.0" cy="846.7" r="2.75"/><circle cx="1156.7" cy="844.4" r="2.75"/><circle cx="1162.4" cy="841.6" r="2.75"/><circle cx="1168.1" cy="838.4" r="2.75"/><circle cx="1173.8" cy="834.8" r="2.75"/><circle cx="1179.6" cy="830.8" r="2.75"/><circle cx="1185.3" cy="826.5" r="2.75"/><circle cx="1191.0" cy="821.8" r="2.75"/><circle cx="1196.7" cy="817.0" r="2.75"/><circle cx="1202.4" cy="811.9" r="2.75"/><circle cx="1208.2" cy="806.6" r="2.75"/><circle cx="1213.9" cy="801.2" r="2.75"/><circle cx="1219.6" cy="795.7" r="2.75"/><circle cx="1225.3" cy="790.1" r="2.75"/><circle cx="1231.0" cy="784.3" r="2.75"/><circle cx="1236.8" cy="778.2" r="2.75"/><circle cx="1242.5" cy="771.7" r="2.75"/><circle cx="1248.2" cy="764.9" r="2.75"/><circle cx="1253.9" cy="758.2" r="2.75"/><circle cx="1259.6" cy="751.9" r="2.75"/><circle cx="1265.4" cy="746.3" r="2.75"/><circle cx="1271.1" cy="741.5" r="2.75"/><circle cx="1276.8" cy="737.4" r="2.75"/><circle cx="1282.5" cy="734.1" r="2.75"/><circle cx="1288.2" cy="731.5" r="2.75"/><circle cx="1294.0" cy="729.6" r="2.75"/></g>
<path d="M890.0,742.50 L890.0,742.54 L890.5,742.56 L891.0,742.59 L891.5,742.62 L892.0,742.66 L892.5,742.70 L893.0,742.74 L893.5,742.78 L894.0,742.82 L894.5,742.86 L895.0,742.90 L895.5,742.95 L896.0,742.99 L896.5,743.03 L897.0,743.07 L897.5,743.12 L898.0,743.16 L898.5,743.20 L899.0,743.25 L899.5,743.29 L900.0,743.34 L900.5,743.38 L901.0,743.43 L901.5,743.47 L902.0,743.52 L902.5,743.57 L903.0,743.61 L903.5,743.66 L904.0,743.71 L904.5,743.75 L905.0,743.80 L905.5,743.85 L906.0,743.90 L906.5,743.95 L907.0,744.00 L907.5,744.05 L908.0,744.10 L908.5,744.15 L909.0,744.20 L909.5,744.25 L910.0,744.30 L910.5,744.35 L911.0,744.41 L911.5,744.46 L912.0,744.51 L912.5,744.57 L913.0,744.62 L913.5,744.68 L914.0,744.73 L914.5,744.79 L915.0,744.84 L915.5,744.90 L916.0,744.95 L916.5,745.01 L917.0,745.07 L917.5,745.12 L918.0,745.18 L918.5,745.24 L919.0,745.30 L919.5,745.36 L920.0,745.42 L920.5,745.48 L921.0,745.54 L921.5,745.60 L922.0,745.66 L922.5,745.72 L923.0,745.79 L923.5,745.85 L924.0,745.91 L924.5,745.98 L925.0,746.04 L925.5,746.11 L926.0,746.17 L926.5,746.24 L927.0,746.30 L927.5,746.37 L928.0,746.44 L928.5,746.50 L929.0,746.57 L929.5,746.64 L930.0,746.71 L930.5,746.78 L931.0,746.85 L931.5,746.92 L932.0,746.99 L932.5,747.06 L933.0,747.14 L933.5,747.21 L934.0,747.28 L934.5,747.36 L935.0,747.43 L935.5,747.51 L936.0,747.58 L936.5,747.66 L937.0,747.74 L937.5,747.81 L938.0,747.89 L938.5,747.97 L939.0,748.05 L939.5,748.13 L940.0,748.21 L940.5,748.29 L941.0,748.37 L941.5,748.45 L942.0,748.53 L942.5,748.62 L943.0,748.70 L943.5,748.79 L944.0,748.87 L944.5,748.96 L945.0,749.04 L945.5,749.13 L946.0,749.22 L946.5,749.30 L947.0,749.39 L947.5,749.48 L948.0,749.57 L948.5,749.66 L949.0,749.76 L949.5,749.85 L950.0,749.94 L950.5,750.03 L951.0,750.13 L951.5,750.22 L952.0,750.32 L952.5,750.41 L953.0,750.51 L953.5,750.61 L954.0,750.71 L954.5,750.81 L955.0,750.91 L955.5,751.01 L956.0,751.11 L956.5,751.21 L957.0,751.31 L957.5,751.41 L958.0,751.52 L958.5,751.62 L959.0,751.73 L959.5,751.83 L960.0,751.94 L960.5,752.05 L961.0,752.16 L961.5,752.27 L962.0,752.38 L962.5,752.49 L963.0,752.60 L963.5,752.71 L964.0,752.83 L964.5,752.94 L965.0,753.05 L965.5,753.17 L966.0,753.29 L966.5,753.40 L967.0,753.52 L967.5,753.64 L968.0,753.76 L968.5,753.88 L969.0,754.00 L969.5,754.12 L970.0,754.25 L970.5,754.37 L971.0,754.50 L971.5,754.62 L972.0,754.75 L972.5,754.88 L973.0,755.00 L973.5,755.13 L974.0,755.26 L974.5,755.39 L975.0,755.52 L975.5,755.66 L976.0,755.79 L976.5,755.92 L977.0,756.06 L977.5,756.20 L978.0,756.33 L978.5,756.47 L979.0,756.61 L979.5,756.75 L980.0,756.89 L980.5,757.03 L981.0,757.17 L981.5,757.32 L982.0,757.46 L982.5,757.61 L983.0,757.75 L983.5,757.90 L984.0,758.05 L984.5,758.20 L985.0,758.35 L985.5,758.50 L986.0,758.65 L986.5,758.80 L987.0,758.95 L987.5,759.11 L988.0,759.27 L988.5,759.42 L989.0,759.58 L989.5,759.74 L990.0,759.90 L990.5,760.06 L991.0,760.22 L991.5,760.38 L992.0,760.55 L992.5,760.71 L993.0,760.88 L993.5,761.04 L994.0,761.21 L994.5,761.38 L995.0,761.55 L995.5,761.72 L996.0,761.89 L996.5,762.06 L997.0,762.24 L997.5,762.41 L998.0,762.59 L998.5,762.77 L999.0,762.95 L999.5,763.12 L1000.0,763.30 L1000.5,763.49 L1001.0,763.67 L1001.5,763.85 L1002.0,764.04 L1002.5,764.22 L1003.0,764.41 L1003.5,764.60 L1004.0,764.79 L1004.5,764.98 L1005.0,765.17 L1005.5,765.36 L1006.0,765.56 L1006.5,765.75 L1007.0,765.95 L1007.5,766.15 L1008.0,766.35 L1008.5,766.55 L1009.0,766.75 L1009.5,766.95 L1010.0,767.16 L1010.5,767.36 L1011.0,767.57 L1011.5,767.78 L1012.0,767.99 L1012.5,768.20 L1013.0,768.41 L1013.5,768.62 L1014.0,768.84 L1014.5,769.05 L1015.0,769.27 L1015.5,769.49 L1016.0,769.71 L1016.5,769.93 L1017.0,770.16 L1017.5,770.38 L1018.0,770.61 L1018.5,770.84 L1019.0,771.07 L1019.5,771.30 L1020.0,771.53 L1020.5,771.77 L1021.0,772.01 L1021.5,772.25 L1022.0,772.49 L1022.5,772.73 L1023.0,772.97 L1023.5,773.22 L1024.0,773.47 L1024.5,773.72 L1025.0,773.97 L1025.5,774.22 L1026.0,774.48 L1026.5,774.74 L1027.0,775.00 L1027.5,775.26 L1028.0,775.52 L1028.5,775.79 L1029.0,776.06 L1029.5,776.33 L1030.0,776.60 L1030.5,776.88 L1031.0,777.16 L1031.5,777.44 L1032.0,777.72 L1032.5,778.01 L1033.0,778.29 L1033.5,778.59 L1034.0,778.88 L1034.5,779.18 L1035.0,779.47 L1035.5,779.78 L1036.0,780.08 L1036.5,780.39 L1037.0,780.70 L1037.5,781.01 L1038.0,781.33 L1038.5,781.65 L1039.0,781.98 L1039.5,782.30 L1040.0,782.63 L1040.5,782.97 L1041.0,783.30 L1041.5,783.64 L1042.0,783.99 L1042.5,784.33 L1043.0,784.68 L1043.5,785.04 L1044.0,785.40 L1044.5,785.76 L1045.0,786.13 L1045.5,786.50 L1046.0,786.87 L1046.5,787.25 L1047.0,787.63 L1047.5,788.01 L1048.0,788.40 L1048.5,788.80 L1049.0,789.20 L1049.5,789.60 L1050.0,790.01 L1050.5,790.42 L1051.0,790.84 L1051.5,791.26 L1052.0,791.68 L1052.5,792.11 L1053.0,792.55 L1053.5,792.99 L1054.0,793.43 L1054.5,793.88 L1055.0,794.33 L1055.5,794.79 L1056.0,795.25 L1056.5,795.72 L1057.0,796.19 L1057.5,796.67 L1058.0,797.15 L1058.5,797.64 L1059.0,798.14 L1059.5,798.63 L1060.0,799.14 L1060.5,799.64 L1061.0,800.16 L1061.5,800.67 L1062.0,801.20 L1062.5,801.73 L1063.0,802.26 L1063.5,802.80 L1064.0,803.34 L1064.5,803.89 L1065.0,804.44 L1065.5,805.00 L1066.0,805.56 L1066.5,806.13 L1067.0,806.70 L1067.5,807.28 L1068.0,807.86 L1068.5,808.45 L1069.0,809.04 L1069.5,809.64 L1070.0,810.24 L1070.5,810.85 L1071.0,811.46 L1071.5,812.07 L1072.0,812.69 L1072.5,813.31 L1073.0,813.94 L1073.5,814.57 L1074.0,815.20 L1074.5,815.84 L1075.0,816.48 L1075.5,817.13 L1076.0,817.78 L1076.5,818.43 L1077.0,819.08 L1077.5,819.74 L1078.0,820.40 L1078.5,821.07 L1079.0,821.73 L1079.5,822.40 L1080.0,823.07 L1080.5,823.75 L1081.0,824.42 L1081.5,825.10 L1082.0,825.78 L1082.5,826.46 L1083.0,827.14 L1083.5,827.82 L1084.0,828.51 L1084.5,829.19 L1085.0,829.87 L1085.5,830.56 L1086.0,831.24 L1086.5,831.92 L1087.0,832.61 L1087.5,833.29 L1088.0,833.97 L1088.5,834.65 L1089.0,835.33 L1089.5,836.01 L1090.0,836.68 L1090.5,837.35 L1091.0,838.02 L1091.5,838.69 L1092.0,839.36 L1092.5,840.02 L1093.0,840.68 L1093.5,841.33 L1094.0,841.98 L1094.5,842.63 L1095.0,843.27 L1095.5,843.90 L1096.0,844.53 L1096.5,845.16 L1097.0,845.78 L1097.5,846.39 L1098.0,847.00 L1098.5,847.60 L1099.0,848.20 L1099.5,848.79 L1100.0,849.37 L1100.5,849.94 L1101.0,850.50 L1101.5,851.06 L1102.0,851.61 L1102.5,852.15 L1103.0,852.68 L1103.5,853.20 L1104.0,853.71 L1104.5,854.21 L1105.0,854.71 L1105.5,855.19 L1106.0,855.66 L1106.5,856.12 L1107.0,856.57 L1107.5,857.01 L1108.0,857.44 L1108.5,857.86 L1109.0,858.26 L1109.5,858.65 L1110.0,859.03 L1110.5,859.40 L1111.0,859.76 L1111.5,860.10 L1112.0,860.43 L1112.5,860.75 L1113.0,861.05 L1113.5,861.34 L1114.0,861.62 L1114.5,861.88 L1115.0,862.13 L1115.5,862.36 L1116.0,862.58 L1116.5,862.79 L1117.0,862.98 L1117.5,863.16 L1118.0,863.33 L1118.5,863.47 L1119.0,863.61 L1119.5,863.73 L1120.0,863.83 L1120.5,863.92 L1121.0,864.00 L1121.5,864.06 L1122.0,864.11 L1122.5,864.14 L1123.0,864.15 L1123.5,864.15 L1124.0,864.14 L1124.5,864.10 L1125.0,864.05 L1125.5,863.99 L1126.0,863.91 L1126.5,863.81 L1127.0,863.69 L1127.5,863.55 L1128.0,863.40 L1128.5,863.23 L1129.0,863.05 L1129.5,862.85 L1130.0,862.63 L1130.5,862.40 L1131.0,862.14 L1131.5,861.88 L1132.0,861.59 L1132.5,861.30 L1133.0,860.98 L1133.5,860.65 L1134.0,860.31 L1134.5,859.95 L1135.0,859.57 L1135.5,859.19 L1136.0,858.79 L1136.5,858.37 L1137.0,857.94 L1137.5,857.50 L1138.0,857.05 L1138.5,856.58 L1139.0,856.11 L1139.5,855.62 L1140.0,855.12 L1140.5,854.61 L1141.0,854.09 L1141.5,853.56 L1142.0,853.02 L1142.5,852.47 L1143.0,851.91 L1143.5,851.35 L1144.0,850.77 L1144.5,850.19 L1145.0,849.60 L1145.5,849.01 L1146.0,848.41 L1146.5,847.80 L1147.0,847.19 L1147.5,846.57 L1148.0,845.95 L1148.5,845.32 L1149.0,844.69 L1149.5,844.05 L1150.0,843.41 L1150.5,842.77 L1151.0,842.13 L1151.5,841.48 L1152.0,840.83 L1152.5,840.18 L1153.0,839.52 L1153.5,838.87 L1154.0,838.21 L1154.5,837.55 L1155.0,836.89 L1155.5,836.23 L1156.0,835.57 L1156.5,834.91 L1157.0,834.25 L1157.5,833.59 L1158.0,832.93 L1158.5,832.27 L1159.0,831.61 L1159.5,830.95 L1160.0,830.29 L1160.5,829.64 L1161.0,828.98 L1161.5,828.33 L1162.0,827.68 L1162.5,827.03 L1163.0,826.38 L1163.5,825.73 L1164.0,825.08 L1164.5,824.44 L1165.0,823.80 L1165.5,823.16 L1166.0,822.52 L1166.5,821.88 L1167.0,821.25 L1167.5,820.62 L1168.0,819.99 L1168.5,819.36 L1169.0,818.74 L1169.5,818.11 L1170.0,817.49 L1170.5,816.87 L1171.0,816.26 L1171.5,815.64 L1172.0,815.03 L1172.5,814.42 L1173.0,813.82 L1173.5,813.21 L1174.0,812.61 L1174.5,812.01 L1175.0,811.41 L1175.5,810.82 L1176.0,810.22 L1176.5,809.63 L1177.0,809.05 L1177.5,808.46 L1178.0,807.88 L1178.5,807.30 L1179.0,806.72 L1179.5,806.14 L1180.0,805.57 L1180.5,805.00 L1181.0,804.43 L1181.5,803.86 L1182.0,803.30 L1182.5,802.74 L1183.0,802.18 L1183.5,801.62 L1184.0,801.07 L1184.5,800.52 L1185.0,799.97 L1185.5,799.42 L1186.0,798.88 L1186.5,798.33 L1187.0,797.80 L1187.5,797.26 L1188.0,796.73 L1188.5,796.19 L1189.0,795.67 L1189.5,795.14 L1190.0,794.62 L1190.5,794.09 L1191.0,793.58 L1191.5,793.06 L1192.0,792.55 L1192.5,792.04 L1193.0,791.53 L1193.5,791.03 L1194.0,790.52 L1194.5,790.03 L1195.0,789.53 L1195.5,789.04 L1196.0,788.55 L1196.5,788.06 L1197.0,787.57 L1197.5,787.09 L1198.0,786.61 L1198.5,786.14 L1199.0,785.67 L1199.5,785.20 L1200.0,784.73 L1200.5,784.27 L1201.0,783.81 L1201.5,783.35 L1202.0,782.89 L1202.5,782.44 L1203.0,781.99 L1203.5,781.55 L1204.0,781.11 L1204.5,780.67 L1205.0,780.23 L1205.5,779.80 L1206.0,779.37 L1206.5,778.95 L1207.0,778.52 L1207.5,778.10 L1208.0,777.69 L1208.5,777.28 L1209.0,776.87 L1209.5,776.46 L1210.0,776.06 L1210.5,775.66 L1211.0,775.26 L1211.5,774.87 L1212.0,774.48 L1212.5,774.09 L1213.0,773.71 L1213.5,773.33 L1214.0,772.95 L1214.5,772.58 L1215.0,772.21 L1215.5,771.84 L1216.0,771.48 L1216.5,771.12 L1217.0,770.76 L1217.5,770.41 L1218.0,770.05 L1218.5,769.71 L1219.0,769.36 L1219.5,769.02 L1220.0,768.68 L1220.5,768.35 L1221.0,768.02 L1221.5,767.69 L1222.0,767.36 L1222.5,767.04 L1223.0,766.72 L1223.5,766.41 L1224.0,766.09 L1224.5,765.78 L1225.0,765.48 L1225.5,765.17 L1226.0,764.87 L1226.5,764.57 L1227.0,764.28 L1227.5,763.99 L1228.0,763.70 L1228.5,763.41 L1229.0,763.13 L1229.5,762.85 L1230.0,762.57 L1230.5,762.30 L1231.0,762.02 L1231.5,761.75 L1232.0,761.49 L1232.5,761.22 L1233.0,760.96 L1233.5,760.71 L1234.0,760.45 L1234.5,760.20 L1235.0,759.95 L1235.5,759.70 L1236.0,759.46 L1236.5,759.21 L1237.0,758.97 L1237.5,758.74 L1238.0,758.50 L1238.5,758.27 L1239.0,758.04 L1239.5,757.81 L1240.0,757.59 L1240.5,757.37 L1241.0,757.15 L1241.5,756.93 L1242.0,756.71 L1242.5,756.50 L1243.0,756.29 L1243.5,756.08 L1244.0,755.87 L1244.5,755.67 L1245.0,755.47 L1245.5,755.27 L1246.0,755.07 L1246.5,754.88 L1247.0,754.68 L1247.5,754.49 L1248.0,754.30 L1248.5,754.11 L1249.0,753.93 L1249.5,753.75 L1250.0,753.57 L1250.5,753.39 L1251.0,753.21 L1251.5,753.03 L1252.0,752.86 L1252.5,752.69 L1253.0,752.52 L1253.5,752.35 L1254.0,752.19 L1254.5,752.02 L1255.0,751.86 L1255.5,751.70 L1256.0,751.54 L1256.5,751.38 L1257.0,751.23 L1257.5,751.07 L1258.0,750.92 L1258.5,750.77 L1259.0,750.62 L1259.5,750.47 L1260.0,750.33 L1260.5,750.18 L1261.0,750.04 L1261.5,749.90 L1262.0,749.76 L1262.5,749.62 L1263.0,749.49 L1263.5,749.35 L1264.0,749.22 L1264.5,749.08 L1265.0,748.95 L1265.5,748.82 L1266.0,748.70 L1266.5,748.57 L1267.0,748.44 L1267.5,748.32 L1268.0,748.20 L1268.5,748.08 L1269.0,747.96 L1269.5,747.84 L1270.0,747.72 L1270.5,747.60 L1271.0,747.49 L1271.5,747.37 L1272.0,747.26 L1272.5,747.15 L1273.0,747.04 L1273.5,746.93 L1274.0,746.82 L1274.5,746.72 L1275.0,746.61 L1275.5,746.51 L1276.0,746.40 L1276.5,746.30 L1277.0,746.20 L1277.5,746.10 L1278.0,746.00 L1278.5,745.90 L1279.0,745.80 L1279.5,745.71 L1280.0,745.61 L1280.5,745.52 L1281.0,745.42 L1281.5,745.33 L1282.0,745.24 L1282.5,745.15 L1283.0,745.06 L1283.5,744.97 L1284.0,744.89 L1284.5,744.80 L1285.0,744.71 L1285.5,744.63 L1286.0,744.54 L1286.5,744.46 L1287.0,744.38 L1287.5,744.30 L1288.0,744.22 L1288.5,744.14 L1289.0,744.06 L1289.5,743.98 L1290.0,743.90 L1290.5,743.82 L1291.0,743.75 L1291.5,743.67 L1292.0,743.60 L1292.5,743.52 L1293.0,743.45 L1293.5,743.38 L1294.0,743.31 L1294.5,743.24 L1295.0,743.17 L1295.5,743.10 L1296.0,743.03 L1296.5,742.96 L1297.0,742.89 L1297.5,742.83 L1298.0,742.76 L1298.5,742.70 L1299.0,742.65 L1299.0,742.50 Z" fill="url(#gDblue)"/>
</g>
<rect x="786.8" y="551.9" width="510.5" height="410.2" fill="none" stroke="#000" stroke-width="2.1" stroke-linejoin="round"/>
<path d="M779.6,962.10H786.8 M783.0,910.82H786.8 M779.6,859.55H786.8 M783.0,808.27H786.8 M779.6,757.00H786.8 M783.0,705.73H786.8 M779.6,654.45H786.8 M783.0,603.18H786.8 M779.6,551.90H786.8 M786.80,962.1V965.9 M888.90,962.1V969.3 M991.00,962.1V965.9 M1093.10,962.1V969.3 M1195.20,962.1V965.9 M1297.30,962.1V969.3" stroke="#000" stroke-width="1.9" stroke-linecap="round" fill="none"/>
<text x="772.3" y="972.5" text-anchor="end" class="tk">0.6</text>
<text x="772.3" y="870.0" text-anchor="end" class="tk">0.7</text>
<text x="772.3" y="767.4" text-anchor="end" class="tk">0.8</text>
<text x="772.3" y="664.9" text-anchor="end" class="tk">0.9</text>
<text x="772.3" y="562.3" text-anchor="end" class="tk">.0</text>
<path transform="translate(724.46,562.30) scale(0.01758,-0.01758)" d="M478,0 L759,0 L759,1409 L493,1409 L140,1180 L140,959 L478,1170 Z" fill="#000"/>
<text x="888.9" y="1003.1" text-anchor="middle" class="tk">6</text>
<text x="1093.1" y="1003.1" text-anchor="middle" class="tk">7</text>
<text x="1297.3" y="1003.1" text-anchor="middle" class="tk">8</text>
<text x="651.7" y="560.0" class="let">(D)</text>
<text x="1219.1" y="605.3" text-anchor="end" class="conc">20</text>
<path transform="translate(1233.80,605.30) scale(1.000)" d="M1.5,-18.2 L5.1,-18.2 L5.1,-5.5 C5.1,-3.0 6.5,-2.6 8.3,-3.0 C10.5,-3.5 12.8,-5.5 12.8,-8 L12.8,-18.2 L16.8,-18.2 L16.8,-5.0 C16.8,-3.2 17.4,-2.8 18.3,-3.4 L20.2,-5.0 C19.6,-1.5 18.6,0.6 16.8,0.6 C14.5,0.6 13.6,-1.0 13.0,-2.6 C11.5,-0.6 9.5,0.4 7.5,0.4 C6.2,0.4 5.3,0 4.9,-0.8 L4.5,3.6 C4.9,4.4 5.0,5.0 5.0,5.8 C5.0,7.2 3.9,8.0 2.8,8.0 C1.6,8.0 0.5,7.2 0.5,5.9 C0.5,4.8 1.2,3.9 1.6,2.6 Z" fill="#000"/>
<text x="1282.3" y="605.3" text-anchor="end" class="conc">g</text>
<text x="889.5" y="1039.5" class="ax">Wavelength</text>
<text x="1093.5" y="1039.5" class="ax ser">(</text>
<path transform="translate(1106.69,1039.50) scale(0.820)" d="M1.5,-18.2 L5.1,-18.2 L5.1,-5.5 C5.1,-3.0 6.5,-2.6 8.3,-3.0 C10.5,-3.5 12.8,-5.5 12.8,-8 L12.8,-18.2 L16.8,-18.2 L16.8,-5.0 C16.8,-3.2 17.4,-2.8 18.3,-3.4 L20.2,-5.0 C19.6,-1.5 18.6,0.6 16.8,0.6 C14.5,0.6 13.6,-1.0 13.0,-2.6 C11.5,-0.6 9.5,0.4 7.5,0.4 C6.2,0.4 5.3,0 4.9,-0.8 L4.5,3.6 C4.9,4.4 5.0,5.0 5.0,5.8 C5.0,7.2 3.9,8.0 2.8,8.0 C1.6,8.0 0.5,7.2 0.5,5.9 C0.5,4.8 1.2,3.9 1.6,2.6 Z" fill="#000"/>
<text x="1124.3" y="1039.5" class="ax">m</text>
<text x="1157.2" y="1039.5" class="ax ser">)</text>
<text transform="translate(703.7,757.0) rotate(-90)" text-anchor="middle" class="ax">Reflectance</text>
</svg></body></html>
